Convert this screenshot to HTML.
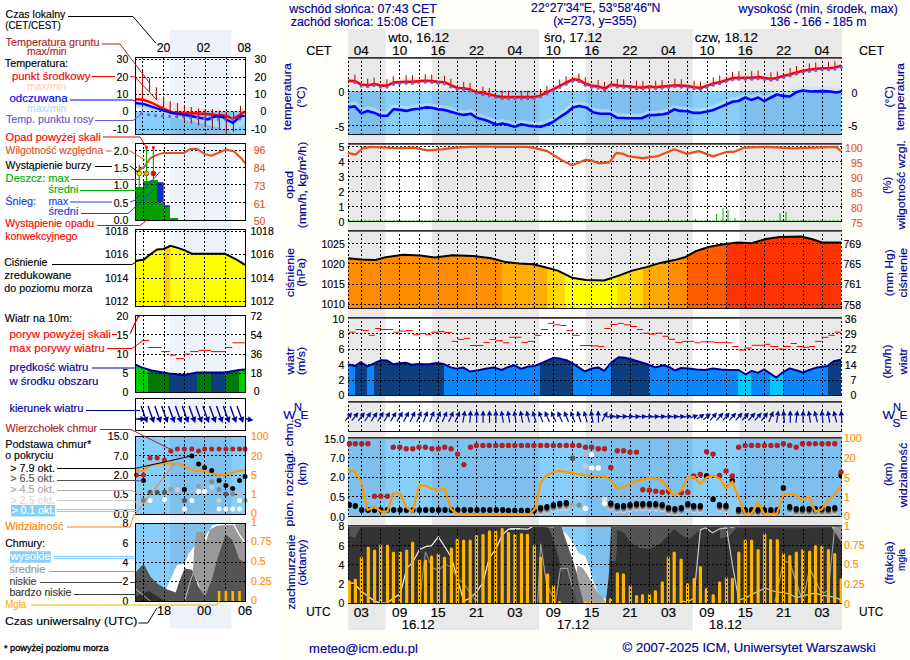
<!DOCTYPE html><html><head><meta charset="utf-8"><style>html,body{margin:0;padding:0;background:#fffef9;overflow:hidden}svg{display:block}</style></head><body><svg width="910" height="660" viewBox="0 0 910 660" font-family='"Liberation Sans", sans-serif'>
<rect width="910" height="660" fill="#fffef9"/>
<rect width="280" height="660" fill="#ffffff"/>
<rect x="348" y="29" width="494" height="601" fill="#e9e9e9"/>
<rect x="385.5" y="29" width="46.7" height="601" fill="#ffffff"/>
<rect x="539.1" y="29" width="46.7" height="601" fill="#ffffff"/>
<rect x="692.7" y="29" width="46.7" height="601" fill="#ffffff"/>
<rect x="170" y="30" width="61.5" height="598.5" fill="#eef3fb"/>
<rect x="348" y="91" width="493" height="43" fill="#7ec0ee"/>
<rect x="385.5" y="91" width="46.7" height="43" fill="#87cefa"/>
<rect x="539.1" y="91" width="46.7" height="43" fill="#87cefa"/>
<rect x="692.7" y="91" width="46.7" height="43" fill="#87cefa"/>
<path d="M348.0,80.7 L354.8,81.1 L361.4,84.6 L367.7,85.2 L374.6,84.0 L380.6,85.6 L387.5,85.6 L393.4,82.6 L400.3,82.0 L406.3,81.7 L413.2,81.7 L419.1,81.1 L425.5,80.7 L432.0,81.1 L437.9,81.7 L444.5,82.2 L450.8,85.2 L457.7,88.0 L463.6,88.2 L470.6,89.6 L476.5,92.1 L483.4,93.1 L489.4,94.5 L496.3,96.1 L502.2,97.1 L508.2,97.1 L510.0,97.1 L521.9,97.1 L533.7,97.1 L539.7,95.9 L546.6,92.5 L553.5,89.2 L560.4,85.6 L567.4,82.0 L573.3,79.3 L579.2,80.1 L585.2,83.6 L591.1,85.6 L598.0,86.6 L605.0,88.6 L610.9,84.6 L617.8,85.6 L623.7,86.0 L630.7,86.6 L636.6,87.2 L642.5,87.6 L649.5,86.6 L655.4,87.2 L662.3,86.6 L668.3,86.0 L675.2,85.2 L680.0,85.6 L687.9,86.0 L693.8,87.2 L700.8,88.0 L707.7,85.6 L713.6,83.6 L720.6,82.0 L727.5,79.7 L733.4,78.1 L739.3,77.7 L746.3,77.7 L752.2,77.7 L759.1,77.1 L765.1,78.1 L771.0,78.7 L776.9,78.1 L782.9,76.1 L788.8,74.7 L795.7,72.7 L802.7,70.8 L809.6,69.8 L816.5,68.8 L822.4,68.2 L828.4,68.2 L834.3,67.8 L841.0,65.8" fill="none" stroke="#ffd6d0" stroke-width="6" stroke-opacity="0.55" transform="translate(0,-1.5)"/>
<path d="M348.0,107.4 L354.8,106.4 L361.4,113.3 L367.7,110.9 L374.6,112.9 L380.6,115.7 L387.5,115.7 L393.4,109.3 L400.3,109.9 L406.3,110.9 L413.2,109.3 L419.1,108.8 L425.5,107.4 L432.0,107.8 L437.9,109.3 L444.5,109.9 L450.8,111.7 L457.7,113.7 L463.6,114.9 L470.6,113.7 L476.5,117.7 L483.4,119.6 L489.4,121.6 L496.3,124.8 L502.2,123.6 L508.2,124.8 L510.0,125.6 L514.9,126.8 L520.9,124.2 L527.8,125.6 L533.7,126.2 L540.7,126.8 L546.6,124.8 L552.5,122.2 L559.5,117.3 L566.4,112.9 L572.9,107.4 L579.2,106.0 L586.2,107.4 L593.1,112.3 L600.0,113.7 L609.9,113.7 L616.8,117.7 L628.7,118.2 L641.6,118.2 L648.5,115.3 L656.4,114.9 L663.3,114.3 L668.3,112.9 L674.2,109.3 L680.0,110.9 L687.9,111.3 L693.8,112.9 L699.8,112.9 L705.7,111.7 L712.6,110.3 L719.6,107.4 L726.5,104.4 L732.4,101.8 L738.4,101.0 L745.3,97.5 L751.2,99.9 L758.1,97.5 L764.1,101.0 L771.0,97.5 L776.9,94.5 L782.9,95.9 L789.8,96.5 L796.7,91.9 L802.7,90.6 L810.6,91.5 L822.4,91.1 L830.3,91.5 L836.3,92.5 L841.0,91.5" fill="none" stroke="#c0e4fb" stroke-width="5" stroke-opacity="0.6" transform="translate(0,-2)"/>
<line x1="361.5" y1="57" x2="361.5" y2="134" stroke="#000" stroke-width="1" stroke-dasharray="2,2"/>
<line x1="380.5" y1="57" x2="380.5" y2="134" stroke="#000" stroke-width="1" stroke-dasharray="2,2"/>
<line x1="399.5" y1="57" x2="399.5" y2="134" stroke="#000" stroke-width="1" stroke-dasharray="2,2"/>
<line x1="419.5" y1="57" x2="419.5" y2="134" stroke="#000" stroke-width="1" stroke-dasharray="2,2"/>
<line x1="438.5" y1="57" x2="438.5" y2="134" stroke="#000" stroke-width="1" stroke-dasharray="2,2"/>
<line x1="457.5" y1="57" x2="457.5" y2="134" stroke="#000" stroke-width="1" stroke-dasharray="2,2"/>
<line x1="476.5" y1="57" x2="476.5" y2="134" stroke="#000" stroke-width="1" stroke-dasharray="2,2"/>
<line x1="495.5" y1="57" x2="495.5" y2="134" stroke="#000" stroke-width="1" stroke-dasharray="2,2"/>
<line x1="515.5" y1="57" x2="515.5" y2="134" stroke="#000" stroke-width="1" stroke-dasharray="2,2"/>
<line x1="534.5" y1="57" x2="534.5" y2="134" stroke="#000" stroke-width="1" stroke-dasharray="2,2"/>
<line x1="553.5" y1="57" x2="553.5" y2="134" stroke="#000" stroke-width="1" stroke-dasharray="2,2"/>
<line x1="572.5" y1="57" x2="572.5" y2="134" stroke="#000" stroke-width="1" stroke-dasharray="2,2"/>
<line x1="591.5" y1="57" x2="591.5" y2="134" stroke="#000" stroke-width="1" stroke-dasharray="2,2"/>
<line x1="611.5" y1="57" x2="611.5" y2="134" stroke="#000" stroke-width="1" stroke-dasharray="2,2"/>
<line x1="630.5" y1="57" x2="630.5" y2="134" stroke="#000" stroke-width="1" stroke-dasharray="2,2"/>
<line x1="649.5" y1="57" x2="649.5" y2="134" stroke="#000" stroke-width="1" stroke-dasharray="2,2"/>
<line x1="668.5" y1="57" x2="668.5" y2="134" stroke="#000" stroke-width="1" stroke-dasharray="2,2"/>
<line x1="687.5" y1="57" x2="687.5" y2="134" stroke="#000" stroke-width="1" stroke-dasharray="2,2"/>
<line x1="707.5" y1="57" x2="707.5" y2="134" stroke="#000" stroke-width="1" stroke-dasharray="2,2"/>
<line x1="726.5" y1="57" x2="726.5" y2="134" stroke="#000" stroke-width="1" stroke-dasharray="2,2"/>
<line x1="745.5" y1="57" x2="745.5" y2="134" stroke="#000" stroke-width="1" stroke-dasharray="2,2"/>
<line x1="764.5" y1="57" x2="764.5" y2="134" stroke="#000" stroke-width="1" stroke-dasharray="2,2"/>
<line x1="783.5" y1="57" x2="783.5" y2="134" stroke="#000" stroke-width="1" stroke-dasharray="2,2"/>
<line x1="803.5" y1="57" x2="803.5" y2="134" stroke="#000" stroke-width="1" stroke-dasharray="2,2"/>
<line x1="822.5" y1="57" x2="822.5" y2="134" stroke="#000" stroke-width="1" stroke-dasharray="2,2"/>
<line x1="348.5" y1="57" x2="348.5" y2="134" stroke="#000" stroke-width="1" stroke-dasharray="2,2"/>
<line x1="841.5" y1="57" x2="841.5" y2="134" stroke="#000" stroke-width="1" stroke-dasharray="2,2"/>
<line x1="348" y1="91.5" x2="842" y2="91.5" stroke="#000" stroke-width="1" stroke-dasharray="2,2"/>
<line x1="348" y1="125.5" x2="842" y2="125.5" stroke="#000" stroke-width="1" stroke-dasharray="2,2"/>
<line x1="354.9" y1="74.6" x2="354.9" y2="82.1" stroke="#a01010" stroke-width="1"/>
<line x1="367.7" y1="78.7" x2="367.7" y2="86.2" stroke="#a01010" stroke-width="1"/>
<line x1="374.1" y1="77.6" x2="374.1" y2="85.1" stroke="#a01010" stroke-width="1"/>
<line x1="386.9" y1="79.1" x2="386.9" y2="86.6" stroke="#a01010" stroke-width="1"/>
<line x1="393.3" y1="76.2" x2="393.3" y2="83.7" stroke="#a01010" stroke-width="1"/>
<line x1="406.1" y1="75.2" x2="406.1" y2="82.7" stroke="#a01010" stroke-width="1"/>
<line x1="412.5" y1="75.2" x2="412.5" y2="82.7" stroke="#a01010" stroke-width="1"/>
<line x1="425.3" y1="74.2" x2="425.3" y2="81.7" stroke="#a01010" stroke-width="1"/>
<line x1="431.7" y1="74.5" x2="431.7" y2="82.0" stroke="#a01010" stroke-width="1"/>
<line x1="444.5" y1="75.8" x2="444.5" y2="83.3" stroke="#a01010" stroke-width="1"/>
<line x1="450.9" y1="78.8" x2="450.9" y2="86.3" stroke="#a01010" stroke-width="1"/>
<line x1="463.7" y1="81.7" x2="463.7" y2="89.2" stroke="#a01010" stroke-width="1"/>
<line x1="470.1" y1="83.0" x2="470.1" y2="90.5" stroke="#a01010" stroke-width="1"/>
<line x1="482.9" y1="86.6" x2="482.9" y2="94.1" stroke="#a01010" stroke-width="1"/>
<line x1="489.3" y1="88.0" x2="489.3" y2="95.5" stroke="#a01010" stroke-width="1"/>
<line x1="502.1" y1="90.6" x2="502.1" y2="98.1" stroke="#a01010" stroke-width="1"/>
<line x1="508.5" y1="90.6" x2="508.5" y2="98.1" stroke="#a01010" stroke-width="1"/>
<line x1="521.3" y1="90.6" x2="521.3" y2="98.1" stroke="#a01010" stroke-width="1"/>
<line x1="527.7" y1="90.6" x2="527.7" y2="98.1" stroke="#a01010" stroke-width="1"/>
<line x1="540.5" y1="89.0" x2="540.5" y2="96.5" stroke="#a01010" stroke-width="1"/>
<line x1="546.9" y1="85.9" x2="546.9" y2="93.4" stroke="#a01010" stroke-width="1"/>
<line x1="559.7" y1="79.5" x2="559.7" y2="87.0" stroke="#a01010" stroke-width="1"/>
<line x1="566.1" y1="76.2" x2="566.1" y2="83.7" stroke="#a01010" stroke-width="1"/>
<line x1="578.9" y1="73.5" x2="578.9" y2="81.0" stroke="#a01010" stroke-width="1"/>
<line x1="585.3" y1="77.2" x2="585.3" y2="84.7" stroke="#a01010" stroke-width="1"/>
<line x1="598.1" y1="80.1" x2="598.1" y2="87.6" stroke="#a01010" stroke-width="1"/>
<line x1="604.5" y1="81.9" x2="604.5" y2="89.4" stroke="#a01010" stroke-width="1"/>
<line x1="617.3" y1="79.0" x2="617.3" y2="86.5" stroke="#a01010" stroke-width="1"/>
<line x1="623.7" y1="79.5" x2="623.7" y2="87.0" stroke="#a01010" stroke-width="1"/>
<line x1="636.5" y1="80.7" x2="636.5" y2="88.2" stroke="#a01010" stroke-width="1"/>
<line x1="642.9" y1="81.0" x2="642.9" y2="88.5" stroke="#a01010" stroke-width="1"/>
<line x1="655.7" y1="80.7" x2="655.7" y2="88.2" stroke="#a01010" stroke-width="1"/>
<line x1="662.1" y1="80.1" x2="662.1" y2="87.6" stroke="#a01010" stroke-width="1"/>
<line x1="674.9" y1="78.7" x2="674.9" y2="86.2" stroke="#a01010" stroke-width="1"/>
<line x1="681.3" y1="79.2" x2="681.3" y2="86.7" stroke="#a01010" stroke-width="1"/>
<line x1="694.1" y1="80.7" x2="694.1" y2="88.2" stroke="#a01010" stroke-width="1"/>
<line x1="700.5" y1="81.5" x2="700.5" y2="89.0" stroke="#a01010" stroke-width="1"/>
<line x1="713.3" y1="77.2" x2="713.3" y2="84.7" stroke="#a01010" stroke-width="1"/>
<line x1="719.7" y1="75.7" x2="719.7" y2="83.2" stroke="#a01010" stroke-width="1"/>
<line x1="732.5" y1="71.8" x2="732.5" y2="79.3" stroke="#a01010" stroke-width="1"/>
<line x1="738.9" y1="71.2" x2="738.9" y2="78.7" stroke="#a01010" stroke-width="1"/>
<line x1="751.7" y1="71.2" x2="751.7" y2="78.7" stroke="#a01010" stroke-width="1"/>
<line x1="758.1" y1="70.7" x2="758.1" y2="78.2" stroke="#a01010" stroke-width="1"/>
<line x1="770.9" y1="72.2" x2="770.9" y2="79.7" stroke="#a01010" stroke-width="1"/>
<line x1="777.3" y1="71.5" x2="777.3" y2="79.0" stroke="#a01010" stroke-width="1"/>
<line x1="790.1" y1="67.9" x2="790.1" y2="75.4" stroke="#a01010" stroke-width="1"/>
<line x1="796.5" y1="66.0" x2="796.5" y2="73.5" stroke="#a01010" stroke-width="1"/>
<line x1="809.3" y1="63.3" x2="809.3" y2="70.8" stroke="#a01010" stroke-width="1"/>
<line x1="815.7" y1="62.4" x2="815.7" y2="69.9" stroke="#a01010" stroke-width="1"/>
<line x1="828.5" y1="61.7" x2="828.5" y2="69.2" stroke="#a01010" stroke-width="1"/>
<line x1="834.9" y1="61.1" x2="834.9" y2="68.6" stroke="#a01010" stroke-width="1"/>
<path d="M348.0,80.7 L354.8,81.1 L361.4,84.6 L367.7,85.2 L374.6,84.0 L380.6,85.6 L387.5,85.6 L393.4,82.6 L400.3,82.0 L406.3,81.7 L413.2,81.7 L419.1,81.1 L425.5,80.7 L432.0,81.1 L437.9,81.7 L444.5,82.2 L450.8,85.2 L457.7,88.0 L463.6,88.2 L470.6,89.6 L476.5,92.1 L483.4,93.1 L489.4,94.5 L496.3,96.1 L502.2,97.1 L508.2,97.1 L510.0,97.1 L521.9,97.1 L533.7,97.1 L539.7,95.9 L546.6,92.5 L553.5,89.2 L560.4,85.6 L567.4,82.0 L573.3,79.3 L579.2,80.1 L585.2,83.6 L591.1,85.6 L598.0,86.6 L605.0,88.6 L610.9,84.6 L617.8,85.6 L623.7,86.0 L630.7,86.6 L636.6,87.2 L642.5,87.6 L649.5,86.6 L655.4,87.2 L662.3,86.6 L668.3,86.0 L675.2,85.2 L680.0,85.6 L687.9,86.0 L693.8,87.2 L700.8,88.0 L707.7,85.6 L713.6,83.6 L720.6,82.0 L727.5,79.7 L733.4,78.1 L739.3,77.7 L746.3,77.7 L752.2,77.7 L759.1,77.1 L765.1,78.1 L771.0,78.7 L776.9,78.1 L782.9,76.1 L788.8,74.7 L795.7,72.7 L802.7,70.8 L809.6,69.8 L816.5,68.8 L822.4,68.2 L828.4,68.2 L834.3,67.8 L841.0,65.8" fill="none" stroke="#ff0000" stroke-width="2.6" stroke-linejoin="round"/>
<path d="M348.0,107.4 L354.8,106.4 L361.4,113.3 L367.7,110.9 L374.6,112.9 L380.6,115.7 L387.5,115.7 L393.4,109.3 L400.3,109.9 L406.3,110.9 L413.2,109.3 L419.1,108.8 L425.5,107.4 L432.0,107.8 L437.9,109.3 L444.5,109.9 L450.8,111.7 L457.7,113.7 L463.6,114.9 L470.6,113.7 L476.5,117.7 L483.4,119.6 L489.4,121.6 L496.3,124.8 L502.2,123.6 L508.2,124.8 L510.0,125.6 L514.9,126.8 L520.9,124.2 L527.8,125.6 L533.7,126.2 L540.7,126.8 L546.6,124.8 L552.5,122.2 L559.5,117.3 L566.4,112.9 L572.9,107.4 L579.2,106.0 L586.2,107.4 L593.1,112.3 L600.0,113.7 L609.9,113.7 L616.8,117.7 L628.7,118.2 L641.6,118.2 L648.5,115.3 L656.4,114.9 L663.3,114.3 L668.3,112.9 L674.2,109.3 L680.0,110.9 L687.9,111.3 L693.8,112.9 L699.8,112.9 L705.7,111.7 L712.6,110.3 L719.6,107.4 L726.5,104.4 L732.4,101.8 L738.4,101.0 L745.3,97.5 L751.2,99.9 L758.1,97.5 L764.1,101.0 L771.0,97.5 L776.9,94.5 L782.9,95.9 L789.8,96.5 L796.7,91.9 L802.7,90.6 L810.6,91.5 L822.4,91.1 L830.3,91.5 L836.3,92.5 L841.0,91.5" fill="none" stroke="#0000ff" stroke-width="2.6" stroke-linejoin="round"/>
<circle cx="354.9" cy="82.6" r="1.6" fill="#6a5ae0"/>
<circle cx="361.3" cy="86.1" r="1.6" fill="#6a5ae0"/>
<circle cx="367.7" cy="86.7" r="1.6" fill="#6a5ae0"/>
<circle cx="374.1" cy="85.6" r="1.6" fill="#6a5ae0"/>
<circle cx="380.5" cy="87.1" r="1.6" fill="#6a5ae0"/>
<circle cx="386.9" cy="87.1" r="1.6" fill="#6a5ae0"/>
<circle cx="393.3" cy="84.2" r="1.6" fill="#6a5ae0"/>
<circle cx="399.7" cy="83.6" r="1.6" fill="#6a5ae0"/>
<circle cx="406.1" cy="83.2" r="1.6" fill="#6a5ae0"/>
<circle cx="412.5" cy="83.2" r="1.6" fill="#6a5ae0"/>
<circle cx="418.9" cy="82.6" r="1.6" fill="#6a5ae0"/>
<circle cx="425.3" cy="82.2" r="1.6" fill="#6a5ae0"/>
<circle cx="431.7" cy="82.5" r="1.6" fill="#6a5ae0"/>
<circle cx="438.1" cy="83.2" r="1.6" fill="#6a5ae0"/>
<circle cx="444.5" cy="83.8" r="1.6" fill="#6a5ae0"/>
<circle cx="450.9" cy="86.8" r="1.6" fill="#6a5ae0"/>
<circle cx="457.3" cy="89.3" r="1.6" fill="#6a5ae0"/>
<circle cx="463.7" cy="89.7" r="1.6" fill="#6a5ae0"/>
<circle cx="470.1" cy="91.0" r="1.6" fill="#6a5ae0"/>
<circle cx="476.5" cy="93.6" r="1.6" fill="#6a5ae0"/>
<circle cx="482.9" cy="94.6" r="1.6" fill="#6a5ae0"/>
<circle cx="489.3" cy="96.0" r="1.6" fill="#6a5ae0"/>
<circle cx="495.7" cy="97.5" r="1.6" fill="#6a5ae0"/>
<circle cx="502.1" cy="98.6" r="1.6" fill="#6a5ae0"/>
<circle cx="508.5" cy="98.6" r="1.6" fill="#6a5ae0"/>
<circle cx="514.9" cy="98.6" r="1.6" fill="#6a5ae0"/>
<circle cx="521.3" cy="98.6" r="1.6" fill="#6a5ae0"/>
<circle cx="527.7" cy="98.6" r="1.6" fill="#6a5ae0"/>
<circle cx="534.1" cy="98.5" r="1.6" fill="#6a5ae0"/>
<circle cx="540.5" cy="97.0" r="1.6" fill="#6a5ae0"/>
<circle cx="546.9" cy="93.9" r="1.6" fill="#6a5ae0"/>
<circle cx="553.3" cy="90.8" r="1.6" fill="#6a5ae0"/>
<circle cx="559.7" cy="87.5" r="1.6" fill="#6a5ae0"/>
<circle cx="566.1" cy="84.2" r="1.6" fill="#6a5ae0"/>
<circle cx="572.5" cy="81.2" r="1.6" fill="#6a5ae0"/>
<circle cx="578.9" cy="81.5" r="1.6" fill="#6a5ae0"/>
<circle cx="585.3" cy="85.2" r="1.6" fill="#6a5ae0"/>
<circle cx="591.7" cy="87.2" r="1.6" fill="#6a5ae0"/>
<circle cx="598.1" cy="88.1" r="1.6" fill="#6a5ae0"/>
<circle cx="604.5" cy="89.9" r="1.6" fill="#6a5ae0"/>
<circle cx="610.9" cy="86.1" r="1.6" fill="#6a5ae0"/>
<circle cx="617.3" cy="87.0" r="1.6" fill="#6a5ae0"/>
<circle cx="623.7" cy="87.5" r="1.6" fill="#6a5ae0"/>
<circle cx="630.1" cy="88.0" r="1.6" fill="#6a5ae0"/>
<circle cx="636.5" cy="88.7" r="1.6" fill="#6a5ae0"/>
<circle cx="642.9" cy="89.0" r="1.6" fill="#6a5ae0"/>
<circle cx="649.3" cy="88.1" r="1.6" fill="#6a5ae0"/>
<circle cx="655.7" cy="88.7" r="1.6" fill="#6a5ae0"/>
<circle cx="662.1" cy="88.1" r="1.6" fill="#6a5ae0"/>
<circle cx="668.5" cy="87.5" r="1.6" fill="#6a5ae0"/>
<circle cx="674.9" cy="86.7" r="1.6" fill="#6a5ae0"/>
<circle cx="681.3" cy="87.2" r="1.6" fill="#6a5ae0"/>
<circle cx="687.7" cy="87.5" r="1.6" fill="#6a5ae0"/>
<circle cx="694.1" cy="88.7" r="1.6" fill="#6a5ae0"/>
<circle cx="700.5" cy="89.5" r="1.6" fill="#6a5ae0"/>
<circle cx="706.9" cy="87.4" r="1.6" fill="#6a5ae0"/>
<circle cx="713.3" cy="85.2" r="1.6" fill="#6a5ae0"/>
<circle cx="719.7" cy="83.7" r="1.6" fill="#6a5ae0"/>
<circle cx="726.1" cy="81.6" r="1.6" fill="#6a5ae0"/>
<circle cx="732.5" cy="79.8" r="1.6" fill="#6a5ae0"/>
<circle cx="738.9" cy="79.2" r="1.6" fill="#6a5ae0"/>
<circle cx="745.3" cy="79.2" r="1.6" fill="#6a5ae0"/>
<circle cx="751.7" cy="79.2" r="1.6" fill="#6a5ae0"/>
<circle cx="758.1" cy="78.7" r="1.6" fill="#6a5ae0"/>
<circle cx="764.5" cy="79.5" r="1.6" fill="#6a5ae0"/>
<circle cx="770.9" cy="80.2" r="1.6" fill="#6a5ae0"/>
<circle cx="777.3" cy="79.5" r="1.6" fill="#6a5ae0"/>
<circle cx="783.7" cy="77.4" r="1.6" fill="#6a5ae0"/>
<circle cx="790.1" cy="75.9" r="1.6" fill="#6a5ae0"/>
<circle cx="796.5" cy="74.0" r="1.6" fill="#6a5ae0"/>
<circle cx="802.9" cy="72.2" r="1.6" fill="#6a5ae0"/>
<circle cx="809.3" cy="71.3" r="1.6" fill="#6a5ae0"/>
<circle cx="815.7" cy="70.4" r="1.6" fill="#6a5ae0"/>
<circle cx="822.1" cy="69.7" r="1.6" fill="#6a5ae0"/>
<circle cx="828.5" cy="69.7" r="1.6" fill="#6a5ae0"/>
<circle cx="834.9" cy="69.1" r="1.6" fill="#6a5ae0"/>
<circle cx="841.3" cy="67.3" r="1.6" fill="#6a5ae0"/>
<line x1="348" y1="57.5" x2="842" y2="57.5" stroke="#333" stroke-width="1"/>
<line x1="348" y1="58.5" x2="842" y2="58.5" stroke="#666" stroke-width="1"/>
<line x1="348" y1="134.5" x2="842" y2="134.5" stroke="#111" stroke-width="1"/>
<line x1="361.5" y1="143" x2="361.5" y2="221" stroke="#000" stroke-width="1" stroke-dasharray="2,2"/>
<line x1="380.5" y1="143" x2="380.5" y2="221" stroke="#000" stroke-width="1" stroke-dasharray="2,2"/>
<line x1="399.5" y1="143" x2="399.5" y2="221" stroke="#000" stroke-width="1" stroke-dasharray="2,2"/>
<line x1="419.5" y1="143" x2="419.5" y2="221" stroke="#000" stroke-width="1" stroke-dasharray="2,2"/>
<line x1="438.5" y1="143" x2="438.5" y2="221" stroke="#000" stroke-width="1" stroke-dasharray="2,2"/>
<line x1="457.5" y1="143" x2="457.5" y2="221" stroke="#000" stroke-width="1" stroke-dasharray="2,2"/>
<line x1="476.5" y1="143" x2="476.5" y2="221" stroke="#000" stroke-width="1" stroke-dasharray="2,2"/>
<line x1="495.5" y1="143" x2="495.5" y2="221" stroke="#000" stroke-width="1" stroke-dasharray="2,2"/>
<line x1="515.5" y1="143" x2="515.5" y2="221" stroke="#000" stroke-width="1" stroke-dasharray="2,2"/>
<line x1="534.5" y1="143" x2="534.5" y2="221" stroke="#000" stroke-width="1" stroke-dasharray="2,2"/>
<line x1="553.5" y1="143" x2="553.5" y2="221" stroke="#000" stroke-width="1" stroke-dasharray="2,2"/>
<line x1="572.5" y1="143" x2="572.5" y2="221" stroke="#000" stroke-width="1" stroke-dasharray="2,2"/>
<line x1="591.5" y1="143" x2="591.5" y2="221" stroke="#000" stroke-width="1" stroke-dasharray="2,2"/>
<line x1="611.5" y1="143" x2="611.5" y2="221" stroke="#000" stroke-width="1" stroke-dasharray="2,2"/>
<line x1="630.5" y1="143" x2="630.5" y2="221" stroke="#000" stroke-width="1" stroke-dasharray="2,2"/>
<line x1="649.5" y1="143" x2="649.5" y2="221" stroke="#000" stroke-width="1" stroke-dasharray="2,2"/>
<line x1="668.5" y1="143" x2="668.5" y2="221" stroke="#000" stroke-width="1" stroke-dasharray="2,2"/>
<line x1="687.5" y1="143" x2="687.5" y2="221" stroke="#000" stroke-width="1" stroke-dasharray="2,2"/>
<line x1="707.5" y1="143" x2="707.5" y2="221" stroke="#000" stroke-width="1" stroke-dasharray="2,2"/>
<line x1="726.5" y1="143" x2="726.5" y2="221" stroke="#000" stroke-width="1" stroke-dasharray="2,2"/>
<line x1="745.5" y1="143" x2="745.5" y2="221" stroke="#000" stroke-width="1" stroke-dasharray="2,2"/>
<line x1="764.5" y1="143" x2="764.5" y2="221" stroke="#000" stroke-width="1" stroke-dasharray="2,2"/>
<line x1="783.5" y1="143" x2="783.5" y2="221" stroke="#000" stroke-width="1" stroke-dasharray="2,2"/>
<line x1="803.5" y1="143" x2="803.5" y2="221" stroke="#000" stroke-width="1" stroke-dasharray="2,2"/>
<line x1="822.5" y1="143" x2="822.5" y2="221" stroke="#000" stroke-width="1" stroke-dasharray="2,2"/>
<line x1="348.5" y1="143" x2="348.5" y2="221" stroke="#000" stroke-width="1" stroke-dasharray="2,2"/>
<line x1="841.5" y1="143" x2="841.5" y2="221" stroke="#000" stroke-width="1" stroke-dasharray="2,2"/>
<line x1="348" y1="146.5" x2="842" y2="146.5" stroke="#000" stroke-width="1" stroke-dasharray="2,2"/>
<line x1="348" y1="161.5" x2="842" y2="161.5" stroke="#000" stroke-width="1" stroke-dasharray="2,2"/>
<line x1="348" y1="176.5" x2="842" y2="176.5" stroke="#000" stroke-width="1" stroke-dasharray="2,2"/>
<line x1="348" y1="191.5" x2="842" y2="191.5" stroke="#000" stroke-width="1" stroke-dasharray="2,2"/>
<line x1="348" y1="206.5" x2="842" y2="206.5" stroke="#000" stroke-width="1" stroke-dasharray="2,2"/>
<line x1="348" y1="221" x2="841" y2="221" stroke="#00a000" stroke-width="1" stroke-dasharray="3,1"/>
<line x1="695.5" y1="219" x2="695.5" y2="221.5" stroke="#00b000" stroke-width="1"/>
<line x1="716.6" y1="214" x2="716.6" y2="221.5" stroke="#00b000" stroke-width="1"/>
<line x1="723.0" y1="208" x2="723.0" y2="221.5" stroke="#00b000" stroke-width="1"/>
<line x1="728.0" y1="210" x2="728.0" y2="221.5" stroke="#00b000" stroke-width="1"/>
<line x1="735.0" y1="218" x2="735.0" y2="221.5" stroke="#00b000" stroke-width="1"/>
<line x1="780.0" y1="213" x2="780.0" y2="221.5" stroke="#00b000" stroke-width="1"/>
<line x1="786.0" y1="212" x2="786.0" y2="221.5" stroke="#00b000" stroke-width="1"/>
<path d="M348.0,152.9 L355.6,154.6 L362.6,148.3 L371.4,146.9 L385.5,147.6 L399.5,148.3 L413.6,147.6 L427.7,150.4 L441.7,149.3 L455.8,147.6 L469.9,146.9 L483.9,146.5 L498.0,146.9 L512.1,146.9 L526.1,146.9 L533.2,147.6 L547.2,151.1 L561.3,159.9 L571.8,165.2 L585.9,159.9 L592.9,160.9 L598.8,163.4 L609.3,162.3 L616.4,152.9 L623.4,153.9 L628.7,156.4 L642.7,158.1 L656.8,156.4 L674.4,149.3 L686.7,153.9 L699.0,151.1 L713.1,156.4 L727.1,151.8 L734.2,151.8 L744.7,147.6 L765.8,146.9 L793.9,148.3 L815.0,147.6 L836.1,146.9 L841.0,151.1" fill="none" stroke="#e8501a" stroke-width="2.2" stroke-linejoin="round"/>
<line x1="348" y1="143.5" x2="842" y2="143.5" stroke="#333" stroke-width="1"/>
<line x1="348" y1="144.5" x2="842" y2="144.5" stroke="#666" stroke-width="1"/>
<line x1="348" y1="221.5" x2="842" y2="221.5" stroke="#111" stroke-width="1"/>
<defs><clipPath id="prclip"><path d="M348.0,258.3 L360.9,259.4 L374.9,260.1 L385.5,257.3 L403.1,254.8 L420.6,255.5 L434.7,257.6 L452.3,255.2 L473.4,255.9 L491.0,258.3 L505.0,261.9 L519.1,263.6 L533.2,264.3 L547.2,267.8 L557.8,270.6 L571.8,277.7 L585.9,280.1 L604.1,280.5 L618.1,275.9 L632.2,270.6 L646.3,267.1 L660.3,262.9 L674.4,260.1 L684.9,257.3 L695.5,251.3 L709.5,246.7 L723.6,244.3 L737.7,242.5 L751.7,243.2 L765.8,239.0 L779.9,236.9 L801.0,236.5 L811.5,239.0 L822.1,242.5 L841.0,242.5 L841,308 L348,308 Z"/></clipPath></defs>
<g clip-path="url(#prclip)">
<rect x="348" y="230" width="119.5" height="78" fill="#ff8b00" shape-rendering="crispEdges"/>
<rect x="467.5" y="230" width="34.5" height="78" fill="#ff8e00" shape-rendering="crispEdges"/>
<rect x="502" y="230" width="44.6" height="78" fill="#ffab00" shape-rendering="crispEdges"/>
<rect x="546.6" y="230" width="18.8" height="78" fill="#ffd700" shape-rendering="crispEdges"/>
<rect x="565.4" y="230" width="51.4" height="78" fill="#ffff00" shape-rendering="crispEdges"/>
<rect x="616.8" y="230" width="25.7" height="78" fill="#ffd800" shape-rendering="crispEdges"/>
<rect x="642.5" y="230" width="25.7" height="78" fill="#ffaa00" shape-rendering="crispEdges"/>
<rect x="668.2" y="230" width="18.8" height="78" fill="#ff8c00" shape-rendering="crispEdges"/>
<rect x="687" y="230" width="38.6" height="78" fill="#ff5c00" shape-rendering="crispEdges"/>
<rect x="725.6" y="230" width="116.4" height="78" fill="#ff3300" shape-rendering="crispEdges"/>
</g>
<line x1="361.5" y1="230" x2="361.5" y2="308" stroke="#000" stroke-width="1" stroke-dasharray="2,2"/>
<line x1="380.5" y1="230" x2="380.5" y2="308" stroke="#000" stroke-width="1" stroke-dasharray="2,2"/>
<line x1="399.5" y1="230" x2="399.5" y2="308" stroke="#000" stroke-width="1" stroke-dasharray="2,2"/>
<line x1="419.5" y1="230" x2="419.5" y2="308" stroke="#000" stroke-width="1" stroke-dasharray="2,2"/>
<line x1="438.5" y1="230" x2="438.5" y2="308" stroke="#000" stroke-width="1" stroke-dasharray="2,2"/>
<line x1="457.5" y1="230" x2="457.5" y2="308" stroke="#000" stroke-width="1" stroke-dasharray="2,2"/>
<line x1="476.5" y1="230" x2="476.5" y2="308" stroke="#000" stroke-width="1" stroke-dasharray="2,2"/>
<line x1="495.5" y1="230" x2="495.5" y2="308" stroke="#000" stroke-width="1" stroke-dasharray="2,2"/>
<line x1="515.5" y1="230" x2="515.5" y2="308" stroke="#000" stroke-width="1" stroke-dasharray="2,2"/>
<line x1="534.5" y1="230" x2="534.5" y2="308" stroke="#000" stroke-width="1" stroke-dasharray="2,2"/>
<line x1="553.5" y1="230" x2="553.5" y2="308" stroke="#000" stroke-width="1" stroke-dasharray="2,2"/>
<line x1="572.5" y1="230" x2="572.5" y2="308" stroke="#000" stroke-width="1" stroke-dasharray="2,2"/>
<line x1="591.5" y1="230" x2="591.5" y2="308" stroke="#000" stroke-width="1" stroke-dasharray="2,2"/>
<line x1="611.5" y1="230" x2="611.5" y2="308" stroke="#000" stroke-width="1" stroke-dasharray="2,2"/>
<line x1="630.5" y1="230" x2="630.5" y2="308" stroke="#000" stroke-width="1" stroke-dasharray="2,2"/>
<line x1="649.5" y1="230" x2="649.5" y2="308" stroke="#000" stroke-width="1" stroke-dasharray="2,2"/>
<line x1="668.5" y1="230" x2="668.5" y2="308" stroke="#000" stroke-width="1" stroke-dasharray="2,2"/>
<line x1="687.5" y1="230" x2="687.5" y2="308" stroke="#000" stroke-width="1" stroke-dasharray="2,2"/>
<line x1="707.5" y1="230" x2="707.5" y2="308" stroke="#000" stroke-width="1" stroke-dasharray="2,2"/>
<line x1="726.5" y1="230" x2="726.5" y2="308" stroke="#000" stroke-width="1" stroke-dasharray="2,2"/>
<line x1="745.5" y1="230" x2="745.5" y2="308" stroke="#000" stroke-width="1" stroke-dasharray="2,2"/>
<line x1="764.5" y1="230" x2="764.5" y2="308" stroke="#000" stroke-width="1" stroke-dasharray="2,2"/>
<line x1="783.5" y1="230" x2="783.5" y2="308" stroke="#000" stroke-width="1" stroke-dasharray="2,2"/>
<line x1="803.5" y1="230" x2="803.5" y2="308" stroke="#000" stroke-width="1" stroke-dasharray="2,2"/>
<line x1="822.5" y1="230" x2="822.5" y2="308" stroke="#000" stroke-width="1" stroke-dasharray="2,2"/>
<line x1="348.5" y1="230" x2="348.5" y2="308" stroke="#000" stroke-width="1" stroke-dasharray="2,2"/>
<line x1="841.5" y1="230" x2="841.5" y2="308" stroke="#000" stroke-width="1" stroke-dasharray="2,2"/>
<line x1="348" y1="243.5" x2="842" y2="243.5" stroke="#000" stroke-width="1" stroke-dasharray="2,2"/>
<line x1="348" y1="263.5" x2="842" y2="263.5" stroke="#000" stroke-width="1" stroke-dasharray="2,2"/>
<line x1="348" y1="284.5" x2="842" y2="284.5" stroke="#000" stroke-width="1" stroke-dasharray="2,2"/>
<line x1="348" y1="304.5" x2="842" y2="304.5" stroke="#000" stroke-width="1" stroke-dasharray="2,2"/>
<path d="M348.0,258.3 L360.9,259.4 L374.9,260.1 L385.5,257.3 L403.1,254.8 L420.6,255.5 L434.7,257.6 L452.3,255.2 L473.4,255.9 L491.0,258.3 L505.0,261.9 L519.1,263.6 L533.2,264.3 L547.2,267.8 L557.8,270.6 L571.8,277.7 L585.9,280.1 L604.1,280.5 L618.1,275.9 L632.2,270.6 L646.3,267.1 L660.3,262.9 L674.4,260.1 L684.9,257.3 L695.5,251.3 L709.5,246.7 L723.6,244.3 L737.7,242.5 L751.7,243.2 L765.8,239.0 L779.9,236.9 L801.0,236.5 L811.5,239.0 L822.1,242.5 L841.0,242.5" fill="none" stroke="#000" stroke-width="2" stroke-linejoin="round"/>
<line x1="348" y1="230.5" x2="842" y2="230.5" stroke="#333" stroke-width="1"/>
<line x1="348" y1="231.5" x2="842" y2="231.5" stroke="#666" stroke-width="1"/>
<line x1="348" y1="308.5" x2="842" y2="308.5" stroke="#111" stroke-width="1"/>
<defs><clipPath id="wclip"><path d="M348.0,364.3 L354.5,366.0 L360.7,362.3 L367.8,366.4 L374.0,363.3 L381.1,360.2 L387.3,360.6 L393.4,364.3 L399.5,363.3 L405.7,362.7 L411.8,364.7 L418.0,363.9 L424.1,364.3 L430.2,363.9 L437.4,362.9 L444.5,364.3 L450.7,367.4 L456.8,368.8 L463.0,367.4 L470.1,371.5 L477.3,370.5 L485.5,368.8 L493.6,367.4 L501.8,370.0 L507.2,367.4 L514.3,365.3 L521.5,368.8 L528.6,366.4 L534.8,366.0 L540.9,363.3 L553.2,357.8 L559.3,358.6 L566.5,360.2 L572.6,363.3 L578.7,367.4 L584.9,371.5 L592.0,368.4 L598.2,367.4 L604.3,370.9 L611.5,362.3 L618.6,357.2 L624.8,357.8 L630.9,359.2 L639.1,361.7 L647.3,364.3 L655.5,367.4 L663.6,365.3 L669.8,367.4 L675.1,370.5 L681.2,368.0 L688.4,368.4 L696.6,369.4 L704.8,370.0 L713.0,368.4 L721.1,369.4 L729.3,370.0 L738.5,370.0 L745.7,374.5 L751.8,370.9 L758.0,372.9 L764.1,369.4 L770.2,373.5 L776.4,377.6 L782.5,372.5 L789.7,368.4 L796.8,370.5 L803.0,372.5 L809.1,370.0 L817.3,367.4 L827.5,366.0 L833.6,361.2 L841.0,359.8 L841,395 L348,395 Z"/></clipPath></defs>
<g clip-path="url(#wclip)">
<rect x="348" y="317" width="493" height="78" fill="#0a87ff"/>
<rect x="354.5" y="317" width="12.7" height="78" fill="#0b3f80" shape-rendering="crispEdges"/>
<rect x="374" y="317" width="69.5" height="78" fill="#0b3f80" shape-rendering="crispEdges"/>
<rect x="540" y="317" width="32.6" height="78" fill="#0b3f80" shape-rendering="crispEdges"/>
<rect x="610.5" y="317" width="38.5" height="78" fill="#0b3f80" shape-rendering="crispEdges"/>
<rect x="828" y="317" width="13.0" height="78" fill="#0b3f80" shape-rendering="crispEdges"/>
<rect x="738" y="317" width="13.0" height="78" fill="#00c8ff" shape-rendering="crispEdges"/>
<rect x="770" y="317" width="13.0" height="78" fill="#00c8ff" shape-rendering="crispEdges"/>
</g>
<line x1="361.5" y1="317" x2="361.5" y2="395" stroke="#000" stroke-width="1" stroke-dasharray="2,2"/>
<line x1="380.5" y1="317" x2="380.5" y2="395" stroke="#000" stroke-width="1" stroke-dasharray="2,2"/>
<line x1="399.5" y1="317" x2="399.5" y2="395" stroke="#000" stroke-width="1" stroke-dasharray="2,2"/>
<line x1="419.5" y1="317" x2="419.5" y2="395" stroke="#000" stroke-width="1" stroke-dasharray="2,2"/>
<line x1="438.5" y1="317" x2="438.5" y2="395" stroke="#000" stroke-width="1" stroke-dasharray="2,2"/>
<line x1="457.5" y1="317" x2="457.5" y2="395" stroke="#000" stroke-width="1" stroke-dasharray="2,2"/>
<line x1="476.5" y1="317" x2="476.5" y2="395" stroke="#000" stroke-width="1" stroke-dasharray="2,2"/>
<line x1="495.5" y1="317" x2="495.5" y2="395" stroke="#000" stroke-width="1" stroke-dasharray="2,2"/>
<line x1="515.5" y1="317" x2="515.5" y2="395" stroke="#000" stroke-width="1" stroke-dasharray="2,2"/>
<line x1="534.5" y1="317" x2="534.5" y2="395" stroke="#000" stroke-width="1" stroke-dasharray="2,2"/>
<line x1="553.5" y1="317" x2="553.5" y2="395" stroke="#000" stroke-width="1" stroke-dasharray="2,2"/>
<line x1="572.5" y1="317" x2="572.5" y2="395" stroke="#000" stroke-width="1" stroke-dasharray="2,2"/>
<line x1="591.5" y1="317" x2="591.5" y2="395" stroke="#000" stroke-width="1" stroke-dasharray="2,2"/>
<line x1="611.5" y1="317" x2="611.5" y2="395" stroke="#000" stroke-width="1" stroke-dasharray="2,2"/>
<line x1="630.5" y1="317" x2="630.5" y2="395" stroke="#000" stroke-width="1" stroke-dasharray="2,2"/>
<line x1="649.5" y1="317" x2="649.5" y2="395" stroke="#000" stroke-width="1" stroke-dasharray="2,2"/>
<line x1="668.5" y1="317" x2="668.5" y2="395" stroke="#000" stroke-width="1" stroke-dasharray="2,2"/>
<line x1="687.5" y1="317" x2="687.5" y2="395" stroke="#000" stroke-width="1" stroke-dasharray="2,2"/>
<line x1="707.5" y1="317" x2="707.5" y2="395" stroke="#000" stroke-width="1" stroke-dasharray="2,2"/>
<line x1="726.5" y1="317" x2="726.5" y2="395" stroke="#000" stroke-width="1" stroke-dasharray="2,2"/>
<line x1="745.5" y1="317" x2="745.5" y2="395" stroke="#000" stroke-width="1" stroke-dasharray="2,2"/>
<line x1="764.5" y1="317" x2="764.5" y2="395" stroke="#000" stroke-width="1" stroke-dasharray="2,2"/>
<line x1="783.5" y1="317" x2="783.5" y2="395" stroke="#000" stroke-width="1" stroke-dasharray="2,2"/>
<line x1="803.5" y1="317" x2="803.5" y2="395" stroke="#000" stroke-width="1" stroke-dasharray="2,2"/>
<line x1="822.5" y1="317" x2="822.5" y2="395" stroke="#000" stroke-width="1" stroke-dasharray="2,2"/>
<line x1="348.5" y1="317" x2="348.5" y2="395" stroke="#000" stroke-width="1" stroke-dasharray="2,2"/>
<line x1="841.5" y1="317" x2="841.5" y2="395" stroke="#000" stroke-width="1" stroke-dasharray="2,2"/>
<line x1="348" y1="318.5" x2="842" y2="318.5" stroke="#000" stroke-width="1" stroke-dasharray="2,2"/>
<line x1="348" y1="333.5" x2="842" y2="333.5" stroke="#000" stroke-width="1" stroke-dasharray="2,2"/>
<line x1="348" y1="349.5" x2="842" y2="349.5" stroke="#000" stroke-width="1" stroke-dasharray="2,2"/>
<line x1="348" y1="364.5" x2="842" y2="364.5" stroke="#000" stroke-width="1" stroke-dasharray="2,2"/>
<line x1="348" y1="380.5" x2="842" y2="380.5" stroke="#000" stroke-width="1" stroke-dasharray="2,2"/>
<path d="M348.0,364.3 L354.5,366.0 L360.7,362.3 L367.8,366.4 L374.0,363.3 L381.1,360.2 L387.3,360.6 L393.4,364.3 L399.5,363.3 L405.7,362.7 L411.8,364.7 L418.0,363.9 L424.1,364.3 L430.2,363.9 L437.4,362.9 L444.5,364.3 L450.7,367.4 L456.8,368.8 L463.0,367.4 L470.1,371.5 L477.3,370.5 L485.5,368.8 L493.6,367.4 L501.8,370.0 L507.2,367.4 L514.3,365.3 L521.5,368.8 L528.6,366.4 L534.8,366.0 L540.9,363.3 L553.2,357.8 L559.3,358.6 L566.5,360.2 L572.6,363.3 L578.7,367.4 L584.9,371.5 L592.0,368.4 L598.2,367.4 L604.3,370.9 L611.5,362.3 L618.6,357.2 L624.8,357.8 L630.9,359.2 L639.1,361.7 L647.3,364.3 L655.5,367.4 L663.6,365.3 L669.8,367.4 L675.1,370.5 L681.2,368.0 L688.4,368.4 L696.6,369.4 L704.8,370.0 L713.0,368.4 L721.1,369.4 L729.3,370.0 L738.5,370.0 L745.7,374.5 L751.8,370.9 L758.0,372.9 L764.1,369.4 L770.2,373.5 L776.4,377.6 L782.5,372.5 L789.7,368.4 L796.8,370.5 L803.0,372.5 L809.1,370.0 L817.3,367.4 L827.5,366.0 L833.6,361.2 L841.0,359.8" fill="none" stroke="#000090" stroke-width="2" stroke-linejoin="round"/>
<line x1="348.8" y1="332.2" x2="355.6" y2="332.2" stroke="#ff0000" stroke-width="1"/>
<line x1="355.6" y1="329.5" x2="362.7" y2="329.5" stroke="#ff0000" stroke-width="1"/>
<line x1="362.7" y1="330.6" x2="368.9" y2="330.6" stroke="#ff0000" stroke-width="1"/>
<line x1="368.9" y1="335.3" x2="375.0" y2="335.3" stroke="#ff0000" stroke-width="1"/>
<line x1="375.0" y1="328.5" x2="381.1" y2="328.5" stroke="#ff0000" stroke-width="1"/>
<line x1="381.1" y1="329.5" x2="393.4" y2="329.5" stroke="#ff0000" stroke-width="1"/>
<line x1="393.4" y1="332.2" x2="399.5" y2="332.2" stroke="#ff0000" stroke-width="1"/>
<line x1="399.5" y1="331.2" x2="405.7" y2="331.2" stroke="#ff0000" stroke-width="1"/>
<line x1="405.7" y1="330.6" x2="412.8" y2="330.6" stroke="#ff0000" stroke-width="1"/>
<line x1="412.8" y1="334.7" x2="419.0" y2="334.7" stroke="#ff0000" stroke-width="1"/>
<line x1="419.0" y1="333.6" x2="425.1" y2="333.6" stroke="#ff0000" stroke-width="1"/>
<line x1="425.1" y1="334.7" x2="431.2" y2="334.7" stroke="#ff0000" stroke-width="1"/>
<line x1="431.2" y1="332.2" x2="438.4" y2="332.2" stroke="#ff0000" stroke-width="1"/>
<line x1="438.4" y1="331.6" x2="444.5" y2="331.6" stroke="#ff0000" stroke-width="1"/>
<line x1="444.5" y1="332.6" x2="451.7" y2="332.6" stroke="#ff0000" stroke-width="1"/>
<line x1="451.7" y1="341.4" x2="457.8" y2="341.4" stroke="#ff0000" stroke-width="1"/>
<line x1="457.8" y1="339.4" x2="464.0" y2="339.4" stroke="#ff0000" stroke-width="1"/>
<line x1="464.0" y1="338.3" x2="470.1" y2="338.3" stroke="#ff0000" stroke-width="1"/>
<line x1="470.1" y1="345.5" x2="483.4" y2="345.5" stroke="#ff0000" stroke-width="1"/>
<line x1="483.4" y1="342.4" x2="489.5" y2="342.4" stroke="#ff0000" stroke-width="1"/>
<line x1="489.5" y1="339.4" x2="495.7" y2="339.4" stroke="#ff0000" stroke-width="1"/>
<line x1="495.7" y1="340.8" x2="501.8" y2="340.8" stroke="#ff0000" stroke-width="1"/>
<line x1="500.0" y1="340.8" x2="503.1" y2="340.8" stroke="#ff0000" stroke-width="1"/>
<line x1="503.1" y1="342.8" x2="509.2" y2="342.8" stroke="#ff0000" stroke-width="1"/>
<line x1="509.2" y1="337.3" x2="521.5" y2="337.3" stroke="#ff0000" stroke-width="1"/>
<line x1="521.5" y1="342.4" x2="527.6" y2="342.4" stroke="#ff0000" stroke-width="1"/>
<line x1="527.6" y1="341.4" x2="534.8" y2="341.4" stroke="#ff0000" stroke-width="1"/>
<line x1="534.8" y1="335.3" x2="540.9" y2="335.3" stroke="#ff0000" stroke-width="1"/>
<line x1="540.9" y1="329.5" x2="548.1" y2="329.5" stroke="#ff0000" stroke-width="1"/>
<line x1="548.1" y1="323.4" x2="554.2" y2="323.4" stroke="#ff0000" stroke-width="1"/>
<line x1="554.2" y1="324.8" x2="560.3" y2="324.8" stroke="#ff0000" stroke-width="1"/>
<line x1="560.3" y1="325.5" x2="566.5" y2="325.5" stroke="#ff0000" stroke-width="1"/>
<line x1="566.5" y1="330.6" x2="572.6" y2="330.6" stroke="#ff0000" stroke-width="1"/>
<line x1="572.6" y1="335.3" x2="579.8" y2="335.3" stroke="#ff0000" stroke-width="1"/>
<line x1="579.8" y1="345.5" x2="591.0" y2="345.5" stroke="#ff0000" stroke-width="1"/>
<line x1="591.0" y1="345.9" x2="598.2" y2="345.9" stroke="#ff0000" stroke-width="1"/>
<line x1="598.2" y1="346.5" x2="604.3" y2="346.5" stroke="#ff0000" stroke-width="1"/>
<line x1="604.3" y1="328.5" x2="610.5" y2="328.5" stroke="#ff0000" stroke-width="1"/>
<line x1="610.5" y1="324.4" x2="617.6" y2="324.4" stroke="#ff0000" stroke-width="1"/>
<line x1="617.6" y1="323.4" x2="623.7" y2="323.4" stroke="#ff0000" stroke-width="1"/>
<line x1="623.7" y1="324.8" x2="630.9" y2="324.8" stroke="#ff0000" stroke-width="1"/>
<line x1="630.9" y1="326.5" x2="637.0" y2="326.5" stroke="#ff0000" stroke-width="1"/>
<line x1="637.0" y1="329.5" x2="643.2" y2="329.5" stroke="#ff0000" stroke-width="1"/>
<line x1="643.2" y1="333.2" x2="649.3" y2="333.2" stroke="#ff0000" stroke-width="1"/>
<line x1="649.3" y1="334.2" x2="655.5" y2="334.2" stroke="#ff0000" stroke-width="1"/>
<line x1="655.5" y1="333.2" x2="662.6" y2="333.2" stroke="#ff0000" stroke-width="1"/>
<line x1="662.6" y1="336.3" x2="668.7" y2="336.3" stroke="#ff0000" stroke-width="1"/>
<line x1="668.7" y1="339.4" x2="674.9" y2="339.4" stroke="#ff0000" stroke-width="1"/>
<line x1="670.0" y1="339.4" x2="675.1" y2="339.4" stroke="#ff0000" stroke-width="1"/>
<line x1="675.1" y1="342.4" x2="682.3" y2="342.4" stroke="#ff0000" stroke-width="1"/>
<line x1="682.3" y1="341.4" x2="694.5" y2="341.4" stroke="#ff0000" stroke-width="1"/>
<line x1="694.5" y1="342.8" x2="700.7" y2="342.8" stroke="#ff0000" stroke-width="1"/>
<line x1="700.7" y1="341.8" x2="714.0" y2="341.8" stroke="#ff0000" stroke-width="1"/>
<line x1="714.0" y1="342.4" x2="725.2" y2="342.4" stroke="#ff0000" stroke-width="1"/>
<line x1="725.2" y1="342.8" x2="732.4" y2="342.8" stroke="#ff0000" stroke-width="1"/>
<line x1="732.4" y1="346.5" x2="738.5" y2="346.5" stroke="#ff0000" stroke-width="1"/>
<line x1="738.5" y1="350.0" x2="744.7" y2="350.0" stroke="#ff0000" stroke-width="1"/>
<line x1="744.7" y1="348.0" x2="751.8" y2="348.0" stroke="#ff0000" stroke-width="1"/>
<line x1="751.8" y1="345.3" x2="764.1" y2="345.3" stroke="#ff0000" stroke-width="1"/>
<line x1="764.1" y1="344.3" x2="770.2" y2="344.3" stroke="#ff0000" stroke-width="1"/>
<line x1="770.2" y1="346.5" x2="778.4" y2="346.5" stroke="#ff0000" stroke-width="1"/>
<line x1="778.4" y1="349.0" x2="783.5" y2="349.0" stroke="#ff0000" stroke-width="1"/>
<line x1="783.5" y1="346.5" x2="790.7" y2="346.5" stroke="#ff0000" stroke-width="1"/>
<line x1="790.7" y1="343.5" x2="796.8" y2="343.5" stroke="#ff0000" stroke-width="1"/>
<line x1="796.8" y1="346.5" x2="803.0" y2="346.5" stroke="#ff0000" stroke-width="1"/>
<line x1="803.0" y1="347.3" x2="809.1" y2="347.3" stroke="#ff0000" stroke-width="1"/>
<line x1="809.1" y1="346.5" x2="815.2" y2="346.5" stroke="#ff0000" stroke-width="1"/>
<line x1="815.2" y1="341.4" x2="821.4" y2="341.4" stroke="#ff0000" stroke-width="1"/>
<line x1="821.4" y1="337.3" x2="828.5" y2="337.3" stroke="#ff0000" stroke-width="1"/>
<line x1="828.5" y1="335.3" x2="834.7" y2="335.3" stroke="#ff0000" stroke-width="1"/>
<line x1="834.7" y1="332.2" x2="840.8" y2="332.2" stroke="#ff0000" stroke-width="1"/>
<line x1="348" y1="317.5" x2="842" y2="317.5" stroke="#333" stroke-width="1"/>
<line x1="348" y1="318.5" x2="842" y2="318.5" stroke="#666" stroke-width="1"/>
<line x1="348" y1="395.5" x2="842" y2="395.5" stroke="#111" stroke-width="1"/>
<line x1="361.5" y1="401" x2="361.5" y2="431" stroke="#000" stroke-width="1" stroke-dasharray="2,2"/>
<line x1="380.5" y1="401" x2="380.5" y2="431" stroke="#000" stroke-width="1" stroke-dasharray="2,2"/>
<line x1="399.5" y1="401" x2="399.5" y2="431" stroke="#000" stroke-width="1" stroke-dasharray="2,2"/>
<line x1="419.5" y1="401" x2="419.5" y2="431" stroke="#000" stroke-width="1" stroke-dasharray="2,2"/>
<line x1="438.5" y1="401" x2="438.5" y2="431" stroke="#000" stroke-width="1" stroke-dasharray="2,2"/>
<line x1="457.5" y1="401" x2="457.5" y2="431" stroke="#000" stroke-width="1" stroke-dasharray="2,2"/>
<line x1="476.5" y1="401" x2="476.5" y2="431" stroke="#000" stroke-width="1" stroke-dasharray="2,2"/>
<line x1="495.5" y1="401" x2="495.5" y2="431" stroke="#000" stroke-width="1" stroke-dasharray="2,2"/>
<line x1="515.5" y1="401" x2="515.5" y2="431" stroke="#000" stroke-width="1" stroke-dasharray="2,2"/>
<line x1="534.5" y1="401" x2="534.5" y2="431" stroke="#000" stroke-width="1" stroke-dasharray="2,2"/>
<line x1="553.5" y1="401" x2="553.5" y2="431" stroke="#000" stroke-width="1" stroke-dasharray="2,2"/>
<line x1="572.5" y1="401" x2="572.5" y2="431" stroke="#000" stroke-width="1" stroke-dasharray="2,2"/>
<line x1="591.5" y1="401" x2="591.5" y2="431" stroke="#000" stroke-width="1" stroke-dasharray="2,2"/>
<line x1="611.5" y1="401" x2="611.5" y2="431" stroke="#000" stroke-width="1" stroke-dasharray="2,2"/>
<line x1="630.5" y1="401" x2="630.5" y2="431" stroke="#000" stroke-width="1" stroke-dasharray="2,2"/>
<line x1="649.5" y1="401" x2="649.5" y2="431" stroke="#000" stroke-width="1" stroke-dasharray="2,2"/>
<line x1="668.5" y1="401" x2="668.5" y2="431" stroke="#000" stroke-width="1" stroke-dasharray="2,2"/>
<line x1="687.5" y1="401" x2="687.5" y2="431" stroke="#000" stroke-width="1" stroke-dasharray="2,2"/>
<line x1="707.5" y1="401" x2="707.5" y2="431" stroke="#000" stroke-width="1" stroke-dasharray="2,2"/>
<line x1="726.5" y1="401" x2="726.5" y2="431" stroke="#000" stroke-width="1" stroke-dasharray="2,2"/>
<line x1="745.5" y1="401" x2="745.5" y2="431" stroke="#000" stroke-width="1" stroke-dasharray="2,2"/>
<line x1="764.5" y1="401" x2="764.5" y2="431" stroke="#000" stroke-width="1" stroke-dasharray="2,2"/>
<line x1="783.5" y1="401" x2="783.5" y2="431" stroke="#000" stroke-width="1" stroke-dasharray="2,2"/>
<line x1="803.5" y1="401" x2="803.5" y2="431" stroke="#000" stroke-width="1" stroke-dasharray="2,2"/>
<line x1="822.5" y1="401" x2="822.5" y2="431" stroke="#000" stroke-width="1" stroke-dasharray="2,2"/>
<line x1="348.5" y1="401" x2="348.5" y2="431" stroke="#000" stroke-width="1" stroke-dasharray="2,2"/>
<line x1="841.5" y1="401" x2="841.5" y2="431" stroke="#000" stroke-width="1" stroke-dasharray="2,2"/>
<line x1="345.3" y1="420.6" x2="348.8" y2="416.4" stroke="#0a0a9a" stroke-width="1.2"/>
<polygon points="352.1,412.4 350.9,418.1 346.7,414.7" fill="#0a0a9a"/>
<line x1="351.8" y1="420.7" x2="355.2" y2="416.4" stroke="#0a0a9a" stroke-width="1.2"/>
<polygon points="358.4,412.3 357.3,418.0 353.1,414.7" fill="#0a0a9a"/>
<line x1="358.2" y1="420.8" x2="361.6" y2="416.3" stroke="#0a0a9a" stroke-width="1.2"/>
<polygon points="364.8,412.2 363.8,417.9 359.5,414.7" fill="#0a0a9a"/>
<line x1="364.7" y1="421.0" x2="368.1" y2="416.3" stroke="#0a0a9a" stroke-width="1.2"/>
<polygon points="371.1,412.0 370.3,417.8 365.9,414.7" fill="#0a0a9a"/>
<line x1="371.2" y1="421.1" x2="374.5" y2="416.2" stroke="#0a0a9a" stroke-width="1.2"/>
<polygon points="377.4,411.9 376.7,417.7 372.3,414.7" fill="#0a0a9a"/>
<line x1="377.7" y1="421.2" x2="380.9" y2="416.2" stroke="#0a0a9a" stroke-width="1.2"/>
<polygon points="383.7,411.8 383.2,417.6 378.6,414.7" fill="#0a0a9a"/>
<line x1="384.1" y1="421.3" x2="387.3" y2="416.1" stroke="#0a0a9a" stroke-width="1.2"/>
<polygon points="390.1,411.7 389.6,417.6 385.0,414.7" fill="#0a0a9a"/>
<line x1="390.6" y1="421.3" x2="393.7" y2="416.1" stroke="#0a0a9a" stroke-width="1.2"/>
<polygon points="396.4,411.7 396.0,417.5 391.4,414.7" fill="#0a0a9a"/>
<line x1="397.0" y1="421.4" x2="400.1" y2="416.1" stroke="#0a0a9a" stroke-width="1.2"/>
<polygon points="402.8,411.6 402.5,417.4 397.8,414.7" fill="#0a0a9a"/>
<line x1="403.6" y1="421.6" x2="406.6" y2="416.0" stroke="#0a0a9a" stroke-width="1.2"/>
<polygon points="409.0,411.4 408.9,417.3 404.2,414.7" fill="#0a0a9a"/>
<line x1="410.2" y1="421.8" x2="413.0" y2="415.9" stroke="#0a0a9a" stroke-width="1.2"/>
<polygon points="415.2,411.2 415.4,417.1 410.5,414.8" fill="#0a0a9a"/>
<line x1="416.8" y1="421.9" x2="419.4" y2="415.9" stroke="#0a0a9a" stroke-width="1.2"/>
<polygon points="421.4,411.1 421.9,416.9 416.9,414.8" fill="#0a0a9a"/>
<line x1="423.4" y1="422.1" x2="425.8" y2="415.8" stroke="#0a0a9a" stroke-width="1.2"/>
<polygon points="427.6,410.9 428.3,416.7 423.2,414.8" fill="#0a0a9a"/>
<line x1="429.7" y1="422.0" x2="432.2" y2="415.8" stroke="#0a0a9a" stroke-width="1.2"/>
<polygon points="434.1,411.0 434.7,416.8 429.7,414.8" fill="#0a0a9a"/>
<line x1="436.0" y1="421.9" x2="438.6" y2="415.8" stroke="#0a0a9a" stroke-width="1.2"/>
<polygon points="440.6,411.1 441.1,416.9 436.1,414.8" fill="#0a0a9a"/>
<line x1="442.3" y1="421.8" x2="445.0" y2="415.9" stroke="#0a0a9a" stroke-width="1.2"/>
<polygon points="447.1,411.2 447.4,417.0 442.5,414.8" fill="#0a0a9a"/>
<line x1="448.6" y1="421.8" x2="451.4" y2="415.9" stroke="#0a0a9a" stroke-width="1.2"/>
<polygon points="453.6,411.2 453.8,417.1 448.9,414.8" fill="#0a0a9a"/>
<line x1="455.1" y1="421.9" x2="457.8" y2="415.9" stroke="#0a0a9a" stroke-width="1.2"/>
<polygon points="459.9,411.1 460.2,417.0 455.3,414.8" fill="#0a0a9a"/>
<line x1="462.8" y1="422.6" x2="464.1" y2="415.5" stroke="#0a0a9a" stroke-width="1.2"/>
<polygon points="465.0,410.4 466.7,416.0 461.4,415.1" fill="#0a0a9a"/>
<line x1="469.8" y1="422.7" x2="470.4" y2="415.5" stroke="#0a0a9a" stroke-width="1.2"/>
<polygon points="470.8,410.3 473.1,415.7 467.7,415.2" fill="#0a0a9a"/>
<line x1="476.7" y1="422.8" x2="476.7" y2="415.4" stroke="#0a0a9a" stroke-width="1.2"/>
<polygon points="476.7,410.2 479.4,415.4 474.0,415.4" fill="#0a0a9a"/>
<line x1="483.1" y1="422.8" x2="483.1" y2="415.4" stroke="#0a0a9a" stroke-width="1.2"/>
<polygon points="483.1,410.2 485.8,415.4 480.4,415.4" fill="#0a0a9a"/>
<line x1="489.5" y1="422.8" x2="489.5" y2="415.4" stroke="#0a0a9a" stroke-width="1.2"/>
<polygon points="489.5,410.2 492.2,415.4 486.8,415.4" fill="#0a0a9a"/>
<line x1="495.9" y1="422.8" x2="495.9" y2="415.4" stroke="#0a0a9a" stroke-width="1.2"/>
<polygon points="495.9,410.2 498.6,415.4 493.2,415.4" fill="#0a0a9a"/>
<line x1="503.4" y1="422.6" x2="502.1" y2="415.5" stroke="#0a0a9a" stroke-width="1.2"/>
<polygon points="501.2,410.4 504.8,415.1 499.5,416.0" fill="#0a0a9a"/>
<line x1="509.7" y1="422.6" x2="508.5" y2="415.5" stroke="#0a0a9a" stroke-width="1.2"/>
<polygon points="507.7,410.4 511.2,415.1 505.9,415.9" fill="#0a0a9a"/>
<line x1="516.0" y1="422.6" x2="515.0" y2="415.5" stroke="#0a0a9a" stroke-width="1.2"/>
<polygon points="514.2,410.4 517.6,415.1 512.3,415.9" fill="#0a0a9a"/>
<line x1="522.7" y1="422.6" x2="521.3" y2="415.5" stroke="#0a0a9a" stroke-width="1.2"/>
<polygon points="520.3,410.4 524.0,415.0 518.7,416.1" fill="#0a0a9a"/>
<line x1="529.4" y1="422.4" x2="527.7" y2="415.6" stroke="#0a0a9a" stroke-width="1.2"/>
<polygon points="526.4,410.6 530.3,415.0 525.1,416.3" fill="#0a0a9a"/>
<line x1="536.1" y1="422.3" x2="534.0" y2="415.7" stroke="#0a0a9a" stroke-width="1.2"/>
<polygon points="532.5,410.7 536.6,414.9 531.5,416.5" fill="#0a0a9a"/>
<line x1="542.8" y1="422.1" x2="540.4" y2="415.8" stroke="#0a0a9a" stroke-width="1.2"/>
<polygon points="538.6,410.9 543.0,414.8 537.9,416.7" fill="#0a0a9a"/>
<line x1="549.5" y1="421.9" x2="546.8" y2="415.9" stroke="#0a0a9a" stroke-width="1.2"/>
<polygon points="544.7,411.1 549.3,414.8 544.3,416.9" fill="#0a0a9a"/>
<line x1="555.9" y1="421.8" x2="553.2" y2="415.9" stroke="#0a0a9a" stroke-width="1.2"/>
<polygon points="551.1,411.2 555.7,414.8 550.8,417.0" fill="#0a0a9a"/>
<line x1="562.3" y1="421.9" x2="559.6" y2="415.9" stroke="#0a0a9a" stroke-width="1.2"/>
<polygon points="557.5,411.1 562.1,414.8 557.1,416.9" fill="#0a0a9a"/>
<line x1="568.6" y1="422.0" x2="566.0" y2="415.8" stroke="#0a0a9a" stroke-width="1.2"/>
<polygon points="564.0,411.0 568.5,414.8 563.5,416.9" fill="#0a0a9a"/>
<line x1="574.8" y1="422.1" x2="572.4" y2="415.8" stroke="#0a0a9a" stroke-width="1.2"/>
<polygon points="570.6,410.9 574.9,414.8 569.9,416.8" fill="#0a0a9a"/>
<line x1="581.0" y1="422.2" x2="578.8" y2="415.7" stroke="#0a0a9a" stroke-width="1.2"/>
<polygon points="577.2,410.8 581.4,414.9 576.3,416.6" fill="#0a0a9a"/>
<line x1="587.2" y1="422.3" x2="585.3" y2="415.7" stroke="#0a0a9a" stroke-width="1.2"/>
<polygon points="583.8,410.7 587.8,414.9 582.7,416.4" fill="#0a0a9a"/>
<line x1="593.0" y1="422.6" x2="591.7" y2="415.5" stroke="#0a0a9a" stroke-width="1.2"/>
<polygon points="590.8,410.4 594.4,415.0 589.1,416.0" fill="#0a0a9a"/>
<line x1="598.5" y1="422.7" x2="598.3" y2="415.5" stroke="#0a0a9a" stroke-width="1.2"/>
<polygon points="598.1,410.3 601.0,415.4 595.6,415.5" fill="#0a0a9a"/>
<line x1="601.9" y1="421.5" x2="604.9" y2="416.1" stroke="#0a0a9a" stroke-width="1.2"/>
<polygon points="607.5,411.5 607.3,417.4 602.6,414.7" fill="#0a0a9a"/>
<line x1="607.1" y1="417.2" x2="610.0" y2="416.7" stroke="#0a0a9a" stroke-width="1.2"/>
<polygon points="615.1,415.8 610.4,419.4 609.5,414.0" fill="#0a0a9a"/>
<line x1="613.5" y1="416.8" x2="616.3" y2="416.6" stroke="#0a0a9a" stroke-width="1.2"/>
<polygon points="621.5,416.2 616.5,419.3 616.1,413.9" fill="#0a0a9a"/>
<line x1="619.9" y1="416.7" x2="622.7" y2="416.5" stroke="#0a0a9a" stroke-width="1.2"/>
<polygon points="627.9,416.3 622.8,419.2 622.6,413.8" fill="#0a0a9a"/>
<line x1="626.3" y1="416.7" x2="629.1" y2="416.6" stroke="#0a0a9a" stroke-width="1.2"/>
<polygon points="634.3,416.3 629.2,419.2 629.0,413.9" fill="#0a0a9a"/>
<line x1="632.7" y1="416.7" x2="635.5" y2="416.6" stroke="#0a0a9a" stroke-width="1.2"/>
<polygon points="640.7,416.3 635.6,419.3 635.4,413.9" fill="#0a0a9a"/>
<line x1="639.1" y1="416.7" x2="641.9" y2="416.6" stroke="#0a0a9a" stroke-width="1.2"/>
<polygon points="647.1,416.3 642.1,419.3 641.8,413.9" fill="#0a0a9a"/>
<line x1="645.5" y1="416.7" x2="648.3" y2="416.6" stroke="#0a0a9a" stroke-width="1.2"/>
<polygon points="653.5,416.3 648.5,419.3 648.2,413.9" fill="#0a0a9a"/>
<line x1="651.9" y1="416.8" x2="654.7" y2="416.6" stroke="#0a0a9a" stroke-width="1.2"/>
<polygon points="659.9,416.2 654.9,419.3 654.5,413.9" fill="#0a0a9a"/>
<line x1="658.3" y1="416.8" x2="661.1" y2="416.6" stroke="#0a0a9a" stroke-width="1.2"/>
<polygon points="666.3,416.2 661.3,419.3 660.9,413.9" fill="#0a0a9a"/>
<line x1="664.7" y1="416.8" x2="667.5" y2="416.6" stroke="#0a0a9a" stroke-width="1.2"/>
<polygon points="672.7,416.2 667.7,419.3 667.3,413.9" fill="#0a0a9a"/>
<line x1="671.1" y1="416.8" x2="673.9" y2="416.6" stroke="#0a0a9a" stroke-width="1.2"/>
<polygon points="679.1,416.2 674.1,419.3 673.7,413.9" fill="#0a0a9a"/>
<line x1="677.5" y1="416.8" x2="680.3" y2="416.6" stroke="#0a0a9a" stroke-width="1.2"/>
<polygon points="685.5,416.2 680.5,419.3 680.1,413.9" fill="#0a0a9a"/>
<line x1="683.9" y1="417.1" x2="686.8" y2="416.7" stroke="#0a0a9a" stroke-width="1.2"/>
<polygon points="691.9,415.9 687.2,419.3 686.4,414.0" fill="#0a0a9a"/>
<line x1="690.3" y1="418.0" x2="693.4" y2="416.8" stroke="#0a0a9a" stroke-width="1.2"/>
<polygon points="698.3,415.0 694.4,419.4 692.5,414.3" fill="#0a0a9a"/>
<line x1="696.8" y1="419.0" x2="700.2" y2="416.8" stroke="#0a0a9a" stroke-width="1.2"/>
<polygon points="704.6,414.0 701.7,419.1 698.8,414.5" fill="#0a0a9a"/>
<line x1="703.4" y1="419.8" x2="706.9" y2="416.6" stroke="#0a0a9a" stroke-width="1.2"/>
<polygon points="710.8,413.2 708.7,418.7 705.2,414.6" fill="#0a0a9a"/>
<line x1="710.0" y1="420.4" x2="713.5" y2="416.5" stroke="#0a0a9a" stroke-width="1.2"/>
<polygon points="717.0,412.6 715.5,418.3 711.5,414.7" fill="#0a0a9a"/>
<line x1="716.4" y1="420.4" x2="719.9" y2="416.5" stroke="#0a0a9a" stroke-width="1.2"/>
<polygon points="723.4,412.6 721.9,418.3 717.9,414.7" fill="#0a0a9a"/>
<line x1="722.8" y1="420.4" x2="726.3" y2="416.5" stroke="#0a0a9a" stroke-width="1.2"/>
<polygon points="729.8,412.6 728.3,418.3 724.3,414.7" fill="#0a0a9a"/>
<line x1="729.2" y1="420.4" x2="732.7" y2="416.5" stroke="#0a0a9a" stroke-width="1.2"/>
<polygon points="736.2,412.6 734.7,418.3 730.7,414.7" fill="#0a0a9a"/>
<line x1="735.6" y1="420.4" x2="739.1" y2="416.5" stroke="#0a0a9a" stroke-width="1.2"/>
<polygon points="742.6,412.6 741.1,418.3 737.1,414.7" fill="#0a0a9a"/>
<line x1="742.0" y1="420.4" x2="745.5" y2="416.5" stroke="#0a0a9a" stroke-width="1.2"/>
<polygon points="749.0,412.6 747.5,418.3 743.5,414.7" fill="#0a0a9a"/>
<line x1="748.4" y1="420.4" x2="751.9" y2="416.5" stroke="#0a0a9a" stroke-width="1.2"/>
<polygon points="755.4,412.6 753.9,418.3 749.9,414.7" fill="#0a0a9a"/>
<line x1="754.8" y1="420.4" x2="758.3" y2="416.5" stroke="#0a0a9a" stroke-width="1.2"/>
<polygon points="761.8,412.6 760.3,418.3 756.3,414.7" fill="#0a0a9a"/>
<line x1="761.4" y1="420.8" x2="764.8" y2="416.3" stroke="#0a0a9a" stroke-width="1.2"/>
<polygon points="768.0,412.2 767.0,418.0 762.7,414.7" fill="#0a0a9a"/>
<line x1="768.8" y1="422.0" x2="771.4" y2="415.8" stroke="#0a0a9a" stroke-width="1.2"/>
<polygon points="773.4,411.0 773.9,416.9 768.9,414.8" fill="#0a0a9a"/>
<line x1="776.6" y1="422.6" x2="777.7" y2="415.5" stroke="#0a0a9a" stroke-width="1.2"/>
<polygon points="778.4,410.4 780.3,415.9 775.0,415.1" fill="#0a0a9a"/>
<line x1="784.4" y1="422.7" x2="783.8" y2="415.5" stroke="#0a0a9a" stroke-width="1.2"/>
<polygon points="783.4,410.3 786.5,415.3 781.1,415.7" fill="#0a0a9a"/>
<line x1="790.3" y1="422.7" x2="790.3" y2="415.5" stroke="#0a0a9a" stroke-width="1.2"/>
<polygon points="790.3,410.3 793.0,415.5 787.6,415.4" fill="#0a0a9a"/>
<line x1="795.9" y1="422.7" x2="796.8" y2="415.5" stroke="#0a0a9a" stroke-width="1.2"/>
<polygon points="797.5,410.3 799.5,415.8 794.1,415.2" fill="#0a0a9a"/>
<line x1="803.1" y1="422.7" x2="803.1" y2="415.5" stroke="#0a0a9a" stroke-width="1.2"/>
<polygon points="803.1,410.3 805.8,415.4 800.4,415.5" fill="#0a0a9a"/>
<line x1="810.5" y1="422.6" x2="809.3" y2="415.5" stroke="#0a0a9a" stroke-width="1.2"/>
<polygon points="808.5,410.4 812.0,415.1 806.7,416.0" fill="#0a0a9a"/>
<line x1="817.5" y1="422.4" x2="815.7" y2="415.6" stroke="#0a0a9a" stroke-width="1.2"/>
<polygon points="814.3,410.6 818.3,414.9 813.1,416.3" fill="#0a0a9a"/>
<line x1="823.0" y1="422.7" x2="822.2" y2="415.5" stroke="#0a0a9a" stroke-width="1.2"/>
<polygon points="821.6,410.3 824.9,415.2 819.5,415.8" fill="#0a0a9a"/>
<line x1="829.7" y1="422.6" x2="828.5" y2="415.5" stroke="#0a0a9a" stroke-width="1.2"/>
<polygon points="827.7,410.4 831.2,415.1 825.9,416.0" fill="#0a0a9a"/>
<line x1="836.7" y1="422.4" x2="834.9" y2="415.6" stroke="#0a0a9a" stroke-width="1.2"/>
<polygon points="833.5,410.6 837.5,414.9 832.3,416.3" fill="#0a0a9a"/>
<line x1="842.0" y1="422.7" x2="841.4" y2="415.5" stroke="#0a0a9a" stroke-width="1.2"/>
<polygon points="841.0,410.3 844.1,415.2 838.7,415.7" fill="#0a0a9a"/>
<line x1="348" y1="401.5" x2="842" y2="401.5" stroke="#333" stroke-width="1"/>
<line x1="348" y1="402.5" x2="842" y2="402.5" stroke="#666" stroke-width="1"/>
<line x1="348" y1="431.5" x2="842" y2="431.5" stroke="#111" stroke-width="1"/>
<rect x="348" y="437" width="494" height="79" fill="#7ec0ee"/>
<rect x="385.5" y="437" width="46.7" height="79" fill="#87cefa"/>
<rect x="539.1" y="437" width="46.7" height="79" fill="#87cefa"/>
<rect x="692.7" y="437" width="46.7" height="79" fill="#87cefa"/>
<line x1="361.5" y1="437" x2="361.5" y2="516" stroke="#000" stroke-width="1" stroke-dasharray="2,2"/>
<line x1="380.5" y1="437" x2="380.5" y2="516" stroke="#000" stroke-width="1" stroke-dasharray="2,2"/>
<line x1="399.5" y1="437" x2="399.5" y2="516" stroke="#000" stroke-width="1" stroke-dasharray="2,2"/>
<line x1="419.5" y1="437" x2="419.5" y2="516" stroke="#000" stroke-width="1" stroke-dasharray="2,2"/>
<line x1="438.5" y1="437" x2="438.5" y2="516" stroke="#000" stroke-width="1" stroke-dasharray="2,2"/>
<line x1="457.5" y1="437" x2="457.5" y2="516" stroke="#000" stroke-width="1" stroke-dasharray="2,2"/>
<line x1="476.5" y1="437" x2="476.5" y2="516" stroke="#000" stroke-width="1" stroke-dasharray="2,2"/>
<line x1="495.5" y1="437" x2="495.5" y2="516" stroke="#000" stroke-width="1" stroke-dasharray="2,2"/>
<line x1="515.5" y1="437" x2="515.5" y2="516" stroke="#000" stroke-width="1" stroke-dasharray="2,2"/>
<line x1="534.5" y1="437" x2="534.5" y2="516" stroke="#000" stroke-width="1" stroke-dasharray="2,2"/>
<line x1="553.5" y1="437" x2="553.5" y2="516" stroke="#000" stroke-width="1" stroke-dasharray="2,2"/>
<line x1="572.5" y1="437" x2="572.5" y2="516" stroke="#000" stroke-width="1" stroke-dasharray="2,2"/>
<line x1="591.5" y1="437" x2="591.5" y2="516" stroke="#000" stroke-width="1" stroke-dasharray="2,2"/>
<line x1="611.5" y1="437" x2="611.5" y2="516" stroke="#000" stroke-width="1" stroke-dasharray="2,2"/>
<line x1="630.5" y1="437" x2="630.5" y2="516" stroke="#000" stroke-width="1" stroke-dasharray="2,2"/>
<line x1="649.5" y1="437" x2="649.5" y2="516" stroke="#000" stroke-width="1" stroke-dasharray="2,2"/>
<line x1="668.5" y1="437" x2="668.5" y2="516" stroke="#000" stroke-width="1" stroke-dasharray="2,2"/>
<line x1="687.5" y1="437" x2="687.5" y2="516" stroke="#000" stroke-width="1" stroke-dasharray="2,2"/>
<line x1="707.5" y1="437" x2="707.5" y2="516" stroke="#000" stroke-width="1" stroke-dasharray="2,2"/>
<line x1="726.5" y1="437" x2="726.5" y2="516" stroke="#000" stroke-width="1" stroke-dasharray="2,2"/>
<line x1="745.5" y1="437" x2="745.5" y2="516" stroke="#000" stroke-width="1" stroke-dasharray="2,2"/>
<line x1="764.5" y1="437" x2="764.5" y2="516" stroke="#000" stroke-width="1" stroke-dasharray="2,2"/>
<line x1="783.5" y1="437" x2="783.5" y2="516" stroke="#000" stroke-width="1" stroke-dasharray="2,2"/>
<line x1="803.5" y1="437" x2="803.5" y2="516" stroke="#000" stroke-width="1" stroke-dasharray="2,2"/>
<line x1="822.5" y1="437" x2="822.5" y2="516" stroke="#000" stroke-width="1" stroke-dasharray="2,2"/>
<line x1="348.5" y1="437" x2="348.5" y2="516" stroke="#000" stroke-width="1" stroke-dasharray="2,2"/>
<line x1="841.5" y1="437" x2="841.5" y2="516" stroke="#000" stroke-width="1" stroke-dasharray="2,2"/>
<line x1="348" y1="438.5" x2="842" y2="438.5" stroke="#000" stroke-width="1" stroke-dasharray="2,2"/>
<line x1="348" y1="457.5" x2="842" y2="457.5" stroke="#000" stroke-width="1" stroke-dasharray="2,2"/>
<line x1="348" y1="477.5" x2="842" y2="477.5" stroke="#000" stroke-width="1" stroke-dasharray="2,2"/>
<line x1="348" y1="496.5" x2="842" y2="496.5" stroke="#000" stroke-width="1" stroke-dasharray="2,2"/>
<circle cx="572.6" cy="458.2" r="2.7" fill="#555"/>
<circle cx="585.5" cy="454.7" r="2.7" fill="#bbb"/>
<circle cx="591.6" cy="454.7" r="2.7" fill="#fff"/>
<circle cx="585.5" cy="466.1" r="2.7" fill="#ccc"/>
<circle cx="591.6" cy="467.9" r="2.7" fill="#fff"/>
<circle cx="598.3" cy="467.9" r="2.7" fill="#fff"/>
<circle cx="604.5" cy="499.2" r="2.7" fill="#ddd"/>
<circle cx="604.5" cy="503.5" r="2.7" fill="#fff"/>
<circle cx="585.5" cy="508.5" r="2.7" fill="#fff"/>
<circle cx="579.1" cy="505.1" r="2.7" fill="#888"/>
<circle cx="572.6" cy="505.1" r="2.7" fill="#aaa"/>
<defs><clipPath id="cbclip"><rect x="348" y="437" width="494" height="79"/></clipPath></defs>
<g clip-path="url(#cbclip)">
<ellipse cx="349.4" cy="505.1" rx="2.7" ry="3" fill="#000"/>
<ellipse cx="355.3" cy="506.1" rx="2.7" ry="3" fill="#000"/>
<ellipse cx="361.7" cy="510.1" rx="2.7" ry="3" fill="#000"/>
<ellipse cx="368.1" cy="510.1" rx="2.7" ry="3" fill="#000"/>
<ellipse cx="374.5" cy="510.1" rx="2.7" ry="3" fill="#000"/>
<ellipse cx="380.9" cy="510.1" rx="2.7" ry="3" fill="#000"/>
<ellipse cx="387.3" cy="510.1" rx="2.7" ry="3" fill="#000"/>
<ellipse cx="393.7" cy="510.1" rx="2.7" ry="3" fill="#000"/>
<ellipse cx="400.1" cy="510.1" rx="2.7" ry="3" fill="#000"/>
<ellipse cx="406.5" cy="510.1" rx="2.7" ry="3" fill="#000"/>
<ellipse cx="412.9" cy="510.1" rx="2.7" ry="3" fill="#000"/>
<ellipse cx="419.3" cy="510.1" rx="2.7" ry="3" fill="#000"/>
<ellipse cx="425.7" cy="510.1" rx="2.7" ry="3" fill="#000"/>
<ellipse cx="432.2" cy="510.1" rx="2.7" ry="3" fill="#000"/>
<ellipse cx="438.6" cy="510.1" rx="2.7" ry="3" fill="#000"/>
<ellipse cx="445.0" cy="510.1" rx="2.7" ry="3" fill="#000"/>
<ellipse cx="451.4" cy="510.1" rx="2.7" ry="3" fill="#000"/>
<ellipse cx="457.8" cy="510.1" rx="2.7" ry="3" fill="#000"/>
<ellipse cx="464.2" cy="510.1" rx="2.7" ry="3" fill="#000"/>
<ellipse cx="470.6" cy="510.1" rx="2.7" ry="3" fill="#000"/>
<ellipse cx="477.0" cy="510.1" rx="2.7" ry="3" fill="#000"/>
<ellipse cx="483.4" cy="510.1" rx="2.7" ry="3" fill="#000"/>
<ellipse cx="489.8" cy="510.1" rx="2.7" ry="3" fill="#000"/>
<ellipse cx="496.3" cy="510.1" rx="2.7" ry="3" fill="#000"/>
<ellipse cx="502.7" cy="510.1" rx="2.7" ry="3" fill="#000"/>
<ellipse cx="508.4" cy="510.5" rx="2.7" ry="3" fill="#000"/>
<ellipse cx="514.8" cy="510.5" rx="2.7" ry="3" fill="#000"/>
<ellipse cx="521.3" cy="510.5" rx="2.7" ry="3" fill="#000"/>
<ellipse cx="527.7" cy="510.5" rx="2.7" ry="3" fill="#000"/>
<ellipse cx="534.1" cy="510.5" rx="2.7" ry="3" fill="#000"/>
<ellipse cx="540.6" cy="512.6" rx="2.7" ry="3" fill="#d0d0d0"/>
<ellipse cx="540.6" cy="511.1" rx="2.7" ry="3" fill="#a0a0a0"/>
<ellipse cx="540.6" cy="509.6" rx="2.7" ry="3" fill="#585858"/>
<ellipse cx="540.6" cy="508.1" rx="2.7" ry="3" fill="#000"/>
<ellipse cx="546.9" cy="511.6" rx="2.7" ry="3" fill="#d0d0d0"/>
<ellipse cx="546.9" cy="510.1" rx="2.7" ry="3" fill="#a0a0a0"/>
<ellipse cx="546.9" cy="508.6" rx="2.7" ry="3" fill="#585858"/>
<ellipse cx="546.9" cy="507.1" rx="2.7" ry="3" fill="#000"/>
<ellipse cx="553.4" cy="509.6" rx="2.7" ry="3" fill="#d0d0d0"/>
<ellipse cx="553.4" cy="508.1" rx="2.7" ry="3" fill="#a0a0a0"/>
<ellipse cx="553.4" cy="506.6" rx="2.7" ry="3" fill="#585858"/>
<ellipse cx="553.4" cy="505.1" rx="2.7" ry="3" fill="#000"/>
<ellipse cx="559.7" cy="508.2" rx="2.7" ry="3" fill="#d0d0d0"/>
<ellipse cx="559.7" cy="506.7" rx="2.7" ry="3" fill="#a0a0a0"/>
<ellipse cx="559.7" cy="505.2" rx="2.7" ry="3" fill="#585858"/>
<ellipse cx="559.7" cy="503.7" rx="2.7" ry="3" fill="#000"/>
<ellipse cx="566.3" cy="507.6" rx="2.7" ry="3" fill="#d0d0d0"/>
<ellipse cx="566.3" cy="506.1" rx="2.7" ry="3" fill="#a0a0a0"/>
<ellipse cx="566.3" cy="504.6" rx="2.7" ry="3" fill="#585858"/>
<ellipse cx="566.3" cy="503.1" rx="2.7" ry="3" fill="#000"/>
<ellipse cx="610.8" cy="508.0" rx="2.7" ry="3" fill="#d0d0d0"/>
<ellipse cx="610.8" cy="506.5" rx="2.7" ry="3" fill="#a0a0a0"/>
<ellipse cx="610.8" cy="505.0" rx="2.7" ry="3" fill="#585858"/>
<ellipse cx="610.8" cy="503.5" rx="2.7" ry="3" fill="#000"/>
<ellipse cx="617.3" cy="510.6" rx="2.7" ry="3" fill="#d0d0d0"/>
<ellipse cx="617.3" cy="509.1" rx="2.7" ry="3" fill="#a0a0a0"/>
<ellipse cx="617.3" cy="507.6" rx="2.7" ry="3" fill="#585858"/>
<ellipse cx="617.3" cy="506.1" rx="2.7" ry="3" fill="#000"/>
<ellipse cx="623.6" cy="510.6" rx="2.7" ry="3" fill="#d0d0d0"/>
<ellipse cx="623.6" cy="509.1" rx="2.7" ry="3" fill="#a0a0a0"/>
<ellipse cx="623.6" cy="507.6" rx="2.7" ry="3" fill="#585858"/>
<ellipse cx="623.6" cy="506.1" rx="2.7" ry="3" fill="#000"/>
<ellipse cx="630.0" cy="509.6" rx="2.7" ry="3" fill="#d0d0d0"/>
<ellipse cx="630.0" cy="508.1" rx="2.7" ry="3" fill="#a0a0a0"/>
<ellipse cx="630.0" cy="506.6" rx="2.7" ry="3" fill="#585858"/>
<ellipse cx="630.0" cy="505.1" rx="2.7" ry="3" fill="#000"/>
<ellipse cx="636.5" cy="508.6" rx="2.7" ry="3" fill="#d0d0d0"/>
<ellipse cx="636.5" cy="507.1" rx="2.7" ry="3" fill="#a0a0a0"/>
<ellipse cx="636.5" cy="505.6" rx="2.7" ry="3" fill="#585858"/>
<ellipse cx="636.5" cy="504.1" rx="2.7" ry="3" fill="#000"/>
<ellipse cx="642.8" cy="508.6" rx="2.7" ry="3" fill="#d0d0d0"/>
<ellipse cx="642.8" cy="507.1" rx="2.7" ry="3" fill="#a0a0a0"/>
<ellipse cx="642.8" cy="505.6" rx="2.7" ry="3" fill="#585858"/>
<ellipse cx="642.8" cy="504.1" rx="2.7" ry="3" fill="#000"/>
<ellipse cx="649.4" cy="508.6" rx="2.7" ry="3" fill="#d0d0d0"/>
<ellipse cx="649.4" cy="507.1" rx="2.7" ry="3" fill="#a0a0a0"/>
<ellipse cx="649.4" cy="505.6" rx="2.7" ry="3" fill="#585858"/>
<ellipse cx="649.4" cy="504.1" rx="2.7" ry="3" fill="#000"/>
<ellipse cx="655.7" cy="508.6" rx="2.7" ry="3" fill="#d0d0d0"/>
<ellipse cx="655.7" cy="507.1" rx="2.7" ry="3" fill="#a0a0a0"/>
<ellipse cx="655.7" cy="505.6" rx="2.7" ry="3" fill="#585858"/>
<ellipse cx="655.7" cy="504.1" rx="2.7" ry="3" fill="#000"/>
<ellipse cx="662.2" cy="509.6" rx="2.7" ry="3" fill="#d0d0d0"/>
<ellipse cx="662.2" cy="508.1" rx="2.7" ry="3" fill="#a0a0a0"/>
<ellipse cx="662.2" cy="506.6" rx="2.7" ry="3" fill="#585858"/>
<ellipse cx="662.2" cy="505.1" rx="2.7" ry="3" fill="#000"/>
<ellipse cx="668.5" cy="512.6" rx="2.7" ry="3" fill="#d0d0d0"/>
<ellipse cx="668.5" cy="511.1" rx="2.7" ry="3" fill="#a0a0a0"/>
<ellipse cx="668.5" cy="509.6" rx="2.7" ry="3" fill="#585858"/>
<ellipse cx="668.5" cy="508.1" rx="2.7" ry="3" fill="#000"/>
<ellipse cx="674.9" cy="513.6" rx="2.7" ry="3" fill="#d0d0d0"/>
<ellipse cx="674.9" cy="512.1" rx="2.7" ry="3" fill="#a0a0a0"/>
<ellipse cx="674.9" cy="510.6" rx="2.7" ry="3" fill="#585858"/>
<ellipse cx="674.9" cy="509.1" rx="2.7" ry="3" fill="#000"/>
<ellipse cx="681.3" cy="512.6" rx="2.7" ry="3" fill="#d0d0d0"/>
<ellipse cx="681.3" cy="511.1" rx="2.7" ry="3" fill="#a0a0a0"/>
<ellipse cx="681.3" cy="509.6" rx="2.7" ry="3" fill="#585858"/>
<ellipse cx="681.3" cy="508.1" rx="2.7" ry="3" fill="#000"/>
<ellipse cx="687.8" cy="508.6" rx="2.7" ry="3" fill="#d0d0d0"/>
<ellipse cx="687.8" cy="507.1" rx="2.7" ry="3" fill="#a0a0a0"/>
<ellipse cx="687.8" cy="505.6" rx="2.7" ry="3" fill="#585858"/>
<ellipse cx="687.8" cy="504.1" rx="2.7" ry="3" fill="#000"/>
<ellipse cx="693.7" cy="510.6" rx="2.7" ry="3" fill="#d0d0d0"/>
<ellipse cx="693.7" cy="509.1" rx="2.7" ry="3" fill="#a0a0a0"/>
<ellipse cx="693.7" cy="507.6" rx="2.7" ry="3" fill="#585858"/>
<ellipse cx="693.7" cy="506.1" rx="2.7" ry="3" fill="#000"/>
<ellipse cx="700.3" cy="510.6" rx="2.7" ry="3" fill="#d0d0d0"/>
<ellipse cx="700.3" cy="509.1" rx="2.7" ry="3" fill="#a0a0a0"/>
<ellipse cx="700.3" cy="507.6" rx="2.7" ry="3" fill="#585858"/>
<ellipse cx="700.3" cy="506.1" rx="2.7" ry="3" fill="#000"/>
<ellipse cx="706.6" cy="476.0" rx="2.7" ry="3" fill="#000"/>
<ellipse cx="713.1" cy="499.2" rx="2.7" ry="3" fill="#000"/>
<ellipse cx="719.5" cy="509.6" rx="2.7" ry="3" fill="#d0d0d0"/>
<ellipse cx="719.5" cy="508.1" rx="2.7" ry="3" fill="#a0a0a0"/>
<ellipse cx="719.5" cy="506.6" rx="2.7" ry="3" fill="#585858"/>
<ellipse cx="719.5" cy="505.1" rx="2.7" ry="3" fill="#000"/>
<ellipse cx="726.0" cy="510.2" rx="2.7" ry="3" fill="#d0d0d0"/>
<ellipse cx="726.0" cy="508.7" rx="2.7" ry="3" fill="#a0a0a0"/>
<ellipse cx="726.0" cy="507.2" rx="2.7" ry="3" fill="#585858"/>
<ellipse cx="726.0" cy="505.7" rx="2.7" ry="3" fill="#000"/>
<ellipse cx="732.3" cy="480.8" rx="2.7" ry="3" fill="#000"/>
<ellipse cx="738.6" cy="514.2" rx="2.7" ry="3" fill="#d0d0d0"/>
<ellipse cx="738.6" cy="512.7" rx="2.7" ry="3" fill="#a0a0a0"/>
<ellipse cx="738.6" cy="511.2" rx="2.7" ry="3" fill="#585858"/>
<ellipse cx="738.6" cy="509.7" rx="2.7" ry="3" fill="#000"/>
<ellipse cx="745.2" cy="514.6" rx="2.7" ry="3" fill="#d0d0d0"/>
<ellipse cx="745.2" cy="513.1" rx="2.7" ry="3" fill="#a0a0a0"/>
<ellipse cx="745.2" cy="511.6" rx="2.7" ry="3" fill="#585858"/>
<ellipse cx="745.2" cy="510.1" rx="2.7" ry="3" fill="#000"/>
<ellipse cx="751.5" cy="514.6" rx="2.7" ry="3" fill="#d0d0d0"/>
<ellipse cx="751.5" cy="513.1" rx="2.7" ry="3" fill="#a0a0a0"/>
<ellipse cx="751.5" cy="511.6" rx="2.7" ry="3" fill="#585858"/>
<ellipse cx="751.5" cy="510.1" rx="2.7" ry="3" fill="#000"/>
<ellipse cx="758.0" cy="514.6" rx="2.7" ry="3" fill="#d0d0d0"/>
<ellipse cx="758.0" cy="513.1" rx="2.7" ry="3" fill="#a0a0a0"/>
<ellipse cx="758.0" cy="511.6" rx="2.7" ry="3" fill="#585858"/>
<ellipse cx="758.0" cy="510.1" rx="2.7" ry="3" fill="#000"/>
<ellipse cx="764.4" cy="514.6" rx="2.7" ry="3" fill="#d0d0d0"/>
<ellipse cx="764.4" cy="513.1" rx="2.7" ry="3" fill="#a0a0a0"/>
<ellipse cx="764.4" cy="511.6" rx="2.7" ry="3" fill="#585858"/>
<ellipse cx="764.4" cy="510.1" rx="2.7" ry="3" fill="#000"/>
<ellipse cx="770.9" cy="514.6" rx="2.7" ry="3" fill="#d0d0d0"/>
<ellipse cx="770.9" cy="513.1" rx="2.7" ry="3" fill="#a0a0a0"/>
<ellipse cx="770.9" cy="511.6" rx="2.7" ry="3" fill="#585858"/>
<ellipse cx="770.9" cy="510.1" rx="2.7" ry="3" fill="#000"/>
<ellipse cx="777.2" cy="514.6" rx="2.7" ry="3" fill="#d0d0d0"/>
<ellipse cx="777.2" cy="513.1" rx="2.7" ry="3" fill="#a0a0a0"/>
<ellipse cx="777.2" cy="511.6" rx="2.7" ry="3" fill="#585858"/>
<ellipse cx="777.2" cy="510.1" rx="2.7" ry="3" fill="#000"/>
<ellipse cx="783.4" cy="487.9" rx="2.7" ry="3" fill="#000"/>
<ellipse cx="789.7" cy="511.6" rx="2.7" ry="3" fill="#d0d0d0"/>
<ellipse cx="789.7" cy="510.1" rx="2.7" ry="3" fill="#a0a0a0"/>
<ellipse cx="789.7" cy="508.6" rx="2.7" ry="3" fill="#585858"/>
<ellipse cx="789.7" cy="507.1" rx="2.7" ry="3" fill="#000"/>
<ellipse cx="796.2" cy="513.6" rx="2.7" ry="3" fill="#d0d0d0"/>
<ellipse cx="796.2" cy="512.1" rx="2.7" ry="3" fill="#a0a0a0"/>
<ellipse cx="796.2" cy="510.6" rx="2.7" ry="3" fill="#585858"/>
<ellipse cx="796.2" cy="509.1" rx="2.7" ry="3" fill="#000"/>
<ellipse cx="802.5" cy="513.6" rx="2.7" ry="3" fill="#d0d0d0"/>
<ellipse cx="802.5" cy="512.1" rx="2.7" ry="3" fill="#a0a0a0"/>
<ellipse cx="802.5" cy="510.6" rx="2.7" ry="3" fill="#585858"/>
<ellipse cx="802.5" cy="509.1" rx="2.7" ry="3" fill="#000"/>
<ellipse cx="809.1" cy="513.6" rx="2.7" ry="3" fill="#d0d0d0"/>
<ellipse cx="809.1" cy="512.1" rx="2.7" ry="3" fill="#a0a0a0"/>
<ellipse cx="809.1" cy="510.6" rx="2.7" ry="3" fill="#585858"/>
<ellipse cx="809.1" cy="509.1" rx="2.7" ry="3" fill="#000"/>
<ellipse cx="815.4" cy="513.6" rx="2.7" ry="3" fill="#d0d0d0"/>
<ellipse cx="815.4" cy="512.1" rx="2.7" ry="3" fill="#a0a0a0"/>
<ellipse cx="815.4" cy="510.6" rx="2.7" ry="3" fill="#585858"/>
<ellipse cx="815.4" cy="509.1" rx="2.7" ry="3" fill="#000"/>
<ellipse cx="821.9" cy="513.6" rx="2.7" ry="3" fill="#d0d0d0"/>
<ellipse cx="821.9" cy="512.1" rx="2.7" ry="3" fill="#a0a0a0"/>
<ellipse cx="821.9" cy="510.6" rx="2.7" ry="3" fill="#585858"/>
<ellipse cx="821.9" cy="509.1" rx="2.7" ry="3" fill="#000"/>
<ellipse cx="828.3" cy="513.6" rx="2.7" ry="3" fill="#d0d0d0"/>
<ellipse cx="828.3" cy="512.1" rx="2.7" ry="3" fill="#a0a0a0"/>
<ellipse cx="828.3" cy="510.6" rx="2.7" ry="3" fill="#585858"/>
<ellipse cx="828.3" cy="509.1" rx="2.7" ry="3" fill="#000"/>
<ellipse cx="834.8" cy="512.6" rx="2.7" ry="3" fill="#d0d0d0"/>
<ellipse cx="834.8" cy="511.1" rx="2.7" ry="3" fill="#a0a0a0"/>
<ellipse cx="834.8" cy="509.6" rx="2.7" ry="3" fill="#585858"/>
<ellipse cx="834.8" cy="508.1" rx="2.7" ry="3" fill="#000"/>
<ellipse cx="841.1" cy="475.4" rx="2.7" ry="3" fill="#000"/>
</g>
<circle cx="349.4" cy="443.8" r="2.7" fill="#b22222"/>
<circle cx="355.3" cy="443.8" r="2.7" fill="#b22222"/>
<circle cx="361.7" cy="443.8" r="2.7" fill="#b22222"/>
<circle cx="368.0" cy="443.8" r="2.7" fill="#b22222"/>
<circle cx="374.5" cy="496.2" r="2.7" fill="#b22222"/>
<circle cx="380.8" cy="496.2" r="2.7" fill="#b22222"/>
<circle cx="387.4" cy="496.2" r="2.7" fill="#b22222"/>
<circle cx="393.3" cy="447.2" r="2.7" fill="#b22222"/>
<circle cx="399.8" cy="447.2" r="2.7" fill="#b22222"/>
<circle cx="406.2" cy="448.7" r="2.7" fill="#b22222"/>
<circle cx="412.7" cy="448.7" r="2.7" fill="#b22222"/>
<circle cx="419.0" cy="447.2" r="2.7" fill="#b22222"/>
<circle cx="425.4" cy="447.2" r="2.7" fill="#b22222"/>
<circle cx="431.9" cy="448.7" r="2.7" fill="#b22222"/>
<circle cx="438.4" cy="448.7" r="2.7" fill="#b22222"/>
<circle cx="444.7" cy="447.2" r="2.7" fill="#b22222"/>
<circle cx="451.1" cy="448.7" r="2.7" fill="#b22222"/>
<circle cx="457.6" cy="454.1" r="2.7" fill="#b22222"/>
<circle cx="463.9" cy="464.6" r="2.7" fill="#b22222"/>
<circle cx="470.5" cy="447.2" r="2.7" fill="#b22222"/>
<circle cx="476.4" cy="445.4" r="2.7" fill="#b22222"/>
<circle cx="482.9" cy="445.4" r="2.7" fill="#b22222"/>
<circle cx="489.2" cy="445.4" r="2.7" fill="#b22222"/>
<circle cx="495.8" cy="445.4" r="2.7" fill="#b22222"/>
<circle cx="502.1" cy="445.4" r="2.7" fill="#b22222"/>
<circle cx="508.5" cy="445.4" r="2.7" fill="#b22222"/>
<circle cx="514.8" cy="445.4" r="2.7" fill="#b22222"/>
<circle cx="521.4" cy="445.4" r="2.7" fill="#b22222"/>
<circle cx="527.7" cy="445.4" r="2.7" fill="#b22222"/>
<circle cx="534.0" cy="445.4" r="2.7" fill="#b22222"/>
<circle cx="540.6" cy="445.4" r="2.7" fill="#b22222"/>
<circle cx="546.9" cy="445.4" r="2.7" fill="#b22222"/>
<circle cx="553.4" cy="445.4" r="2.7" fill="#b22222"/>
<circle cx="559.7" cy="445.4" r="2.7" fill="#b22222"/>
<circle cx="566.3" cy="445.4" r="2.7" fill="#b22222"/>
<circle cx="572.6" cy="445.4" r="2.7" fill="#b22222"/>
<circle cx="579.1" cy="445.4" r="2.7" fill="#b22222"/>
<circle cx="585.5" cy="447.2" r="2.7" fill="#b22222"/>
<circle cx="591.6" cy="447.2" r="2.7" fill="#b22222"/>
<circle cx="598.3" cy="448.7" r="2.7" fill="#b22222"/>
<circle cx="604.5" cy="448.7" r="2.7" fill="#b22222"/>
<circle cx="617.3" cy="450.7" r="2.7" fill="#b22222"/>
<circle cx="623.6" cy="450.7" r="2.7" fill="#b22222"/>
<circle cx="630.0" cy="452.1" r="2.7" fill="#b22222"/>
<circle cx="636.5" cy="452.1" r="2.7" fill="#b22222"/>
<circle cx="610.8" cy="467.5" r="2.7" fill="#b22222"/>
<circle cx="642.8" cy="489.7" r="2.7" fill="#b22222"/>
<circle cx="649.4" cy="490.3" r="2.7" fill="#b22222"/>
<circle cx="655.7" cy="491.3" r="2.7" fill="#b22222"/>
<circle cx="662.2" cy="492.3" r="2.7" fill="#b22222"/>
<circle cx="668.5" cy="491.3" r="2.7" fill="#b22222"/>
<circle cx="681.3" cy="492.7" r="2.7" fill="#b22222"/>
<circle cx="687.8" cy="492.3" r="2.7" fill="#b22222"/>
<circle cx="693.7" cy="476.0" r="2.7" fill="#b22222"/>
<circle cx="700.3" cy="474.5" r="2.7" fill="#b22222"/>
<circle cx="706.6" cy="451.7" r="2.7" fill="#b22222"/>
<circle cx="713.1" cy="454.1" r="2.7" fill="#b22222"/>
<circle cx="719.5" cy="475.4" r="2.7" fill="#b22222"/>
<circle cx="726.0" cy="470.9" r="2.7" fill="#b22222"/>
<circle cx="732.3" cy="476.0" r="2.7" fill="#b22222"/>
<circle cx="738.6" cy="447.2" r="2.7" fill="#b22222"/>
<circle cx="745.2" cy="445.4" r="2.7" fill="#b22222"/>
<circle cx="751.5" cy="445.4" r="2.7" fill="#b22222"/>
<circle cx="758.0" cy="445.4" r="2.7" fill="#b22222"/>
<circle cx="764.4" cy="445.4" r="2.7" fill="#b22222"/>
<circle cx="770.9" cy="445.4" r="2.7" fill="#b22222"/>
<circle cx="777.2" cy="445.4" r="2.7" fill="#b22222"/>
<circle cx="783.4" cy="443.8" r="2.7" fill="#b22222"/>
<circle cx="789.7" cy="445.4" r="2.7" fill="#b22222"/>
<circle cx="796.2" cy="447.2" r="2.7" fill="#b22222"/>
<circle cx="802.5" cy="443.8" r="2.7" fill="#b22222"/>
<circle cx="809.1" cy="443.8" r="2.7" fill="#b22222"/>
<circle cx="815.4" cy="443.8" r="2.7" fill="#b22222"/>
<circle cx="821.9" cy="443.8" r="2.7" fill="#b22222"/>
<circle cx="828.3" cy="443.8" r="2.7" fill="#b22222"/>
<circle cx="834.8" cy="443.8" r="2.7" fill="#b22222"/>
<circle cx="841.1" cy="472.1" r="2.7" fill="#b22222"/>
<path d="M348.0,470.9 L354.7,470.9 L361.7,482.4 L367.6,510.1 L374.5,507.1 L381.4,511.6 L387.4,511.6 L393.3,493.2 L400.2,493.8 L406.2,507.1 L412.7,512.0 L419.0,485.3 L425.9,485.9 L431.9,488.7 L438.4,490.3 L444.7,488.7 L451.1,509.1 L457.6,514.0 L529.7,514.0 L535.6,508.1 L540.6,482.4 L546.5,475.4 L553.4,471.9 L559.3,470.9 L566.3,472.1 L579.1,474.1 L591.0,476.0 L604.8,476.4 L610.8,480.4 L617.3,488.7 L623.6,487.3 L630.6,483.4 L638.5,480.4 L650.3,478.0 L656.3,478.4 L662.2,480.4 L668.2,489.3 L674.1,495.2 L681.3,490.3 L687.8,477.4 L693.7,476.8 L700.3,484.0 L706.6,477.4 L713.1,475.4 L719.5,478.4 L726.0,488.3 L732.3,481.4 L738.6,498.2 L745.2,514.0 L751.5,513.6 L758.0,502.5 L764.4,514.0 L776.8,514.0 L783.4,494.2 L789.7,493.8 L796.2,495.2 L802.5,499.8 L809.1,496.6 L815.4,511.6 L821.9,509.1 L828.3,500.2 L834.8,494.2 L841.0,486.3" fill="none" stroke="#ff9900" stroke-width="2.2" stroke-linejoin="round"/>
<line x1="348" y1="437.5" x2="842" y2="437.5" stroke="#333" stroke-width="1"/>
<line x1="348" y1="438.5" x2="842" y2="438.5" stroke="#666" stroke-width="1"/>
<line x1="348" y1="516.5" x2="842" y2="516.5" stroke="#111" stroke-width="1"/>
<defs><clipPath id="kclip"><rect x="348" y="525" width="494" height="78"/></clipPath></defs>
<g clip-path="url(#kclip)">
<rect x="348" y="525" width="494" height="78" fill="#7ec0ee"/>
<rect x="385.5" y="525" width="46.7" height="78" fill="#87cefa"/>
<rect x="539.1" y="525" width="46.7" height="78" fill="#87cefa"/>
<rect x="692.7" y="525" width="46.7" height="78" fill="#87cefa"/>
<polygon points="554.7,526.0 561.3,530.7 566.7,534.0 572.0,541.3 578.7,553.3 585.3,556.0 589.3,566.7 593.3,581.3 598.7,594.7 606.7,600.0 609.3,604.0 540.0,604.0 540.0,526.0" fill="#ffffff"/>
<polygon points="577.3,565.3 582.7,568.0 587.3,574.7 592.0,582.7 597.3,592.0 602.7,597.3 606.7,604.0 580.0,604.0 576.7,573.3" fill="#a0a0a0"/>
<polygon points="548.0,526.0 561.3,526.0 563.3,532.7 567.3,544.0 572.7,560.0 576.7,573.3 580.0,589.3 584.0,604.0 540.0,604.0" fill="#5a5a5a"/>
<polygon points="540.0,526.0 548.0,526.0 552.0,536.0 556.7,550.7 560.0,564.0 563.3,580.0 566.7,594.7 569.3,604.0 540.0,604.0" fill="#333333"/>
<polygon points="557.3,604.0 561.3,573.3 566.7,566.7 572.0,581.3 576.0,600.0 577.3,604.0" fill="#474747"/>
<rect x="348" y="525" width="193" height="78" fill="#333"/>
<polygon points="349.3,525.9 349.3,535.8 354.8,537.7 360.8,526.9" fill="#555"/>
<polygon points="604.0,608.0 605.9,602.0 608.9,574.3 610.5,538.7 611.3,526.9 611.9,522.9 846.3,522.9 846.3,608.0" fill="#333333"/>
<polygon points="610.9,524.6 706.6,524.6 706.6,527.3 700.0,529.9 689.4,539.2 681.5,535.2 674.3,529.3 668.3,535.2 660.4,543.1 649.9,549.0 639.3,547.7 630.1,541.8 623.5,532.6 616.9,529.9 616.9,548.4 615.6,561.6 610.9,561.6" fill="#555555"/>
<polygon points="720.0,524.7 736.5,524.7 736.5,528.2 728.2,537.1 720.0,538.5" fill="#555555"/>
<polygon points="736.5,524.7 829.9,524.7 829.9,527.5 802.4,528.6 783.2,528.2 761.2,527.8 736.5,528.2" fill="#4a4a4a"/>
<polygon points="829.9,524.7 842.3,524.7 842.3,544.0 835.4,533.0" fill="#8a8a8a"/>
<polygon points="726.9,525.8 736.5,525.8 732.4,528.6" fill="#87cefa"/>
<polygon points="829.9,525.8 838.1,525.8 834.0,528.9" fill="#87cefa"/>
<polygon points="702.6,525.7 715.8,525.7 710.5,527.3" fill="#87cefa"/>
<line x1="361.5" y1="525" x2="361.5" y2="603" stroke="#000" stroke-width="1" stroke-dasharray="2,2"/>
<line x1="380.5" y1="525" x2="380.5" y2="603" stroke="#000" stroke-width="1" stroke-dasharray="2,2"/>
<line x1="399.5" y1="525" x2="399.5" y2="603" stroke="#000" stroke-width="1" stroke-dasharray="2,2"/>
<line x1="419.5" y1="525" x2="419.5" y2="603" stroke="#000" stroke-width="1" stroke-dasharray="2,2"/>
<line x1="438.5" y1="525" x2="438.5" y2="603" stroke="#000" stroke-width="1" stroke-dasharray="2,2"/>
<line x1="457.5" y1="525" x2="457.5" y2="603" stroke="#000" stroke-width="1" stroke-dasharray="2,2"/>
<line x1="476.5" y1="525" x2="476.5" y2="603" stroke="#000" stroke-width="1" stroke-dasharray="2,2"/>
<line x1="495.5" y1="525" x2="495.5" y2="603" stroke="#000" stroke-width="1" stroke-dasharray="2,2"/>
<line x1="515.5" y1="525" x2="515.5" y2="603" stroke="#000" stroke-width="1" stroke-dasharray="2,2"/>
<line x1="534.5" y1="525" x2="534.5" y2="603" stroke="#000" stroke-width="1" stroke-dasharray="2,2"/>
<line x1="553.5" y1="525" x2="553.5" y2="603" stroke="#000" stroke-width="1" stroke-dasharray="2,2"/>
<line x1="572.5" y1="525" x2="572.5" y2="603" stroke="#000" stroke-width="1" stroke-dasharray="2,2"/>
<line x1="591.5" y1="525" x2="591.5" y2="603" stroke="#000" stroke-width="1" stroke-dasharray="2,2"/>
<line x1="611.5" y1="525" x2="611.5" y2="603" stroke="#000" stroke-width="1" stroke-dasharray="2,2"/>
<line x1="630.5" y1="525" x2="630.5" y2="603" stroke="#000" stroke-width="1" stroke-dasharray="2,2"/>
<line x1="649.5" y1="525" x2="649.5" y2="603" stroke="#000" stroke-width="1" stroke-dasharray="2,2"/>
<line x1="668.5" y1="525" x2="668.5" y2="603" stroke="#000" stroke-width="1" stroke-dasharray="2,2"/>
<line x1="687.5" y1="525" x2="687.5" y2="603" stroke="#000" stroke-width="1" stroke-dasharray="2,2"/>
<line x1="707.5" y1="525" x2="707.5" y2="603" stroke="#000" stroke-width="1" stroke-dasharray="2,2"/>
<line x1="726.5" y1="525" x2="726.5" y2="603" stroke="#000" stroke-width="1" stroke-dasharray="2,2"/>
<line x1="745.5" y1="525" x2="745.5" y2="603" stroke="#000" stroke-width="1" stroke-dasharray="2,2"/>
<line x1="764.5" y1="525" x2="764.5" y2="603" stroke="#000" stroke-width="1" stroke-dasharray="2,2"/>
<line x1="783.5" y1="525" x2="783.5" y2="603" stroke="#000" stroke-width="1" stroke-dasharray="2,2"/>
<line x1="803.5" y1="525" x2="803.5" y2="603" stroke="#000" stroke-width="1" stroke-dasharray="2,2"/>
<line x1="822.5" y1="525" x2="822.5" y2="603" stroke="#000" stroke-width="1" stroke-dasharray="2,2"/>
<line x1="348.5" y1="525" x2="348.5" y2="603" stroke="#000" stroke-width="1" stroke-dasharray="2,2"/>
<line x1="841.5" y1="525" x2="841.5" y2="603" stroke="#000" stroke-width="1" stroke-dasharray="2,2"/>
<line x1="348" y1="545.5" x2="842" y2="545.5" stroke="#000" stroke-width="1" stroke-dasharray="2,2"/>
<line x1="348" y1="564.5" x2="842" y2="564.5" stroke="#000" stroke-width="1" stroke-dasharray="2,2"/>
<line x1="348" y1="584.5" x2="842" y2="584.5" stroke="#000" stroke-width="1" stroke-dasharray="2,2"/>
<path d="M349.3,583.2 L353.8,583.2 L361.4,591.2 L367.7,596.1 L374.6,601.1 L380.6,603.0 L387.5,603.0 L393.4,598.1 L400.3,594.1 L406.7,568.4 L412.6,562.5 L419.5,549.6 L425.5,546.7 L431.6,545.7 L438.3,536.8 L444.8,546.7 L451.4,557.5 L457.3,578.3 L463.6,601.1 L470.2,598.1 L476.5,592.2 L483.0,582.3 L489.4,557.5 L495.7,549.6 L502.2,534.8 L508.5,529.2 L515.1,529.2 L520.0,528.5" fill="none" stroke="#eeeeee" stroke-width="1.2"/>
<path d="M510.0,528.5 L527.8,529.2 L533.7,525.9 L553.5,526.9" fill="none" stroke="#eeeeee" stroke-width="1.2"/>
<path d="M680.0,601.1 L687.9,602.0 L693.8,598.1 L700.4,529.8 L705.7,527.9 L712.6,532.8 L719.6,528.8 L726.5,527.9 L732.4,564.5 L738.8,600.1 L745.3,598.1 L752.2,594.1 L765.1,588.2 L776.9,592.2 L783.5,592.5 L789.8,594.1 L796.3,597.7 L802.7,596.1 L809.6,594.1 L815.5,593.1 L821.8,595.1 L828.4,596.1 L834.7,597.1 L841.2,600.1" fill="none" stroke="#c8c8c8" stroke-width="1.2"/>
<path d="M419.5,603.0 L425.5,551.6 L431.6,567.4 L438.3,570.4 L444.8,564.5 L451.4,566.4 L457.3,578.3 L463.6,583.2 L470.2,593.1 L476.5,602.0" fill="none" stroke="#888" stroke-width="1.2"/>
<path d="M537.7,602.0 L540.7,543.7 L546.6,584.2 L555.5,602.0 L560.4,568.4 L567.4,568.4 L573.3,590.2" fill="none" stroke="#999" stroke-width="1.2"/>
<path d="M775.0,602.0 L783.5,560.9 L789.8,562.5 L796.3,582.3 L802.7,602.0 L809.6,568.4 L815.5,580.3 L821.8,594.1 L828.4,590.2 L834.7,526.9 L841.2,532.8" fill="none" stroke="#999" stroke-width="1.2"/>
<line x1="349.3" y1="581.8" x2="349.3" y2="605" stroke="#ffb400" stroke-width="3.2" stroke-linecap="round"/>
<line x1="355.4" y1="580.2" x2="355.4" y2="605" stroke="#ffb400" stroke-width="3.2" stroke-linecap="round"/>
<line x1="361.4" y1="558.0" x2="361.4" y2="605" stroke="#ffb400" stroke-width="3.2" stroke-linecap="round"/>
<line x1="368.3" y1="548.2" x2="368.3" y2="605" stroke="#ffb400" stroke-width="3.2" stroke-linecap="round"/>
<line x1="374.6" y1="551.1" x2="374.6" y2="605" stroke="#ffb400" stroke-width="3.2" stroke-linecap="round"/>
<line x1="380.6" y1="546.2" x2="380.6" y2="605" stroke="#ffb400" stroke-width="3.2" stroke-linecap="round"/>
<line x1="387.5" y1="546.2" x2="387.5" y2="605" stroke="#ffb400" stroke-width="3.2" stroke-linecap="round"/>
<line x1="393.4" y1="553.1" x2="393.4" y2="605" stroke="#ffb400" stroke-width="3.2" stroke-linecap="round"/>
<line x1="400.3" y1="553.1" x2="400.3" y2="605" stroke="#ffb400" stroke-width="3.2" stroke-linecap="round"/>
<line x1="406.7" y1="551.1" x2="406.7" y2="605" stroke="#ffb400" stroke-width="3.2" stroke-linecap="round"/>
<line x1="412.6" y1="543.2" x2="412.6" y2="605" stroke="#ffb400" stroke-width="3.2" stroke-linecap="round"/>
<line x1="419.5" y1="561.0" x2="419.5" y2="605" stroke="#ffb400" stroke-width="3.2" stroke-linecap="round"/>
<line x1="425.5" y1="561.0" x2="425.5" y2="605" stroke="#ffb400" stroke-width="3.2" stroke-linecap="round"/>
<line x1="431.6" y1="557.1" x2="431.6" y2="605" stroke="#ffb400" stroke-width="3.2" stroke-linecap="round"/>
<line x1="438.3" y1="555.1" x2="438.3" y2="605" stroke="#ffb400" stroke-width="3.2" stroke-linecap="round"/>
<line x1="444.5" y1="558.0" x2="444.5" y2="605" stroke="#ffb400" stroke-width="3.2" stroke-linecap="round"/>
<line x1="451.4" y1="549.1" x2="451.4" y2="605" stroke="#ffb400" stroke-width="3.2" stroke-linecap="round"/>
<line x1="457.3" y1="540.2" x2="457.3" y2="605" stroke="#ffb400" stroke-width="3.2" stroke-linecap="round"/>
<line x1="463.6" y1="541.2" x2="463.6" y2="605" stroke="#ffb400" stroke-width="3.2" stroke-linecap="round"/>
<line x1="470.2" y1="541.2" x2="470.2" y2="605" stroke="#ffb400" stroke-width="3.2" stroke-linecap="round"/>
<line x1="476.5" y1="536.3" x2="476.5" y2="605" stroke="#ffb400" stroke-width="3.2" stroke-linecap="round"/>
<line x1="483.0" y1="535.3" x2="483.0" y2="605" stroke="#ffb400" stroke-width="3.2" stroke-linecap="round"/>
<line x1="489.4" y1="531.9" x2="489.4" y2="605" stroke="#ffb400" stroke-width="3.2" stroke-linecap="round"/>
<line x1="495.7" y1="531.9" x2="495.7" y2="605" stroke="#ffb400" stroke-width="3.2" stroke-linecap="round"/>
<line x1="502.2" y1="529.4" x2="502.2" y2="605" stroke="#ffb400" stroke-width="3.2" stroke-linecap="round"/>
<line x1="508.5" y1="533.3" x2="508.5" y2="605" stroke="#ffb400" stroke-width="3.2" stroke-linecap="round"/>
<line x1="514.9" y1="535.3" x2="514.9" y2="605" stroke="#ffb400" stroke-width="3.2" stroke-linecap="round"/>
<line x1="521.5" y1="534.7" x2="521.5" y2="605" stroke="#ffb400" stroke-width="3.2" stroke-linecap="round"/>
<line x1="527.4" y1="535.3" x2="527.4" y2="605" stroke="#ffb400" stroke-width="3.2" stroke-linecap="round"/>
<line x1="534.3" y1="546.2" x2="534.3" y2="605" stroke="#ffb400" stroke-width="3.2" stroke-linecap="round"/>
<line x1="540.7" y1="558.0" x2="540.7" y2="605" stroke="#ffb400" stroke-width="3.2" stroke-linecap="round"/>
<line x1="547.6" y1="574.9" x2="547.6" y2="605" stroke="#ffb400" stroke-width="3.2" stroke-linecap="round"/>
<line x1="553.5" y1="586.7" x2="553.5" y2="605" stroke="#ffb400" stroke-width="3.2" stroke-linecap="round"/>
<line x1="559.5" y1="602.6" x2="559.5" y2="605" stroke="#ffb400" stroke-width="3.2" stroke-linecap="round"/>
<line x1="585.2" y1="602.6" x2="585.2" y2="605" stroke="#ffb400" stroke-width="3.2" stroke-linecap="round"/>
<line x1="591.5" y1="602.6" x2="591.5" y2="605" stroke="#ffb400" stroke-width="3.2" stroke-linecap="round"/>
<line x1="604.6" y1="602.6" x2="604.6" y2="605" stroke="#ffb400" stroke-width="3.2" stroke-linecap="round"/>
<line x1="610.5" y1="599.6" x2="610.5" y2="605" stroke="#ffb400" stroke-width="3.2" stroke-linecap="round"/>
<line x1="617.4" y1="573.9" x2="617.4" y2="605" stroke="#ffb400" stroke-width="3.2" stroke-linecap="round"/>
<line x1="623.4" y1="574.9" x2="623.4" y2="605" stroke="#ffb400" stroke-width="3.2" stroke-linecap="round"/>
<line x1="630.3" y1="586.7" x2="630.3" y2="605" stroke="#ffb400" stroke-width="3.2" stroke-linecap="round"/>
<line x1="636.6" y1="596.6" x2="636.6" y2="605" stroke="#ffb400" stroke-width="3.2" stroke-linecap="round"/>
<line x1="642.5" y1="595.6" x2="642.5" y2="605" stroke="#ffb400" stroke-width="3.2" stroke-linecap="round"/>
<line x1="649.5" y1="595.6" x2="649.5" y2="605" stroke="#ffb400" stroke-width="3.2" stroke-linecap="round"/>
<line x1="655.4" y1="591.7" x2="655.4" y2="605" stroke="#ffb400" stroke-width="3.2" stroke-linecap="round"/>
<line x1="662.3" y1="582.8" x2="662.3" y2="605" stroke="#ffb400" stroke-width="3.2" stroke-linecap="round"/>
<line x1="668.3" y1="558.0" x2="668.3" y2="605" stroke="#ffb400" stroke-width="3.2" stroke-linecap="round"/>
<line x1="674.2" y1="553.1" x2="674.2" y2="605" stroke="#ffb400" stroke-width="3.2" stroke-linecap="round"/>
<line x1="681.1" y1="560.0" x2="681.1" y2="605" stroke="#ffb400" stroke-width="3.2" stroke-linecap="round"/>
<line x1="687.5" y1="584.7" x2="687.5" y2="605" stroke="#ffb400" stroke-width="3.2" stroke-linecap="round"/>
<line x1="694.2" y1="579.4" x2="694.2" y2="605" stroke="#ffb400" stroke-width="3.2" stroke-linecap="round"/>
<line x1="700.4" y1="567.5" x2="700.4" y2="605" stroke="#ffb400" stroke-width="3.2" stroke-linecap="round"/>
<line x1="706.3" y1="589.7" x2="706.3" y2="605" stroke="#ffb400" stroke-width="3.2" stroke-linecap="round"/>
<line x1="713.2" y1="595.6" x2="713.2" y2="605" stroke="#ffb400" stroke-width="3.2" stroke-linecap="round"/>
<line x1="719.6" y1="582.8" x2="719.6" y2="605" stroke="#ffb400" stroke-width="3.2" stroke-linecap="round"/>
<line x1="726.5" y1="578.8" x2="726.5" y2="605" stroke="#ffb400" stroke-width="3.2" stroke-linecap="round"/>
<line x1="732.4" y1="579.4" x2="732.4" y2="605" stroke="#ffb400" stroke-width="3.2" stroke-linecap="round"/>
<line x1="738.8" y1="553.1" x2="738.8" y2="605" stroke="#ffb400" stroke-width="3.2" stroke-linecap="round"/>
<line x1="745.3" y1="541.2" x2="745.3" y2="605" stroke="#ffb400" stroke-width="3.2" stroke-linecap="round"/>
<line x1="751.6" y1="541.2" x2="751.6" y2="605" stroke="#ffb400" stroke-width="3.2" stroke-linecap="round"/>
<line x1="758.1" y1="550.5" x2="758.1" y2="605" stroke="#ffb400" stroke-width="3.2" stroke-linecap="round"/>
<line x1="764.7" y1="534.7" x2="764.7" y2="605" stroke="#ffb400" stroke-width="3.2" stroke-linecap="round"/>
<line x1="770.6" y1="540.6" x2="770.6" y2="605" stroke="#ffb400" stroke-width="3.2" stroke-linecap="round"/>
<line x1="777.3" y1="540.6" x2="777.3" y2="605" stroke="#ffb400" stroke-width="3.2" stroke-linecap="round"/>
<line x1="783.5" y1="554.5" x2="783.5" y2="605" stroke="#ffb400" stroke-width="3.2" stroke-linecap="round"/>
<line x1="789.8" y1="556.5" x2="789.8" y2="605" stroke="#ffb400" stroke-width="3.2" stroke-linecap="round"/>
<line x1="796.3" y1="553.1" x2="796.3" y2="605" stroke="#ffb400" stroke-width="3.2" stroke-linecap="round"/>
<line x1="802.7" y1="550.5" x2="802.7" y2="605" stroke="#ffb400" stroke-width="3.2" stroke-linecap="round"/>
<line x1="809.6" y1="552.1" x2="809.6" y2="605" stroke="#ffb400" stroke-width="3.2" stroke-linecap="round"/>
<line x1="815.5" y1="546.6" x2="815.5" y2="605" stroke="#ffb400" stroke-width="3.2" stroke-linecap="round"/>
<line x1="821.8" y1="547.2" x2="821.8" y2="605" stroke="#ffb400" stroke-width="3.2" stroke-linecap="round"/>
<line x1="828.4" y1="550.5" x2="828.4" y2="605" stroke="#ffb400" stroke-width="3.2" stroke-linecap="round"/>
<line x1="834.7" y1="554.5" x2="834.7" y2="605" stroke="#ffb400" stroke-width="3.2" stroke-linecap="round"/>
<line x1="841.2" y1="579.8" x2="841.2" y2="605" stroke="#ffb400" stroke-width="3.2" stroke-linecap="round"/>
<line x1="361.5" y1="525" x2="361.5" y2="603" stroke="#000" stroke-width="1" stroke-dasharray="2,2"/>
<line x1="380.5" y1="525" x2="380.5" y2="603" stroke="#000" stroke-width="1" stroke-dasharray="2,2"/>
<line x1="399.5" y1="525" x2="399.5" y2="603" stroke="#000" stroke-width="1" stroke-dasharray="2,2"/>
<line x1="419.5" y1="525" x2="419.5" y2="603" stroke="#000" stroke-width="1" stroke-dasharray="2,2"/>
<line x1="438.5" y1="525" x2="438.5" y2="603" stroke="#000" stroke-width="1" stroke-dasharray="2,2"/>
<line x1="457.5" y1="525" x2="457.5" y2="603" stroke="#000" stroke-width="1" stroke-dasharray="2,2"/>
<line x1="476.5" y1="525" x2="476.5" y2="603" stroke="#000" stroke-width="1" stroke-dasharray="2,2"/>
<line x1="495.5" y1="525" x2="495.5" y2="603" stroke="#000" stroke-width="1" stroke-dasharray="2,2"/>
<line x1="515.5" y1="525" x2="515.5" y2="603" stroke="#000" stroke-width="1" stroke-dasharray="2,2"/>
<line x1="534.5" y1="525" x2="534.5" y2="603" stroke="#000" stroke-width="1" stroke-dasharray="2,2"/>
<line x1="553.5" y1="525" x2="553.5" y2="603" stroke="#000" stroke-width="1" stroke-dasharray="2,2"/>
<line x1="572.5" y1="525" x2="572.5" y2="603" stroke="#000" stroke-width="1" stroke-dasharray="2,2"/>
<line x1="591.5" y1="525" x2="591.5" y2="603" stroke="#000" stroke-width="1" stroke-dasharray="2,2"/>
<line x1="611.5" y1="525" x2="611.5" y2="603" stroke="#000" stroke-width="1" stroke-dasharray="2,2"/>
<line x1="630.5" y1="525" x2="630.5" y2="603" stroke="#000" stroke-width="1" stroke-dasharray="2,2"/>
<line x1="649.5" y1="525" x2="649.5" y2="603" stroke="#000" stroke-width="1" stroke-dasharray="2,2"/>
<line x1="668.5" y1="525" x2="668.5" y2="603" stroke="#000" stroke-width="1" stroke-dasharray="2,2"/>
<line x1="687.5" y1="525" x2="687.5" y2="603" stroke="#000" stroke-width="1" stroke-dasharray="2,2"/>
<line x1="707.5" y1="525" x2="707.5" y2="603" stroke="#000" stroke-width="1" stroke-dasharray="2,2"/>
<line x1="726.5" y1="525" x2="726.5" y2="603" stroke="#000" stroke-width="1" stroke-dasharray="2,2"/>
<line x1="745.5" y1="525" x2="745.5" y2="603" stroke="#000" stroke-width="1" stroke-dasharray="2,2"/>
<line x1="764.5" y1="525" x2="764.5" y2="603" stroke="#000" stroke-width="1" stroke-dasharray="2,2"/>
<line x1="783.5" y1="525" x2="783.5" y2="603" stroke="#000" stroke-width="1" stroke-dasharray="2,2"/>
<line x1="803.5" y1="525" x2="803.5" y2="603" stroke="#000" stroke-width="1" stroke-dasharray="2,2"/>
<line x1="822.5" y1="525" x2="822.5" y2="603" stroke="#000" stroke-width="1" stroke-dasharray="2,2"/>
</g>
<line x1="348" y1="525.5" x2="842" y2="525.5" stroke="#333" stroke-width="1"/>
<line x1="348" y1="526.5" x2="842" y2="526.5" stroke="#666" stroke-width="1"/>
<line x1="348" y1="603.5" x2="842" y2="603.5" stroke="#111" stroke-width="1"/>
<rect x="135" y="57" width="110" height="77" fill="#ffffff"/>
<rect x="170" y="57" width="61.5" height="77" fill="#eef3fb"/>
<polygon points="135.3,87.3 143.2,91.9 151.1,94.6 163.0,99.2 176.2,103.8 189.3,107.1 203.8,108.4 222.3,110.4 232.9,113.0 244.7,106.4 244.7,111.7 240.8,114.3 232.9,119.0 226.3,115.7 215.7,115.0 203.8,113.7 185.4,113.0 172.2,112.4 163.0,108.4 151.1,102.5 143.2,99.8 135.3,99.2" fill="#fde6dc"/>
<rect x="135" y="111.5" width="110" height="22.5" fill="#7ec0ee"/>
<rect x="135" y="111.5" width="35" height="22.5" fill="#87cefa"/>
<rect x="231.5" y="111.5" width="13.5" height="22.5" fill="#87cefa"/>
<polygon points="135.3,103.1 143.2,103.8 151.1,106.4 163.0,110.4 172.2,113.0 185.4,115.0 198.6,117.6 207.8,119.4 215.7,116.3 222.3,117.0 227.6,120.3 232.9,122.9 240.8,116.3 244.7,115.9 244.7,123.6 232.9,131.5 222.3,128.8 203.8,123.6 189.3,120.9 169.6,117.0 149.8,110.4 135.3,107.7" fill="#a8dcfa"/>
<line x1="142.5" y1="57" x2="142.5" y2="134" stroke="#000" stroke-width="1" stroke-dasharray="2,2"/>
<line x1="163.5" y1="57" x2="163.5" y2="134" stroke="#000" stroke-width="1" stroke-dasharray="2,2"/>
<line x1="184.5" y1="57" x2="184.5" y2="134" stroke="#000" stroke-width="1" stroke-dasharray="2,2"/>
<line x1="205.5" y1="57" x2="205.5" y2="134" stroke="#000" stroke-width="1" stroke-dasharray="2,2"/>
<line x1="226.5" y1="57" x2="226.5" y2="134" stroke="#000" stroke-width="1" stroke-dasharray="2,2"/>
<line x1="135" y1="59.5" x2="245" y2="59.5" stroke="#000" stroke-width="1" stroke-dasharray="2,2"/>
<line x1="135" y1="77.5" x2="245" y2="77.5" stroke="#000" stroke-width="1" stroke-dasharray="2,2"/>
<line x1="135" y1="94.5" x2="245" y2="94.5" stroke="#000" stroke-width="1" stroke-dasharray="2,2"/>
<line x1="135" y1="111.5" x2="245" y2="111.5" stroke="#000" stroke-width="1" stroke-dasharray="2,2"/>
<line x1="135" y1="129.5" x2="245" y2="129.5" stroke="#000" stroke-width="1" stroke-dasharray="2,2"/>
<line x1="142.5" y1="70.8" x2="142.5" y2="98.5" stroke="#a01010" stroke-width="1.1"/>
<line x1="149.5" y1="78.1" x2="149.5" y2="91.9" stroke="#a01010" stroke-width="1.1"/>
<line x1="156.4" y1="87.3" x2="156.4" y2="99.8" stroke="#a01010" stroke-width="1.1"/>
<line x1="163.6" y1="96.5" x2="163.6" y2="106.4" stroke="#a01010" stroke-width="1.1"/>
<line x1="170.2" y1="101.2" x2="170.2" y2="114.3" stroke="#a01010" stroke-width="1.1"/>
<line x1="177.5" y1="103.1" x2="177.5" y2="118.3" stroke="#a01010" stroke-width="1.1"/>
<line x1="184.5" y1="105.8" x2="184.5" y2="120.9" stroke="#a01010" stroke-width="1.1"/>
<line x1="191.3" y1="107.1" x2="191.3" y2="123.6" stroke="#a01010" stroke-width="1.1"/>
<line x1="198.6" y1="108.4" x2="198.6" y2="125.6" stroke="#a01010" stroke-width="1.1"/>
<line x1="205.2" y1="109.1" x2="205.2" y2="126.9" stroke="#a01010" stroke-width="1.1"/>
<line x1="212.4" y1="109.1" x2="212.4" y2="128.8" stroke="#a01010" stroke-width="1.1"/>
<line x1="219.4" y1="110.4" x2="219.4" y2="130.2" stroke="#a01010" stroke-width="1.1"/>
<line x1="226.3" y1="111.7" x2="226.3" y2="132.8" stroke="#a01010" stroke-width="1.1"/>
<line x1="233.5" y1="111.7" x2="233.5" y2="132.1" stroke="#a01010" stroke-width="1.1"/>
<line x1="240.5" y1="105.8" x2="240.5" y2="119.6" stroke="#a01010" stroke-width="1.1"/>
<path d="M135.3,99.2 L143.2,99.8 L151.1,102.5 L163.0,108.4 L172.2,112.4 L185.4,113.0 L203.8,113.7 L215.7,115.0 L226.3,115.7 L232.9,119.0 L240.8,114.3 L244.7,111.7" fill="none" stroke="#ff0000" stroke-width="2.4"/>
<path d="M135.3,103.1 L143.2,103.8 L151.1,106.4 L163.0,110.4 L172.2,113.0 L185.4,115.0 L198.6,117.6 L207.8,119.4 L215.7,116.3 L222.3,117.0 L227.6,120.3 L232.9,122.9 L240.8,116.3 L244.7,115.9" fill="none" stroke="#0000ff" stroke-width="2.4"/>
<rect x="140.2" y="112.5" width="2.6" height="2.6" fill="#6a5ae0"/>
<rect x="147.2" y="113.4" width="2.6" height="2.6" fill="#6a5ae0"/>
<rect x="154.2" y="114.3" width="2.6" height="2.6" fill="#6a5ae0"/>
<rect x="161.2" y="114.7" width="2.6" height="2.6" fill="#6a5ae0"/>
<rect x="168.2" y="115.1" width="2.6" height="2.6" fill="#6a5ae0"/>
<rect x="175.2" y="115.5" width="2.6" height="2.6" fill="#6a5ae0"/>
<rect x="182.2" y="115.9" width="2.6" height="2.6" fill="#6a5ae0"/>
<rect x="189.2" y="116.3" width="2.6" height="2.6" fill="#6a5ae0"/>
<rect x="196.2" y="116.8" width="2.6" height="2.6" fill="#6a5ae0"/>
<rect x="203.2" y="117.3" width="2.6" height="2.6" fill="#6a5ae0"/>
<rect x="210.2" y="117.8" width="2.6" height="2.6" fill="#6a5ae0"/>
<rect x="217.2" y="118.2" width="2.6" height="2.6" fill="#6a5ae0"/>
<rect x="224.2" y="118.1" width="2.6" height="2.6" fill="#6a5ae0"/>
<rect x="231.2" y="117.9" width="2.6" height="2.6" fill="#6a5ae0"/>
<rect x="238.2" y="117.7" width="2.6" height="2.6" fill="#6a5ae0"/>
<rect x="135.5" y="57.5" width="110" height="77" fill="none" stroke="#000" stroke-width="1"/>
<rect x="135" y="143" width="110" height="77" fill="#ffffff"/>
<rect x="170" y="143" width="61.5" height="77" fill="#eef3fb"/>
<rect x="135.4" y="186.7" width="8.6" height="33.3" fill="#00a000" shape-rendering="crispEdges"/>
<rect x="143.3" y="181.4" width="7.0" height="38.6" fill="#00a000" shape-rendering="crispEdges"/>
<rect x="149.7" y="179.5" width="8.0" height="40.5" fill="#00a000" shape-rendering="crispEdges"/>
<rect x="157.1" y="202.6" width="7.2" height="17.4" fill="#00a000" shape-rendering="crispEdges"/>
<rect x="163.7" y="207.1" width="6.7" height="12.9" fill="#00a000" shape-rendering="crispEdges"/>
<rect x="169.8" y="217.7" width="7.8" height="2.3" fill="#00a000" shape-rendering="crispEdges"/>
<rect x="157.1" y="182.2" width="6.6" height="20.4" fill="#1030d0"/>
<rect x="163.7" y="205.2" width="6.1" height="1.9" fill="#1030d0"/>
<line x1="143.5" y1="143" x2="143.5" y2="220" stroke="#000" stroke-width="1" stroke-dasharray="2,2"/>
<line x1="164.5" y1="143" x2="164.5" y2="220" stroke="#000" stroke-width="1" stroke-dasharray="2,2"/>
<line x1="184.5" y1="143" x2="184.5" y2="220" stroke="#000" stroke-width="1" stroke-dasharray="2,2"/>
<line x1="204.5" y1="143" x2="204.5" y2="220" stroke="#000" stroke-width="1" stroke-dasharray="2,2"/>
<line x1="225.5" y1="143" x2="225.5" y2="220" stroke="#000" stroke-width="1" stroke-dasharray="2,2"/>
<line x1="135" y1="150.5" x2="245" y2="150.5" stroke="#000" stroke-width="1" stroke-dasharray="2,2"/>
<line x1="135" y1="167.5" x2="245" y2="167.5" stroke="#000" stroke-width="1" stroke-dasharray="2,2"/>
<line x1="135" y1="184.5" x2="245" y2="184.5" stroke="#000" stroke-width="1" stroke-dasharray="2,2"/>
<line x1="135" y1="202.5" x2="245" y2="202.5" stroke="#000" stroke-width="1" stroke-dasharray="2,2"/>
<path d="M136.4,172.2 L139.7,169.6 L144.2,167.0 L150.6,158.0 L155.7,155.4 L163.5,152.9 L184.0,152.9 L190.5,149.0 L196.9,148.8 L204.8,154.1 L211.4,155.7 L218.1,153.0 L226.0,149.6 L234.0,151.4 L241.9,158.9 L245.4,163.6" fill="none" stroke="#e8501a" stroke-width="2"/>
<line x1="139.3" y1="165.1" x2="139.3" y2="187.0" stroke="#00b000" stroke-width="1.2"/>
<line x1="146.5" y1="147.1" x2="146.5" y2="181.2" stroke="#00b000" stroke-width="1.2"/>
<line x1="153.4" y1="147.1" x2="153.4" y2="179.3" stroke="#00b000" stroke-width="1.2"/>
<circle cx="139.3" cy="173.5" r="2.4" fill="#ffd800" stroke="#604000" stroke-width="0.7"/>
<circle cx="146.5" cy="173.5" r="2.4" fill="#ffa000" stroke="#604000" stroke-width="0.7"/>
<circle cx="153.4" cy="173.5" r="2.4" fill="#e00000" stroke="#604000" stroke-width="0.7"/>
<rect x="145.2" y="146.2" width="2.6" height="2.6" fill="#ff0000"/>
<rect x="152.1" y="146.2" width="2.6" height="2.6" fill="#ff0000"/>
<line x1="140" y1="219.5" x2="150" y2="219.5" stroke="#ff0000" stroke-width="1" stroke-dasharray="2,2"/>
<rect x="135.5" y="143.5" width="110" height="77" fill="none" stroke="#000" stroke-width="1"/>
<rect x="135" y="229" width="110" height="77" fill="#ffffff"/>
<rect x="170" y="229" width="61.5" height="77" fill="#eef3fb"/>
<polygon points="135.0,260.9 143.9,259.6 150.5,254.3 157.1,249.5 163.7,249.0 170.4,245.8 177.0,247.6 184.9,250.3 191.6,253.7 204.8,253.7 224.7,253.7 236.6,259.6 245.0,264.9 245.0,306.0 135.0,306.0" fill="#ffff00"/>
<defs><clipPath id="lprc"><polygon points="135.0,260.9 143.9,259.6 150.5,254.3 157.1,249.5 163.7,249.0 170.4,245.8 177.0,247.6 184.9,250.3 191.6,253.7 204.8,253.7 224.7,253.7 236.6,259.6 245.0,264.9 245.0,306.0 135.0,306.0"/></clipPath></defs>
<rect x="163.7" y="229" width="6.7" height="77" fill="#ffd000" clip-path="url(#lprc)"/>
<line x1="143.5" y1="229" x2="143.5" y2="306" stroke="#000" stroke-width="1" stroke-dasharray="2,2"/>
<line x1="164.5" y1="229" x2="164.5" y2="306" stroke="#000" stroke-width="1" stroke-dasharray="2,2"/>
<line x1="184.5" y1="229" x2="184.5" y2="306" stroke="#000" stroke-width="1" stroke-dasharray="2,2"/>
<line x1="204.5" y1="229" x2="204.5" y2="306" stroke="#000" stroke-width="1" stroke-dasharray="2,2"/>
<line x1="225.5" y1="229" x2="225.5" y2="306" stroke="#000" stroke-width="1" stroke-dasharray="2,2"/>
<line x1="135" y1="231.5" x2="245" y2="231.5" stroke="#000" stroke-width="1" stroke-dasharray="2,2"/>
<line x1="135" y1="254.5" x2="245" y2="254.5" stroke="#000" stroke-width="1" stroke-dasharray="2,2"/>
<line x1="135" y1="278.5" x2="245" y2="278.5" stroke="#000" stroke-width="1" stroke-dasharray="2,2"/>
<line x1="135" y1="301.5" x2="245" y2="301.5" stroke="#000" stroke-width="1" stroke-dasharray="2,2"/>
<path d="M135.0,260.9 L143.9,259.6 L150.5,254.3 L157.1,249.5 L163.7,249.0 L170.4,245.8 L177.0,247.6 L184.9,250.3 L191.6,253.7 L204.8,253.7 L224.7,253.7 L236.6,259.6 L245.0,264.9" fill="none" stroke="#000" stroke-width="2"/>
<rect x="135.5" y="229.5" width="110" height="77" fill="none" stroke="#000" stroke-width="1"/>
<rect x="135" y="315" width="110" height="77" fill="#ffffff"/>
<rect x="170" y="315" width="61.5" height="77" fill="#eef3fb"/>
<defs><clipPath id="lwc"><polygon points="135.0,364.3 141.4,367.4 151.6,370.5 169.0,373.5 184.3,375.0 197.0,372.5 210.9,372.5 225.2,372.5 238.9,370.0 245.0,369.4 245.0,392.0 135.0,392.0"/></clipPath></defs>
<g clip-path="url(#lwc)">
<rect x="135" y="315" width="13.5" height="77" fill="#00cc00" shape-rendering="crispEdges"/>
<rect x="148" y="315" width="21.5" height="77" fill="#007a00" shape-rendering="crispEdges"/>
<rect x="169" y="315" width="28.5" height="77" fill="#0b3f80" shape-rendering="crispEdges"/>
<rect x="197" y="315" width="14.5" height="77" fill="#007a00" shape-rendering="crispEdges"/>
<rect x="211" y="315" width="14.7" height="77" fill="#0b3f80" shape-rendering="crispEdges"/>
<rect x="225.2" y="315" width="14.3" height="77" fill="#007a00" shape-rendering="crispEdges"/>
<rect x="239" y="315" width="6.5" height="77" fill="#00cc00" shape-rendering="crispEdges"/>
</g>
<line x1="143.5" y1="315" x2="143.5" y2="392" stroke="#000" stroke-width="1" stroke-dasharray="2,2"/>
<line x1="164.5" y1="315" x2="164.5" y2="392" stroke="#000" stroke-width="1" stroke-dasharray="2,2"/>
<line x1="184.5" y1="315" x2="184.5" y2="392" stroke="#000" stroke-width="1" stroke-dasharray="2,2"/>
<line x1="204.5" y1="315" x2="204.5" y2="392" stroke="#000" stroke-width="1" stroke-dasharray="2,2"/>
<line x1="225.5" y1="315" x2="225.5" y2="392" stroke="#000" stroke-width="1" stroke-dasharray="2,2"/>
<line x1="135" y1="334.5" x2="245" y2="334.5" stroke="#000" stroke-width="1" stroke-dasharray="2,2"/>
<line x1="135" y1="354.5" x2="245" y2="354.5" stroke="#000" stroke-width="1" stroke-dasharray="2,2"/>
<line x1="135" y1="373.5" x2="245" y2="373.5" stroke="#000" stroke-width="1" stroke-dasharray="2,2"/>
<path d="M135.0,364.3 L141.4,367.4 L151.6,370.5 L169.0,373.5 L184.3,375.0 L197.0,372.5 L210.9,372.5 L225.2,372.5 L238.9,370.0 L245.0,369.4" fill="none" stroke="#000090" stroke-width="2"/>
<line x1="143.4" y1="340.4" x2="149.1" y2="340.4" stroke="#ff0000" stroke-width="1"/>
<line x1="147.9" y1="347.5" x2="161.4" y2="347.5" stroke="#ff0000" stroke-width="1"/>
<line x1="161.4" y1="351.6" x2="170.0" y2="351.6" stroke="#ff0000" stroke-width="1"/>
<line x1="170.0" y1="355.1" x2="176.1" y2="355.1" stroke="#ff0000" stroke-width="1"/>
<line x1="176.1" y1="358.6" x2="184.3" y2="358.6" stroke="#ff0000" stroke-width="1"/>
<line x1="184.3" y1="354.1" x2="190.0" y2="354.1" stroke="#ff0000" stroke-width="1"/>
<line x1="190.0" y1="351.6" x2="198.6" y2="351.6" stroke="#ff0000" stroke-width="1"/>
<line x1="198.6" y1="350.4" x2="210.9" y2="350.4" stroke="#ff0000" stroke-width="1"/>
<line x1="210.9" y1="351.6" x2="225.2" y2="351.6" stroke="#ff0000" stroke-width="1"/>
<line x1="225.2" y1="347.5" x2="232.4" y2="347.5" stroke="#ff0000" stroke-width="1"/>
<line x1="232.4" y1="342.8" x2="245.3" y2="342.8" stroke="#ff0000" stroke-width="1"/>
<line x1="130.1" y1="333.6" x2="138.3" y2="316.2" stroke="#ff0000" stroke-width="1"/>
<rect x="137.0" y="314.9" width="2.6" height="2.6" fill="#ff0000"/>
<rect x="135.5" y="315.5" width="110" height="77" fill="none" stroke="#000" stroke-width="1"/>
<rect x="135" y="398" width="110" height="32" fill="#ffffff"/>
<rect x="170" y="398" width="61.5" height="32" fill="#eef3fb"/>
<line x1="143.5" y1="398" x2="143.5" y2="430" stroke="#000" stroke-width="1" stroke-dasharray="2,2"/>
<line x1="164.5" y1="398" x2="164.5" y2="430" stroke="#000" stroke-width="1" stroke-dasharray="2,2"/>
<line x1="184.5" y1="398" x2="184.5" y2="430" stroke="#000" stroke-width="1" stroke-dasharray="2,2"/>
<line x1="204.5" y1="398" x2="204.5" y2="430" stroke="#000" stroke-width="1" stroke-dasharray="2,2"/>
<line x1="225.5" y1="398" x2="225.5" y2="430" stroke="#000" stroke-width="1" stroke-dasharray="2,2"/>
<line x1="141.1" y1="406.1" x2="145.2" y2="417.4" stroke="#000099" stroke-width="1.4"/>
<polygon points="147.3,423.1 142.2,418.5 148.2,416.3" fill="#000099"/>
<line x1="148.0" y1="406.1" x2="152.1" y2="417.4" stroke="#000099" stroke-width="1.4"/>
<polygon points="154.1,423.1 149.1,418.5 155.1,416.3" fill="#000099"/>
<line x1="154.8" y1="406.1" x2="158.9" y2="417.4" stroke="#000099" stroke-width="1.4"/>
<polygon points="161.0,423.1 155.9,418.5 161.9,416.3" fill="#000099"/>
<line x1="161.7" y1="406.1" x2="165.8" y2="417.4" stroke="#000099" stroke-width="1.4"/>
<polygon points="167.8,423.1 162.8,418.5 168.8,416.3" fill="#000099"/>
<line x1="168.5" y1="406.1" x2="172.6" y2="417.4" stroke="#000099" stroke-width="1.4"/>
<polygon points="174.7,423.1 169.6,418.5 175.6,416.3" fill="#000099"/>
<line x1="175.4" y1="406.1" x2="179.5" y2="417.4" stroke="#000099" stroke-width="1.4"/>
<polygon points="181.5,423.1 176.5,418.5 182.5,416.3" fill="#000099"/>
<line x1="182.2" y1="406.1" x2="186.3" y2="417.4" stroke="#000099" stroke-width="1.4"/>
<polygon points="188.4,423.1 183.3,418.5 189.3,416.3" fill="#000099"/>
<line x1="189.1" y1="406.1" x2="193.2" y2="417.4" stroke="#000099" stroke-width="1.4"/>
<polygon points="195.2,423.1 190.2,418.5 196.2,416.3" fill="#000099"/>
<line x1="195.9" y1="406.1" x2="200.0" y2="417.4" stroke="#000099" stroke-width="1.4"/>
<polygon points="202.1,423.1 197.0,418.5 203.0,416.3" fill="#000099"/>
<line x1="202.8" y1="406.1" x2="206.9" y2="417.4" stroke="#000099" stroke-width="1.4"/>
<polygon points="208.9,423.1 203.9,418.5 209.9,416.3" fill="#000099"/>
<line x1="209.6" y1="406.1" x2="213.7" y2="417.4" stroke="#000099" stroke-width="1.4"/>
<polygon points="215.8,423.1 210.7,418.5 216.7,416.3" fill="#000099"/>
<line x1="216.5" y1="406.1" x2="220.6" y2="417.4" stroke="#000099" stroke-width="1.4"/>
<polygon points="222.6,423.1 217.6,418.5 223.6,416.3" fill="#000099"/>
<line x1="223.3" y1="406.1" x2="227.4" y2="417.4" stroke="#000099" stroke-width="1.4"/>
<polygon points="229.5,423.1 224.4,418.5 230.4,416.3" fill="#000099"/>
<line x1="230.2" y1="406.1" x2="234.3" y2="417.4" stroke="#000099" stroke-width="1.4"/>
<polygon points="236.3,423.1 231.3,418.5 237.3,416.3" fill="#000099"/>
<line x1="237.0" y1="406.1" x2="241.1" y2="417.4" stroke="#000099" stroke-width="1.4"/>
<polygon points="243.2,423.1 238.1,418.5 244.1,416.3" fill="#000099"/>
<line x1="136.0" y1="419.0" x2="140.5" y2="419.0" stroke="#000099" stroke-width="1.4"/>
<polygon points="146.0,419.0 140.5,422.0 140.5,416.0" fill="#000099"/>
<line x1="138" y1="419" x2="142" y2="419" stroke="#000099" stroke-width="1.5"/>
<line x1="245.6" y1="418.8" x2="248.0" y2="419.2" stroke="#000099" stroke-width="1.4"/>
<polygon points="253.4,420.2 247.5,422.2 248.5,416.3" fill="#000099"/>
<rect x="135.5" y="398.5" width="110" height="32" fill="none" stroke="#000" stroke-width="1"/>
<rect x="135" y="436" width="110" height="78" fill="#87cefa"/>
<rect x="170" y="436" width="61.5" height="78" fill="#7ec0ee"/>
<line x1="143.5" y1="436" x2="143.5" y2="514" stroke="#000" stroke-width="1" stroke-dasharray="2,2"/>
<line x1="164.5" y1="436" x2="164.5" y2="514" stroke="#000" stroke-width="1" stroke-dasharray="2,2"/>
<line x1="184.5" y1="436" x2="184.5" y2="514" stroke="#000" stroke-width="1" stroke-dasharray="2,2"/>
<line x1="204.5" y1="436" x2="204.5" y2="514" stroke="#000" stroke-width="1" stroke-dasharray="2,2"/>
<line x1="225.5" y1="436" x2="225.5" y2="514" stroke="#000" stroke-width="1" stroke-dasharray="2,2"/>
<line x1="135" y1="436.5" x2="245" y2="436.5" stroke="#000" stroke-width="1" stroke-dasharray="2,2"/>
<line x1="135" y1="455.5" x2="245" y2="455.5" stroke="#000" stroke-width="1" stroke-dasharray="2,2"/>
<line x1="135" y1="475.5" x2="245" y2="475.5" stroke="#000" stroke-width="1" stroke-dasharray="2,2"/>
<line x1="135" y1="494.5" x2="245" y2="494.5" stroke="#000" stroke-width="1" stroke-dasharray="2,2"/>
<path d="M135.3,470.7 L143.3,470.7 L150.0,465.3 L163.3,463.3 L179.3,463.7 L186.0,467.3 L195.3,470.7 L204.7,471.3 L216.7,474.7 L226.0,474.7 L236.7,471.3 L244.9,470.0" fill="none" stroke="#ff9900" stroke-width="2"/>
<circle cx="143.5" cy="500.4" r="2.5" fill="#777"/>
<circle cx="150.1" cy="500.4" r="2.5" fill="#fff"/>
<circle cx="164.5" cy="499.5" r="2.5" fill="#fff"/>
<circle cx="170.8" cy="489.4" r="2.5" fill="#999"/>
<circle cx="177.4" cy="489.4" r="2.5" fill="#ccc"/>
<circle cx="184.4" cy="500.4" r="2.5" fill="#555"/>
<circle cx="184.4" cy="509.1" r="2.5" fill="#fff"/>
<circle cx="191.8" cy="500.4" r="2.5" fill="#fff"/>
<circle cx="198.6" cy="485.9" r="2.5" fill="#999"/>
<circle cx="198.6" cy="491.4" r="2.5" fill="#fff"/>
<circle cx="204.6" cy="491.4" r="2.5" fill="#fff"/>
<circle cx="211.7" cy="481.8" r="2.5" fill="#888"/>
<circle cx="211.7" cy="487.3" r="2.5" fill="#ccc"/>
<circle cx="219.1" cy="489.4" r="2.5" fill="#888"/>
<circle cx="219.1" cy="500.4" r="2.5" fill="#ccc"/>
<circle cx="219.1" cy="509.1" r="2.5" fill="#fff"/>
<circle cx="225.9" cy="494.1" r="2.5" fill="#555"/>
<circle cx="225.9" cy="509.1" r="2.5" fill="#fff"/>
<circle cx="232.7" cy="494.1" r="2.5" fill="#888"/>
<circle cx="232.7" cy="509.1" r="2.5" fill="#fff"/>
<circle cx="239.5" cy="494.1" r="2.5" fill="#bbb"/>
<circle cx="239.5" cy="500.4" r="2.5" fill="#fff"/>
<circle cx="239.5" cy="509.1" r="2.5" fill="#fff"/>
<circle cx="245.0" cy="500.4" r="2.5" fill="#999"/>
<circle cx="150.1" cy="492.2" r="2.5" fill="#555"/>
<circle cx="157.2" cy="492.2" r="2.5" fill="#555"/>
<circle cx="164.5" cy="492.2" r="2.5" fill="#555"/>
<circle cx="143.5" cy="480.4" r="2.5" fill="#000"/>
<circle cx="184.4" cy="489.4" r="2.5" fill="#000"/>
<circle cx="191.8" cy="455.9" r="2.5" fill="#000"/>
<circle cx="198.6" cy="464.1" r="2.5" fill="#000"/>
<circle cx="204.6" cy="467.6" r="2.5" fill="#000"/>
<circle cx="211.7" cy="470.4" r="2.5" fill="#000"/>
<circle cx="219.1" cy="480.4" r="2.5" fill="#000"/>
<circle cx="225.9" cy="485.4" r="2.5" fill="#000"/>
<circle cx="232.7" cy="488.6" r="2.5" fill="#000"/>
<circle cx="239.5" cy="480.4" r="2.5" fill="#000"/>
<circle cx="245.0" cy="476.4" r="2.5" fill="#000"/>
<circle cx="136.5" cy="475.0" r="2.5" fill="#b22222"/>
<circle cx="143.5" cy="475.0" r="2.5" fill="#b22222"/>
<circle cx="150.1" cy="458.1" r="2.5" fill="#b22222"/>
<circle cx="157.2" cy="458.1" r="2.5" fill="#b22222"/>
<circle cx="164.5" cy="460.0" r="2.5" fill="#b22222"/>
<circle cx="170.8" cy="451.0" r="2.5" fill="#b22222"/>
<circle cx="177.4" cy="449.1" r="2.5" fill="#b22222"/>
<circle cx="184.4" cy="449.1" r="2.5" fill="#b22222"/>
<circle cx="191.8" cy="449.1" r="2.5" fill="#b22222"/>
<circle cx="198.6" cy="451.0" r="2.5" fill="#b22222"/>
<circle cx="204.6" cy="449.1" r="2.5" fill="#b22222"/>
<circle cx="211.7" cy="449.1" r="2.5" fill="#b22222"/>
<circle cx="219.1" cy="449.1" r="2.5" fill="#b22222"/>
<circle cx="225.9" cy="449.1" r="2.5" fill="#b22222"/>
<circle cx="232.7" cy="449.1" r="2.5" fill="#b22222"/>
<circle cx="239.5" cy="449.1" r="2.5" fill="#b22222"/>
<circle cx="245.0" cy="449.1" r="2.5" fill="#b22222"/>
<rect x="135.5" y="436.5" width="110" height="78" fill="none" stroke="#000" stroke-width="1"/>
<defs><clipPath id="lkc"><rect x="135" y="523" width="110" height="78"/></clipPath></defs>
<g clip-path="url(#lkc)">
<rect x="135" y="523" width="110" height="78" fill="#87cefa"/>
<rect x="170" y="523" width="61.5" height="78" fill="#7ec0ee"/>
<polygon points="164.8,601.2 166.2,589.6 170.9,578.0 177.1,565.1 184.6,563.7 188.7,553.5 194.1,546.6 202.3,543.9 206.4,534.4 211.9,526.2 220.0,524.1 233.7,524.1 239.1,534.4 245.3,543.2 245.3,601.2" fill="#ffffff"/>
<polygon points="194.1,549.4 196.8,531.0 204.4,533.0 205.7,542.6 209.8,529.6 217.3,525.5 232.3,524.8 245.3,524.1 245.3,601.2 203.7,601.2 198.2,583.5 192.8,572.6" fill="#9a9a9a"/>
<polygon points="135.5,601.2 135.5,572.6 143.6,563.7 150.5,576.7 157.3,583.5 166.2,588.9 175.7,592.4 179.1,582.1 184.6,568.5 192.1,569.8 198.2,586.2 205.0,596.4 211.9,579.4 217.3,558.9 225.5,534.4 232.3,539.8 239.1,558.9 245.3,563.0 245.3,601.2" fill="#555555"/>
<polygon points="135.5,601.2 135.5,596.4 149.1,591.0 163.4,600.5 163.4,601.2" fill="#2e2e2e"/>
<path d="M211.9,526.2 L220.0,524.1 L233.7,524.1 L239.1,534.4 L245.3,543.2" stroke="#fff" stroke-width="1.3" fill="none"/>
<path d="M135.5,588.9 L150.5,601.2" stroke="#bbb" stroke-width="1" fill="none"/>
<path d="M184.6,601.2 L190.0,582.1 L193.4,572.6" stroke="#bbb" stroke-width="1" fill="none"/>
</g>
<line x1="143.5" y1="523" x2="143.5" y2="601" stroke="#000" stroke-width="1" stroke-dasharray="2,2"/>
<line x1="164.5" y1="523" x2="164.5" y2="601" stroke="#000" stroke-width="1" stroke-dasharray="2,2"/>
<line x1="184.5" y1="523" x2="184.5" y2="601" stroke="#000" stroke-width="1" stroke-dasharray="2,2"/>
<line x1="204.5" y1="523" x2="204.5" y2="601" stroke="#000" stroke-width="1" stroke-dasharray="2,2"/>
<line x1="225.5" y1="523" x2="225.5" y2="601" stroke="#000" stroke-width="1" stroke-dasharray="2,2"/>
<line x1="135" y1="542.5" x2="245" y2="542.5" stroke="#000" stroke-width="1" stroke-dasharray="2,2"/>
<line x1="135" y1="562.5" x2="245" y2="562.5" stroke="#000" stroke-width="1" stroke-dasharray="2,2"/>
<line x1="135" y1="581.5" x2="245" y2="581.5" stroke="#000" stroke-width="1" stroke-dasharray="2,2"/>
<line x1="219.1" y1="591" x2="219.1" y2="601" stroke="#ffb400" stroke-width="2.6"/>
<line x1="225.9" y1="591" x2="225.9" y2="601" stroke="#ffb400" stroke-width="2.6"/>
<line x1="232.7" y1="591" x2="232.7" y2="601" stroke="#ffb400" stroke-width="2.6"/>
<line x1="239.5" y1="591" x2="239.5" y2="601" stroke="#ffb400" stroke-width="2.6"/>
<rect x="135.5" y="523.5" width="110" height="78" fill="none" stroke="#000" stroke-width="1"/>
<text x="289.3" y="12.7" font-size="12.3" fill="#000099" stroke="#000099" stroke-width="0.15" textLength="147.6" lengthAdjust="spacingAndGlyphs">wschód słońca: 07:43 CET</text>
<text x="290.8" y="25.7" font-size="12.3" fill="#000099" stroke="#000099" stroke-width="0.15" textLength="145.1" lengthAdjust="spacingAndGlyphs">zachód słońca: 15:08 CET</text>
<text x="531.1" y="12.3" font-size="12.3" fill="#000099" stroke="#000099" stroke-width="0.15" textLength="129.3" lengthAdjust="spacingAndGlyphs">22°27'34"E, 53°58'46"N</text>
<text x="553.2" y="24.6" font-size="12.3" fill="#000099" stroke="#000099" stroke-width="0.15" textLength="83.5" lengthAdjust="spacingAndGlyphs">(x=273, y=355)</text>
<text x="738.6" y="12.9" font-size="12.3" fill="#000099" stroke="#000099" stroke-width="0.15" textLength="159.3" lengthAdjust="spacingAndGlyphs">wysokość (min, środek, max)</text>
<text x="769.9" y="25.5" font-size="12.3" fill="#000099" stroke="#000099" stroke-width="0.15" textLength="96.6" lengthAdjust="spacingAndGlyphs">136 - 166 - 185 m</text>
<text x="306.2" y="54.6" font-size="12.5" fill="#000" stroke="#000" stroke-width="0.15" textLength="25.2" lengthAdjust="spacingAndGlyphs">CET</text>
<text x="859.1" y="54.6" font-size="12.5" fill="#000" stroke="#000" stroke-width="0.15" textLength="25.0" lengthAdjust="spacingAndGlyphs">CET</text>
<text x="388.2" y="41.9" font-size="12.5" fill="#000" stroke="#000" stroke-width="0.15" textLength="61.0" lengthAdjust="spacingAndGlyphs">wto, 16.12</text>
<text x="544.0" y="42.1" font-size="12.5" fill="#000" stroke="#000" stroke-width="0.15" textLength="57.9" lengthAdjust="spacingAndGlyphs">śro, 17.12</text>
<text x="694.8" y="42.1" font-size="12.5" fill="#000" stroke="#000" stroke-width="0.15" textLength="63.1" lengthAdjust="spacingAndGlyphs">czw, 18.12</text>
<text x="353.8" y="54.7" font-size="12.5" fill="#000" stroke="#000" stroke-width="0.15" textLength="15.0" lengthAdjust="spacingAndGlyphs">04</text>
<text x="392.2" y="54.7" font-size="12.5" fill="#000" stroke="#000" stroke-width="0.15" textLength="15.0" lengthAdjust="spacingAndGlyphs">10</text>
<text x="430.6" y="54.7" font-size="12.5" fill="#000" stroke="#000" stroke-width="0.15" textLength="15.0" lengthAdjust="spacingAndGlyphs">16</text>
<text x="469.0" y="54.7" font-size="12.5" fill="#000" stroke="#000" stroke-width="0.15" textLength="15.0" lengthAdjust="spacingAndGlyphs">22</text>
<text x="507.4" y="54.7" font-size="12.5" fill="#000" stroke="#000" stroke-width="0.15" textLength="15.0" lengthAdjust="spacingAndGlyphs">04</text>
<text x="545.8" y="54.7" font-size="12.5" fill="#000" stroke="#000" stroke-width="0.15" textLength="15.0" lengthAdjust="spacingAndGlyphs">10</text>
<text x="584.2" y="54.7" font-size="12.5" fill="#000" stroke="#000" stroke-width="0.15" textLength="15.0" lengthAdjust="spacingAndGlyphs">16</text>
<text x="622.6" y="54.7" font-size="12.5" fill="#000" stroke="#000" stroke-width="0.15" textLength="15.0" lengthAdjust="spacingAndGlyphs">22</text>
<text x="661.0" y="54.7" font-size="12.5" fill="#000" stroke="#000" stroke-width="0.15" textLength="15.0" lengthAdjust="spacingAndGlyphs">04</text>
<text x="699.4" y="54.7" font-size="12.5" fill="#000" stroke="#000" stroke-width="0.15" textLength="15.0" lengthAdjust="spacingAndGlyphs">10</text>
<text x="737.8" y="54.7" font-size="12.5" fill="#000" stroke="#000" stroke-width="0.15" textLength="15.0" lengthAdjust="spacingAndGlyphs">16</text>
<text x="776.2" y="54.7" font-size="12.5" fill="#000" stroke="#000" stroke-width="0.15" textLength="15.0" lengthAdjust="spacingAndGlyphs">22</text>
<text x="814.6" y="54.7" font-size="12.5" fill="#000" stroke="#000" stroke-width="0.15" textLength="15.0" lengthAdjust="spacingAndGlyphs">04</text>
<text x="353.7" y="616.6" font-size="12.5" fill="#000" stroke="#000" stroke-width="0.15" textLength="15.2" lengthAdjust="spacingAndGlyphs">03</text>
<text x="392.1" y="616.6" font-size="12.5" fill="#000" stroke="#000" stroke-width="0.15" textLength="15.2" lengthAdjust="spacingAndGlyphs">09</text>
<text x="430.5" y="616.6" font-size="12.5" fill="#000" stroke="#000" stroke-width="0.15" textLength="15.2" lengthAdjust="spacingAndGlyphs">15</text>
<text x="468.9" y="616.6" font-size="12.5" fill="#000" stroke="#000" stroke-width="0.15" textLength="15.2" lengthAdjust="spacingAndGlyphs">21</text>
<text x="507.3" y="616.6" font-size="12.5" fill="#000" stroke="#000" stroke-width="0.15" textLength="15.2" lengthAdjust="spacingAndGlyphs">03</text>
<text x="545.7" y="616.6" font-size="12.5" fill="#000" stroke="#000" stroke-width="0.15" textLength="15.2" lengthAdjust="spacingAndGlyphs">09</text>
<text x="584.1" y="616.6" font-size="12.5" fill="#000" stroke="#000" stroke-width="0.15" textLength="15.2" lengthAdjust="spacingAndGlyphs">15</text>
<text x="622.5" y="616.6" font-size="12.5" fill="#000" stroke="#000" stroke-width="0.15" textLength="15.2" lengthAdjust="spacingAndGlyphs">21</text>
<text x="660.9" y="616.6" font-size="12.5" fill="#000" stroke="#000" stroke-width="0.15" textLength="15.2" lengthAdjust="spacingAndGlyphs">03</text>
<text x="699.3" y="616.6" font-size="12.5" fill="#000" stroke="#000" stroke-width="0.15" textLength="15.2" lengthAdjust="spacingAndGlyphs">09</text>
<text x="737.7" y="616.6" font-size="12.5" fill="#000" stroke="#000" stroke-width="0.15" textLength="15.2" lengthAdjust="spacingAndGlyphs">15</text>
<text x="776.1" y="616.6" font-size="12.5" fill="#000" stroke="#000" stroke-width="0.15" textLength="15.2" lengthAdjust="spacingAndGlyphs">21</text>
<text x="814.5" y="616.6" font-size="12.5" fill="#000" stroke="#000" stroke-width="0.15" textLength="15.2" lengthAdjust="spacingAndGlyphs">03</text>
<text x="401.7" y="629.4" font-size="12.5" fill="#000" stroke="#000" stroke-width="0.15" textLength="33.0" lengthAdjust="spacingAndGlyphs">16.12</text>
<text x="557.1" y="629.4" font-size="12.5" fill="#000" stroke="#000" stroke-width="0.15" textLength="31.9" lengthAdjust="spacingAndGlyphs">17.12</text>
<text x="709.1" y="629.4" font-size="12.5" fill="#000" stroke="#000" stroke-width="0.15" textLength="32.7" lengthAdjust="spacingAndGlyphs">18.12</text>
<text x="306.2" y="615.6" font-size="12.5" fill="#000" stroke="#000" stroke-width="0.15" textLength="24.2" lengthAdjust="spacingAndGlyphs">UTC</text>
<text x="859.1" y="615.8" font-size="12.5" fill="#000" stroke="#000" stroke-width="0.15" textLength="24.3" lengthAdjust="spacingAndGlyphs">UTC</text>
<text x="309.1" y="652.8" font-size="12.8" fill="#000099" stroke="#000099" stroke-width="0.15" textLength="108.7" lengthAdjust="spacingAndGlyphs">meteo@icm.edu.pl</text>
<text x="622.6" y="652.4" font-size="12.8" fill="#000099" stroke="#000099" stroke-width="0.15" textLength="253.1" lengthAdjust="spacingAndGlyphs">© 2007-2025 ICM, Uniwersytet Warszawski</text>
<text transform="translate(291.3,96.7) rotate(-90)" font-size="11.5" fill="#000099" stroke="#000099" stroke-width="0.15" text-anchor="middle" textLength="67.0" lengthAdjust="spacingAndGlyphs">temperatura</text>
<text transform="translate(305.3,97.0) rotate(-90)" font-size="11.5" fill="#000099" stroke="#000099" stroke-width="0.15" text-anchor="middle" textLength="21.5" lengthAdjust="spacingAndGlyphs">(°C)</text>
<text transform="translate(293.2,185.0) rotate(-90)" font-size="11.5" fill="#000099" stroke="#000099" stroke-width="0.15" text-anchor="middle" textLength="28.0" lengthAdjust="spacingAndGlyphs">opad</text>
<text transform="translate(305.8,185.0) rotate(-90)" font-size="11.5" fill="#000099" stroke="#000099" stroke-width="0.15" text-anchor="middle" textLength="86.4" lengthAdjust="spacingAndGlyphs">(mm/h, kg/m²/h)</text>
<text transform="translate(293.5,272.5) rotate(-90)" font-size="11.5" fill="#000099" stroke="#000099" stroke-width="0.15" text-anchor="middle" textLength="49.3" lengthAdjust="spacingAndGlyphs">ciśnienie</text>
<text transform="translate(305.3,272.5) rotate(-90)" font-size="11.5" fill="#000099" stroke="#000099" stroke-width="0.15" text-anchor="middle" textLength="28.7" lengthAdjust="spacingAndGlyphs">(hPa)</text>
<text transform="translate(294.1,360.9) rotate(-90)" font-size="11.5" fill="#000099" stroke="#000099" stroke-width="0.15" text-anchor="middle" textLength="27.0" lengthAdjust="spacingAndGlyphs">wiatr</text>
<text transform="translate(305.3,361.0) rotate(-90)" font-size="11.5" fill="#000099" stroke="#000099" stroke-width="0.15" text-anchor="middle" textLength="28.0" lengthAdjust="spacingAndGlyphs">(m/s)</text>
<text transform="translate(292.5,473.0) rotate(-90)" font-size="11.5" fill="#000099" stroke="#000099" stroke-width="0.15" text-anchor="middle" textLength="106.8" lengthAdjust="spacingAndGlyphs">pion. rozciągł. chm.</text>
<text transform="translate(305.5,473.8) rotate(-90)" font-size="11.5" fill="#000099" stroke="#000099" stroke-width="0.15" text-anchor="middle" textLength="23.6" lengthAdjust="spacingAndGlyphs">(km)</text>
<text transform="translate(294.7,572.2) rotate(-90)" font-size="11.5" fill="#000099" stroke="#000099" stroke-width="0.15" text-anchor="middle" textLength="75.2" lengthAdjust="spacingAndGlyphs">zachmurzenie</text>
<text transform="translate(305.5,562.5) rotate(-90)" font-size="11.5" fill="#000099" stroke="#000099" stroke-width="0.15" text-anchor="middle" textLength="46.3" lengthAdjust="spacingAndGlyphs">(oktanty)</text>
<text transform="translate(892.8,96.7) rotate(-90)" font-size="11.5" fill="#000099" stroke="#000099" stroke-width="0.15" text-anchor="middle" textLength="21.5" lengthAdjust="spacingAndGlyphs">(°C)</text>
<text transform="translate(904.4,96.7) rotate(-90)" font-size="11.5" fill="#000099" stroke="#000099" stroke-width="0.15" text-anchor="middle" textLength="67.5" lengthAdjust="spacingAndGlyphs">temperatura</text>
<text transform="translate(891.0,185.5) rotate(-90)" font-size="11.5" fill="#000099" stroke="#000099" stroke-width="0.15" text-anchor="middle" textLength="17.1" lengthAdjust="spacingAndGlyphs">(%)</text>
<text transform="translate(904.5,184.8) rotate(-90)" font-size="11.5" fill="#000099" stroke="#000099" stroke-width="0.15" text-anchor="middle" textLength="89.3" lengthAdjust="spacingAndGlyphs">wilgotność wzgl.</text>
<text transform="translate(892.7,272.7) rotate(-90)" font-size="11.5" fill="#000099" stroke="#000099" stroke-width="0.15" text-anchor="middle" textLength="47.2" lengthAdjust="spacingAndGlyphs">(mm Hg)</text>
<text transform="translate(907.0,272.8) rotate(-90)" font-size="11.5" fill="#000099" stroke="#000099" stroke-width="0.15" text-anchor="middle" textLength="49.8" lengthAdjust="spacingAndGlyphs">ciśnienie</text>
<text transform="translate(891.0,361.5) rotate(-90)" font-size="11.5" fill="#000099" stroke="#000099" stroke-width="0.15" text-anchor="middle" textLength="33.8" lengthAdjust="spacingAndGlyphs">(km/h)</text>
<text transform="translate(906.6,361.2) rotate(-90)" font-size="11.5" fill="#000099" stroke="#000099" stroke-width="0.15" text-anchor="middle" textLength="26.4" lengthAdjust="spacingAndGlyphs">wiatr</text>
<text transform="translate(892.2,474.3) rotate(-90)" font-size="11.5" fill="#000099" stroke="#000099" stroke-width="0.15" text-anchor="middle" textLength="23.5" lengthAdjust="spacingAndGlyphs">(km)</text>
<text transform="translate(906.7,475.0) rotate(-90)" font-size="11.5" fill="#000099" stroke="#000099" stroke-width="0.15" text-anchor="middle" textLength="64.4" lengthAdjust="spacingAndGlyphs">widzialność</text>
<text transform="translate(892.7,562.9) rotate(-90)" font-size="11.5" fill="#000099" stroke="#000099" stroke-width="0.15" text-anchor="middle" textLength="43.1" lengthAdjust="spacingAndGlyphs">(frakcja)</text>
<text transform="translate(904.8,559.9) rotate(-90)" font-size="11.5" fill="#000099" stroke="#000099" stroke-width="0.15" text-anchor="middle" textLength="22.1" lengthAdjust="spacingAndGlyphs">mgła</text>
<text x="294.1" y="411.4" font-size="11" fill="#000099" stroke="#000099" stroke-width="0.15" textLength="8.0" lengthAdjust="spacingAndGlyphs">N</text>
<text x="283.3" y="419.3" font-size="11" fill="#000099" stroke="#000099" stroke-width="0.15" textLength="12.2" lengthAdjust="spacingAndGlyphs">W</text>
<text x="300.4" y="419.3" font-size="11" fill="#000099" stroke="#000099" stroke-width="0.15" textLength="8.0" lengthAdjust="spacingAndGlyphs">E</text>
<text x="293.7" y="427.2" font-size="11" fill="#000099" stroke="#000099" stroke-width="0.15" textLength="7.8" lengthAdjust="spacingAndGlyphs">S</text>
<text x="893.0" y="411.4" font-size="11" fill="#000099" stroke="#000099" stroke-width="0.15" textLength="8.0" lengthAdjust="spacingAndGlyphs">N</text>
<text x="882.4" y="419.3" font-size="11" fill="#000099" stroke="#000099" stroke-width="0.15" textLength="12.2" lengthAdjust="spacingAndGlyphs">W</text>
<text x="899.4" y="419.3" font-size="11" fill="#000099" stroke="#000099" stroke-width="0.15" textLength="8.0" lengthAdjust="spacingAndGlyphs">E</text>
<text x="892.6" y="427.2" font-size="11" fill="#000099" stroke="#000099" stroke-width="0.15" textLength="7.8" lengthAdjust="spacingAndGlyphs">S</text>
<text x="344.3" y="96.4" font-size="11.2" fill="#000" stroke="#000" stroke-width="0.15" text-anchor="end" textLength="5.9" lengthAdjust="spacingAndGlyphs">0</text>
<text x="344.3" y="130.5" font-size="11.2" fill="#000" stroke="#000" stroke-width="0.15" text-anchor="end" textLength="9.4" lengthAdjust="spacingAndGlyphs">-5</text>
<text x="344.3" y="151.1" font-size="11.2" fill="#000" stroke="#000" stroke-width="0.15" text-anchor="end" textLength="5.9" lengthAdjust="spacingAndGlyphs">5</text>
<text x="344.3" y="166.1" font-size="11.2" fill="#000" stroke="#000" stroke-width="0.15" text-anchor="end" textLength="5.9" lengthAdjust="spacingAndGlyphs">4</text>
<text x="344.3" y="181.1" font-size="11.2" fill="#000" stroke="#000" stroke-width="0.15" text-anchor="end" textLength="5.9" lengthAdjust="spacingAndGlyphs">3</text>
<text x="344.3" y="196.1" font-size="11.2" fill="#000" stroke="#000" stroke-width="0.15" text-anchor="end" textLength="5.9" lengthAdjust="spacingAndGlyphs">2</text>
<text x="344.3" y="211.1" font-size="11.2" fill="#000" stroke="#000" stroke-width="0.15" text-anchor="end" textLength="5.9" lengthAdjust="spacingAndGlyphs">1</text>
<text x="344.3" y="226.1" font-size="11.2" fill="#000" stroke="#000" stroke-width="0.15" text-anchor="end" textLength="5.9" lengthAdjust="spacingAndGlyphs">0</text>
<text x="344.8" y="247.7" font-size="11.2" fill="#000" stroke="#000" stroke-width="0.15" text-anchor="end" textLength="23.4" lengthAdjust="spacingAndGlyphs">1025</text>
<text x="344.8" y="268.3" font-size="11.2" fill="#000" stroke="#000" stroke-width="0.15" text-anchor="end" textLength="23.4" lengthAdjust="spacingAndGlyphs">1020</text>
<text x="344.8" y="288.2" font-size="11.2" fill="#000" stroke="#000" stroke-width="0.15" text-anchor="end" textLength="23.4" lengthAdjust="spacingAndGlyphs">1015</text>
<text x="344.8" y="308.4" font-size="11.2" fill="#000" stroke="#000" stroke-width="0.15" text-anchor="end" textLength="23.4" lengthAdjust="spacingAndGlyphs">1010</text>
<text x="344.3" y="322.9" font-size="11.2" fill="#000" stroke="#000" stroke-width="0.15" text-anchor="end" textLength="11.7" lengthAdjust="spacingAndGlyphs">10</text>
<text x="344.3" y="338.1" font-size="11.2" fill="#000" stroke="#000" stroke-width="0.15" text-anchor="end" textLength="5.9" lengthAdjust="spacingAndGlyphs">8</text>
<text x="344.3" y="353.3" font-size="11.2" fill="#000" stroke="#000" stroke-width="0.15" text-anchor="end" textLength="5.9" lengthAdjust="spacingAndGlyphs">6</text>
<text x="344.3" y="368.5" font-size="11.2" fill="#000" stroke="#000" stroke-width="0.15" text-anchor="end" textLength="5.9" lengthAdjust="spacingAndGlyphs">4</text>
<text x="344.3" y="383.7" font-size="11.2" fill="#000" stroke="#000" stroke-width="0.15" text-anchor="end" textLength="5.9" lengthAdjust="spacingAndGlyphs">2</text>
<text x="344.3" y="398.9" font-size="11.2" fill="#000" stroke="#000" stroke-width="0.15" text-anchor="end" textLength="5.9" lengthAdjust="spacingAndGlyphs">0</text>
<text x="344.8" y="442.5" font-size="11.2" fill="#000" stroke="#000" stroke-width="0.15" text-anchor="end" textLength="20.5" lengthAdjust="spacingAndGlyphs">15.0</text>
<text x="344.8" y="462.2" font-size="11.2" fill="#000" stroke="#000" stroke-width="0.15" text-anchor="end" textLength="14.6" lengthAdjust="spacingAndGlyphs">7.0</text>
<text x="344.8" y="481.3" font-size="11.2" fill="#000" stroke="#000" stroke-width="0.15" text-anchor="end" textLength="14.6" lengthAdjust="spacingAndGlyphs">2.0</text>
<text x="344.8" y="501.0" font-size="11.2" fill="#000" stroke="#000" stroke-width="0.15" text-anchor="end" textLength="14.6" lengthAdjust="spacingAndGlyphs">0.5</text>
<text x="344.8" y="520.7" font-size="11.2" fill="#000" stroke="#000" stroke-width="0.15" text-anchor="end" textLength="14.6" lengthAdjust="spacingAndGlyphs">0.0</text>
<text x="344.3" y="530.0" font-size="11.2" fill="#000" stroke="#000" stroke-width="0.15" text-anchor="end" textLength="5.9" lengthAdjust="spacingAndGlyphs">8</text>
<text x="344.3" y="549.7" font-size="11.2" fill="#000" stroke="#000" stroke-width="0.15" text-anchor="end" textLength="5.9" lengthAdjust="spacingAndGlyphs">6</text>
<text x="344.3" y="568.9" font-size="11.2" fill="#000" stroke="#000" stroke-width="0.15" text-anchor="end" textLength="5.9" lengthAdjust="spacingAndGlyphs">4</text>
<text x="344.3" y="588.3" font-size="11.2" fill="#000" stroke="#000" stroke-width="0.15" text-anchor="end" textLength="5.9" lengthAdjust="spacingAndGlyphs">2</text>
<text x="344.3" y="607.2" font-size="11.2" fill="#000" stroke="#000" stroke-width="0.15" text-anchor="end" textLength="5.9" lengthAdjust="spacingAndGlyphs">0</text>
<text x="857.3" y="96.5" font-size="11.2" fill="#000" stroke="#000" stroke-width="0.15" text-anchor="end" textLength="5.9" lengthAdjust="spacingAndGlyphs">0</text>
<text x="857.3" y="130.4" font-size="11.2" fill="#000" stroke="#000" stroke-width="0.15" text-anchor="end" textLength="9.4" lengthAdjust="spacingAndGlyphs">-5</text>
<text x="862.7" y="151.5" font-size="11.2" fill="#e8561e" stroke="#e8561e" stroke-width="0.15" text-anchor="end" textLength="17.6" lengthAdjust="spacingAndGlyphs">100</text>
<text x="862.7" y="166.5" font-size="11.2" fill="#e8561e" stroke="#e8561e" stroke-width="0.15" text-anchor="end" textLength="11.7" lengthAdjust="spacingAndGlyphs">95</text>
<text x="862.7" y="181.5" font-size="11.2" fill="#e8561e" stroke="#e8561e" stroke-width="0.15" text-anchor="end" textLength="11.7" lengthAdjust="spacingAndGlyphs">90</text>
<text x="862.7" y="196.5" font-size="11.2" fill="#e8561e" stroke="#e8561e" stroke-width="0.15" text-anchor="end" textLength="11.7" lengthAdjust="spacingAndGlyphs">85</text>
<text x="862.7" y="211.5" font-size="11.2" fill="#e8561e" stroke="#e8561e" stroke-width="0.15" text-anchor="end" textLength="11.7" lengthAdjust="spacingAndGlyphs">80</text>
<text x="862.7" y="226.5" font-size="11.2" fill="#e8561e" stroke="#e8561e" stroke-width="0.15" text-anchor="end" textLength="11.7" lengthAdjust="spacingAndGlyphs">75</text>
<text x="843.5" y="247.5" font-size="11.2" fill="#000" stroke="#000" stroke-width="0.15" textLength="17.6" lengthAdjust="spacingAndGlyphs">769</text>
<text x="843.5" y="268.0" font-size="11.2" fill="#000" stroke="#000" stroke-width="0.15" textLength="17.6" lengthAdjust="spacingAndGlyphs">765</text>
<text x="843.5" y="288.4" font-size="11.2" fill="#000" stroke="#000" stroke-width="0.15" textLength="17.6" lengthAdjust="spacingAndGlyphs">761</text>
<text x="843.5" y="308.9" font-size="11.2" fill="#000" stroke="#000" stroke-width="0.15" textLength="17.6" lengthAdjust="spacingAndGlyphs">758</text>
<text x="856.5" y="322.9" font-size="11.2" fill="#000" stroke="#000" stroke-width="0.15" text-anchor="end" textLength="11.7" lengthAdjust="spacingAndGlyphs">36</text>
<text x="856.5" y="338.1" font-size="11.2" fill="#000" stroke="#000" stroke-width="0.15" text-anchor="end" textLength="11.7" lengthAdjust="spacingAndGlyphs">29</text>
<text x="856.5" y="353.3" font-size="11.2" fill="#000" stroke="#000" stroke-width="0.15" text-anchor="end" textLength="11.7" lengthAdjust="spacingAndGlyphs">22</text>
<text x="856.5" y="368.5" font-size="11.2" fill="#000" stroke="#000" stroke-width="0.15" text-anchor="end" textLength="11.7" lengthAdjust="spacingAndGlyphs">14</text>
<text x="856.5" y="383.7" font-size="11.2" fill="#000" stroke="#000" stroke-width="0.15" text-anchor="end" textLength="5.9" lengthAdjust="spacingAndGlyphs">7</text>
<text x="856.5" y="398.9" font-size="11.2" fill="#000" stroke="#000" stroke-width="0.15" text-anchor="end" textLength="5.9" lengthAdjust="spacingAndGlyphs">0</text>
<text x="844.0" y="442.4" font-size="11.2" fill="#ff8c00" stroke="#ff8c00" stroke-width="0.15" textLength="17.6" lengthAdjust="spacingAndGlyphs">100</text>
<text x="844.0" y="462.1" font-size="11.2" fill="#ff8c00" stroke="#ff8c00" stroke-width="0.15" textLength="11.7" lengthAdjust="spacingAndGlyphs">20</text>
<text x="844.0" y="481.7" font-size="11.2" fill="#ff8c00" stroke="#ff8c00" stroke-width="0.15" textLength="5.9" lengthAdjust="spacingAndGlyphs">5</text>
<text x="844.0" y="500.9" font-size="11.2" fill="#ff8c00" stroke="#ff8c00" stroke-width="0.15" textLength="5.9" lengthAdjust="spacingAndGlyphs">1</text>
<text x="844.0" y="520.2" font-size="11.2" fill="#ff8c00" stroke="#ff8c00" stroke-width="0.15" textLength="5.9" lengthAdjust="spacingAndGlyphs">0</text>
<text x="844.0" y="530.2" font-size="11.2" fill="#ff8c00" stroke="#ff8c00" stroke-width="0.15" textLength="5.9" lengthAdjust="spacingAndGlyphs">1</text>
<text x="844.0" y="549.3" font-size="11.2" fill="#ff8c00" stroke="#ff8c00" stroke-width="0.15" textLength="20.5" lengthAdjust="spacingAndGlyphs">0.75</text>
<text x="844.0" y="568.1" font-size="11.2" fill="#ff8c00" stroke="#ff8c00" stroke-width="0.15" textLength="14.6" lengthAdjust="spacingAndGlyphs">0.5</text>
<text x="844.0" y="587.8" font-size="11.2" fill="#ff8c00" stroke="#ff8c00" stroke-width="0.15" textLength="20.5" lengthAdjust="spacingAndGlyphs">0.25</text>
<text x="844.0" y="607.5" font-size="11.2" fill="#ff8c00" stroke="#ff8c00" stroke-width="0.15" textLength="5.9" lengthAdjust="spacingAndGlyphs">0</text>
<text x="128.3" y="63.0" font-size="11.2" fill="#000" stroke="#000" stroke-width="0.15" text-anchor="end" textLength="11.7" lengthAdjust="spacingAndGlyphs">30</text>
<text x="128.3" y="80.5" font-size="11.2" fill="#000" stroke="#000" stroke-width="0.15" text-anchor="end" textLength="11.7" lengthAdjust="spacingAndGlyphs">20</text>
<text x="128.3" y="98.1" font-size="11.2" fill="#000" stroke="#000" stroke-width="0.15" text-anchor="end" textLength="11.7" lengthAdjust="spacingAndGlyphs">10</text>
<text x="128.3" y="115.3" font-size="11.2" fill="#000" stroke="#000" stroke-width="0.15" text-anchor="end" textLength="5.9" lengthAdjust="spacingAndGlyphs">0</text>
<text x="128.3" y="132.6" font-size="11.2" fill="#000" stroke="#000" stroke-width="0.15" text-anchor="end" textLength="15.2" lengthAdjust="spacingAndGlyphs">-10</text>
<text x="128.3" y="154.7" font-size="11.2" fill="#000" stroke="#000" stroke-width="0.15" text-anchor="end" textLength="14.6" lengthAdjust="spacingAndGlyphs">2.0</text>
<text x="128.3" y="171.9" font-size="11.2" fill="#000" stroke="#000" stroke-width="0.15" text-anchor="end" textLength="14.6" lengthAdjust="spacingAndGlyphs">1.5</text>
<text x="128.3" y="188.7" font-size="11.2" fill="#000" stroke="#000" stroke-width="0.15" text-anchor="end" textLength="14.6" lengthAdjust="spacingAndGlyphs">1.0</text>
<text x="128.3" y="206.9" font-size="11.2" fill="#000" stroke="#000" stroke-width="0.15" text-anchor="end" textLength="14.6" lengthAdjust="spacingAndGlyphs">0.5</text>
<text x="128.3" y="223.7" font-size="11.2" fill="#000" stroke="#000" stroke-width="0.15" text-anchor="end" textLength="14.6" lengthAdjust="spacingAndGlyphs">0.0</text>
<text x="128.3" y="235.0" font-size="11.2" fill="#000" stroke="#000" stroke-width="0.15" text-anchor="end" textLength="23.4" lengthAdjust="spacingAndGlyphs">1018</text>
<text x="128.3" y="258.1" font-size="11.2" fill="#000" stroke="#000" stroke-width="0.15" text-anchor="end" textLength="23.4" lengthAdjust="spacingAndGlyphs">1016</text>
<text x="128.3" y="282.2" font-size="11.2" fill="#000" stroke="#000" stroke-width="0.15" text-anchor="end" textLength="23.4" lengthAdjust="spacingAndGlyphs">1014</text>
<text x="128.3" y="305.3" font-size="11.2" fill="#000" stroke="#000" stroke-width="0.15" text-anchor="end" textLength="23.4" lengthAdjust="spacingAndGlyphs">1012</text>
<text x="128.3" y="319.5" font-size="11.2" fill="#000" stroke="#000" stroke-width="0.15" text-anchor="end" textLength="11.7" lengthAdjust="spacingAndGlyphs">20</text>
<text x="128.3" y="338.7" font-size="11.2" fill="#000" stroke="#000" stroke-width="0.15" text-anchor="end" textLength="11.7" lengthAdjust="spacingAndGlyphs">15</text>
<text x="128.3" y="357.7" font-size="11.2" fill="#000" stroke="#000" stroke-width="0.15" text-anchor="end" textLength="11.7" lengthAdjust="spacingAndGlyphs">10</text>
<text x="128.3" y="376.7" font-size="11.2" fill="#000" stroke="#000" stroke-width="0.15" text-anchor="end" textLength="5.9" lengthAdjust="spacingAndGlyphs">5</text>
<text x="128.3" y="395.7" font-size="11.2" fill="#000" stroke="#000" stroke-width="0.15" text-anchor="end" textLength="5.9" lengthAdjust="spacingAndGlyphs">0</text>
<text x="128.3" y="440.2" font-size="11.2" fill="#000" stroke="#000" stroke-width="0.15" text-anchor="end" textLength="20.5" lengthAdjust="spacingAndGlyphs">15.0</text>
<text x="128.3" y="459.9" font-size="11.2" fill="#000" stroke="#000" stroke-width="0.15" text-anchor="end" textLength="14.6" lengthAdjust="spacingAndGlyphs">7.0</text>
<text x="128.3" y="479.2" font-size="11.2" fill="#000" stroke="#000" stroke-width="0.15" text-anchor="end" textLength="14.6" lengthAdjust="spacingAndGlyphs">2.0</text>
<text x="128.3" y="498.4" font-size="11.2" fill="#000" stroke="#000" stroke-width="0.15" text-anchor="end" textLength="14.6" lengthAdjust="spacingAndGlyphs">0.5</text>
<text x="128.3" y="518.0" font-size="11.2" fill="#000" stroke="#000" stroke-width="0.15" text-anchor="end" textLength="14.6" lengthAdjust="spacingAndGlyphs">0.0</text>
<text x="128.3" y="526.9" font-size="11.2" fill="#000" stroke="#000" stroke-width="0.15" text-anchor="end" textLength="5.9" lengthAdjust="spacingAndGlyphs">8</text>
<text x="128.3" y="546.9" font-size="11.2" fill="#000" stroke="#000" stroke-width="0.15" text-anchor="end" textLength="5.9" lengthAdjust="spacingAndGlyphs">6</text>
<text x="128.3" y="566.0" font-size="11.2" fill="#000" stroke="#000" stroke-width="0.15" text-anchor="end" textLength="5.9" lengthAdjust="spacingAndGlyphs">4</text>
<text x="128.3" y="585.4" font-size="11.2" fill="#000" stroke="#000" stroke-width="0.15" text-anchor="end" textLength="5.9" lengthAdjust="spacingAndGlyphs">2</text>
<text x="128.3" y="604.9" font-size="11.2" fill="#000" stroke="#000" stroke-width="0.15" text-anchor="end" textLength="5.9" lengthAdjust="spacingAndGlyphs">0</text>
<text x="266.3" y="63.0" font-size="11.2" fill="#000" stroke="#000" stroke-width="0.15" text-anchor="end" textLength="11.7" lengthAdjust="spacingAndGlyphs">30</text>
<text x="266.3" y="80.7" font-size="11.2" fill="#000" stroke="#000" stroke-width="0.15" text-anchor="end" textLength="11.7" lengthAdjust="spacingAndGlyphs">20</text>
<text x="266.3" y="97.6" font-size="11.2" fill="#000" stroke="#000" stroke-width="0.15" text-anchor="end" textLength="11.7" lengthAdjust="spacingAndGlyphs">10</text>
<text x="266.3" y="114.7" font-size="11.2" fill="#000" stroke="#000" stroke-width="0.15" text-anchor="end" textLength="5.9" lengthAdjust="spacingAndGlyphs">0</text>
<text x="266.3" y="132.5" font-size="11.2" fill="#000" stroke="#000" stroke-width="0.15" text-anchor="end" textLength="15.2" lengthAdjust="spacingAndGlyphs">-10</text>
<text x="253.7" y="154.3" font-size="11.2" fill="#e8561e" stroke="#e8561e" stroke-width="0.15" textLength="11.7" lengthAdjust="spacingAndGlyphs">96</text>
<text x="253.7" y="172.1" font-size="11.2" fill="#e8561e" stroke="#e8561e" stroke-width="0.15" textLength="11.7" lengthAdjust="spacingAndGlyphs">84</text>
<text x="253.7" y="189.7" font-size="11.2" fill="#e8561e" stroke="#e8561e" stroke-width="0.15" textLength="11.7" lengthAdjust="spacingAndGlyphs">73</text>
<text x="253.7" y="207.5" font-size="11.2" fill="#e8561e" stroke="#e8561e" stroke-width="0.15" textLength="11.7" lengthAdjust="spacingAndGlyphs">61</text>
<text x="253.7" y="224.7" font-size="11.2" fill="#e8561e" stroke="#e8561e" stroke-width="0.15" textLength="11.7" lengthAdjust="spacingAndGlyphs">50</text>
<text x="250.4" y="235.2" font-size="11.2" fill="#000" stroke="#000" stroke-width="0.15" textLength="23.4" lengthAdjust="spacingAndGlyphs">1018</text>
<text x="250.4" y="257.9" font-size="11.2" fill="#000" stroke="#000" stroke-width="0.15" textLength="23.4" lengthAdjust="spacingAndGlyphs">1016</text>
<text x="250.4" y="281.6" font-size="11.2" fill="#000" stroke="#000" stroke-width="0.15" textLength="23.4" lengthAdjust="spacingAndGlyphs">1014</text>
<text x="250.4" y="304.7" font-size="11.2" fill="#000" stroke="#000" stroke-width="0.15" textLength="23.4" lengthAdjust="spacingAndGlyphs">1012</text>
<text x="250.4" y="319.7" font-size="11.2" fill="#000" stroke="#000" stroke-width="0.15" textLength="11.7" lengthAdjust="spacingAndGlyphs">72</text>
<text x="250.4" y="338.9" font-size="11.2" fill="#000" stroke="#000" stroke-width="0.15" textLength="11.7" lengthAdjust="spacingAndGlyphs">54</text>
<text x="250.4" y="358.0" font-size="11.2" fill="#000" stroke="#000" stroke-width="0.15" textLength="11.7" lengthAdjust="spacingAndGlyphs">36</text>
<text x="250.4" y="377.1" font-size="11.2" fill="#000" stroke="#000" stroke-width="0.15" textLength="11.7" lengthAdjust="spacingAndGlyphs">18</text>
<text x="253.7" y="394.7" font-size="11.2" fill="#000" stroke="#000" stroke-width="0.15" textLength="5.9" lengthAdjust="spacingAndGlyphs">0</text>
<text x="251.0" y="440.2" font-size="11.2" fill="#ff8c00" stroke="#ff8c00" stroke-width="0.15" textLength="17.6" lengthAdjust="spacingAndGlyphs">100</text>
<text x="251.0" y="459.7" font-size="11.2" fill="#ff8c00" stroke="#ff8c00" stroke-width="0.15" textLength="11.7" lengthAdjust="spacingAndGlyphs">20</text>
<text x="251.0" y="478.7" font-size="11.2" fill="#ff8c00" stroke="#ff8c00" stroke-width="0.15" textLength="5.9" lengthAdjust="spacingAndGlyphs">5</text>
<text x="251.0" y="498.4" font-size="11.2" fill="#ff8c00" stroke="#ff8c00" stroke-width="0.15" textLength="5.9" lengthAdjust="spacingAndGlyphs">1</text>
<text x="251.0" y="517.2" font-size="11.2" fill="#ff8c00" stroke="#ff8c00" stroke-width="0.15" textLength="5.9" lengthAdjust="spacingAndGlyphs">0</text>
<text x="251.0" y="526.3" font-size="11.2" fill="#ff8c00" stroke="#ff8c00" stroke-width="0.15" textLength="5.9" lengthAdjust="spacingAndGlyphs">1</text>
<text x="251.0" y="545.4" font-size="11.2" fill="#ff8c00" stroke="#ff8c00" stroke-width="0.15" textLength="20.5" lengthAdjust="spacingAndGlyphs">0.75</text>
<text x="251.0" y="565.1" font-size="11.2" fill="#ff8c00" stroke="#ff8c00" stroke-width="0.15" textLength="14.6" lengthAdjust="spacingAndGlyphs">0.5</text>
<text x="251.0" y="584.7" font-size="11.2" fill="#ff8c00" stroke="#ff8c00" stroke-width="0.15" textLength="20.5" lengthAdjust="spacingAndGlyphs">0.25</text>
<text x="251.0" y="603.9" font-size="11.2" fill="#ff8c00" stroke="#ff8c00" stroke-width="0.15" textLength="5.9" lengthAdjust="spacingAndGlyphs">0</text>
<text x="156.8" y="51.7" font-size="12" fill="#000" stroke="#000" stroke-width="0.15" textLength="13.6" lengthAdjust="spacingAndGlyphs">20</text>
<text x="196.8" y="51.7" font-size="12" fill="#000" stroke="#000" stroke-width="0.15" textLength="13.6" lengthAdjust="spacingAndGlyphs">02</text>
<text x="237.4" y="51.7" font-size="12" fill="#000" stroke="#000" stroke-width="0.15" textLength="13.6" lengthAdjust="spacingAndGlyphs">08</text>
<text x="156.9" y="614.6" font-size="12" fill="#000" stroke="#000" stroke-width="0.15" textLength="14.2" lengthAdjust="spacingAndGlyphs">18</text>
<text x="197.1" y="614.6" font-size="12" fill="#000" stroke="#000" stroke-width="0.15" textLength="14.2" lengthAdjust="spacingAndGlyphs">00</text>
<text x="237.9" y="614.6" font-size="12" fill="#000" stroke="#000" stroke-width="0.15" textLength="14.2" lengthAdjust="spacingAndGlyphs">06</text>
<rect x="11" y="505" width="44" height="11.5" fill="#87cefa"/>
<rect x="10" y="551.2" width="40.8" height="11.5" fill="#87cefa"/>
<text x="5.6" y="17.7" font-size="11" fill="#000" stroke="#000" stroke-width="0.15" textLength="59.8" lengthAdjust="spacingAndGlyphs">Czas lokalny</text>
<text x="5.2" y="29.2" font-size="11" fill="#000" stroke="#000" stroke-width="0.15" textLength="55.5" lengthAdjust="spacingAndGlyphs">(CET/CEST)</text>
<text x="5.6" y="45.7" font-size="11" fill="#b22222" stroke="#b22222" stroke-width="0.15" textLength="94.0" lengthAdjust="spacingAndGlyphs">Temperatura gruntu</text>
<text x="27.1" y="55.4" font-size="11" fill="#b22222" stroke="#b22222" stroke-width="0.15" textLength="39.5" lengthAdjust="spacingAndGlyphs">max/min</text>
<text x="4.8" y="67.2" font-size="11" fill="#000" stroke="#000" stroke-width="0.15" textLength="63.3" lengthAdjust="spacingAndGlyphs">Temperatura:</text>
<text x="12.0" y="79.7" font-size="11" fill="#ff0000" stroke="#ff0000" stroke-width="0.15" textLength="78.4" lengthAdjust="spacingAndGlyphs">punkt środkowy</text>
<text x="27.1" y="89.5" font-size="11" fill="#ffd0c0" stroke="#ffd0c0" stroke-width="0.15" textLength="39.3" lengthAdjust="spacingAndGlyphs">max/min</text>
<text x="9.4" y="101.5" font-size="11" fill="#0000ff" stroke="#0000ff" stroke-width="0.15" textLength="58.2" lengthAdjust="spacingAndGlyphs">odczuwana</text>
<text x="27.1" y="111.8" font-size="11" fill="#b0dcf8" stroke="#b0dcf8" stroke-width="0.15" textLength="39.3" lengthAdjust="spacingAndGlyphs">max/min</text>
<text x="5.9" y="123.0" font-size="11" fill="#6a5acd" stroke="#6a5acd" stroke-width="0.15" textLength="87.5" lengthAdjust="spacingAndGlyphs">Temp. punktu rosy</text>
<text x="5.6" y="140.8" font-size="11" fill="#ff0000" stroke="#ff0000" stroke-width="0.15" textLength="95.1" lengthAdjust="spacingAndGlyphs">Opad powyżej skali</text>
<text x="5.6" y="154.2" font-size="11" fill="#e0501a" stroke="#e0501a" stroke-width="0.15" textLength="97.6" lengthAdjust="spacingAndGlyphs">Wilgotność względna</text>
<text x="5.6" y="168.5" font-size="11" fill="#000" stroke="#000" stroke-width="0.15" textLength="85.6" lengthAdjust="spacingAndGlyphs">Wystąpienie burzy</text>
<text x="5.6" y="182.2" font-size="11" fill="#00b000" stroke="#00b000" stroke-width="0.15" textLength="63.8" lengthAdjust="spacingAndGlyphs">Deszcz: max</text>
<text x="48.4" y="192.7" font-size="11" fill="#00b000" stroke="#00b000" stroke-width="0.15" textLength="30.0" lengthAdjust="spacingAndGlyphs">średni</text>
<text x="5.2" y="204.9" font-size="11" fill="#2040e0" stroke="#2040e0" stroke-width="0.15" textLength="30.9" lengthAdjust="spacingAndGlyphs">Śnieg:</text>
<text x="48.4" y="204.9" font-size="11" fill="#2040e0" stroke="#2040e0" stroke-width="0.15" textLength="19.7" lengthAdjust="spacingAndGlyphs">max</text>
<text x="48.4" y="214.9" font-size="11" fill="#2040e0" stroke="#2040e0" stroke-width="0.15" textLength="30.0" lengthAdjust="spacingAndGlyphs">średni</text>
<text x="5.2" y="227.4" font-size="11" fill="#ff0000" stroke="#ff0000" stroke-width="0.15" textLength="89.0" lengthAdjust="spacingAndGlyphs">Wystąpienie opadu</text>
<text x="5.2" y="240.0" font-size="11" fill="#ff0000" stroke="#ff0000" stroke-width="0.15" textLength="72.2" lengthAdjust="spacingAndGlyphs">konwekcyjnego</text>
<text x="4.3" y="266.2" font-size="11" fill="#000" stroke="#000" stroke-width="0.15" textLength="43.1" lengthAdjust="spacingAndGlyphs">Ciśnienie</text>
<text x="4.3" y="279.2" font-size="11" fill="#000" stroke="#000" stroke-width="0.15" textLength="67.1" lengthAdjust="spacingAndGlyphs">zredukowane</text>
<text x="4.3" y="292.3" font-size="11" fill="#000" stroke="#000" stroke-width="0.15" textLength="88.1" lengthAdjust="spacingAndGlyphs">do poziomu morza</text>
<text x="4.8" y="321.5" font-size="11" fill="#000" stroke="#000" stroke-width="0.15" textLength="67.1" lengthAdjust="spacingAndGlyphs">Wiatr na 10m:</text>
<text x="9.4" y="338.2" font-size="11" fill="#ff0000" stroke="#ff0000" stroke-width="0.15" textLength="101.5" lengthAdjust="spacingAndGlyphs">poryw powyżej skali</text>
<text x="9.4" y="351.5" font-size="11" fill="#ff0000" stroke="#ff0000" stroke-width="0.15" textLength="95.3" lengthAdjust="spacingAndGlyphs">max porywy wiatru</text>
<text x="9.4" y="371.2" font-size="11" fill="#000099" stroke="#000099" stroke-width="0.15" textLength="79.0" lengthAdjust="spacingAndGlyphs">prędkość wiatru</text>
<text x="9.4" y="384.6" font-size="11" fill="#000099" stroke="#000099" stroke-width="0.15" textLength="89.0" lengthAdjust="spacingAndGlyphs">w środku obszaru</text>
<text x="9.4" y="412.3" font-size="11" fill="#000099" stroke="#000099" stroke-width="0.15" textLength="74.0" lengthAdjust="spacingAndGlyphs">kierunek wiatru</text>
<text x="5.6" y="432.3" font-size="11" fill="#b22222" stroke="#b22222" stroke-width="0.15" textLength="91.4" lengthAdjust="spacingAndGlyphs">Wierzchołek chmur</text>
<text x="5.2" y="447.7" font-size="11" fill="#000" stroke="#000" stroke-width="0.15" textLength="86.0" lengthAdjust="spacingAndGlyphs">Podstawa chmur*</text>
<text x="5.2" y="458.5" font-size="11" fill="#000" stroke="#000" stroke-width="0.15" textLength="48.2" lengthAdjust="spacingAndGlyphs">o pokryciu</text>
<text x="10.2" y="471.5" font-size="11" fill="#000" stroke="#000" stroke-width="0.15" textLength="44.8" lengthAdjust="spacingAndGlyphs">&gt; 7.9 okt.</text>
<text x="10.2" y="482.3" font-size="11" fill="#555" stroke="#555" stroke-width="0.15" textLength="44.8" lengthAdjust="spacingAndGlyphs">&gt; 6.5 okt.</text>
<text x="10.2" y="493.0" font-size="11" fill="#aaa" stroke="#aaa" stroke-width="0.15" textLength="44.8" lengthAdjust="spacingAndGlyphs">&gt; 4.5 okt.</text>
<text x="10.2" y="503.5" font-size="11" fill="#ddd" stroke="#ddd" stroke-width="0.15" textLength="44.8" lengthAdjust="spacingAndGlyphs">&gt; 2.5 okt.</text>
<text x="5.2" y="529.6" font-size="11" fill="#ff8000" stroke="#ff8000" stroke-width="0.15" textLength="58.2" lengthAdjust="spacingAndGlyphs">Widzialność</text>
<text x="5.2" y="546.5" font-size="11" fill="#000" stroke="#000" stroke-width="0.15" textLength="39.8" lengthAdjust="spacingAndGlyphs">Chmury:</text>
<text x="9.4" y="572.7" font-size="11" fill="#999" stroke="#999" stroke-width="0.15" textLength="36.0" lengthAdjust="spacingAndGlyphs">średnie</text>
<text x="9.4" y="584.7" font-size="11" fill="#444" stroke="#444" stroke-width="0.15" textLength="27.0" lengthAdjust="spacingAndGlyphs">niskie</text>
<text x="9.4" y="596.2" font-size="11" fill="#333" stroke="#333" stroke-width="0.15" textLength="62.0" lengthAdjust="spacingAndGlyphs">bardzo niskie</text>
<text x="5.2" y="608.4" font-size="11" fill="#ffb000" stroke="#ffb000" stroke-width="0.15" textLength="21.0" lengthAdjust="spacingAndGlyphs">Mgła</text>
<text x="4.9" y="625.4" font-size="11" fill="#000" stroke="#000" stroke-width="0.15" textLength="132.5" lengthAdjust="spacingAndGlyphs">Czas uniwersalny (UTC)</text>
<text x="11.4" y="514.2" font-size="11" fill="#fff" stroke="#fff" stroke-width="0.15" textLength="43.6" lengthAdjust="spacingAndGlyphs">&gt; 0.1 okt.</text>
<text x="10.4" y="559.6" font-size="11" fill="#fff" stroke="#fff" stroke-width="0.15" textLength="40.0" lengthAdjust="spacingAndGlyphs">wysokie</text>
<text x="4.0" y="651" font-size="9.8" fill="#000" stroke="#000" stroke-width="0.35" textLength="104.5" lengthAdjust="spacingAndGlyphs">* powyżej poziomu morza</text>
<path d="M68.0,16.5 L133.0,16.5 L156.0,43.3" fill="none" stroke="#000" stroke-width="1"/>
<path d="M101.7,44.0 L120.0,44.0 L149.8,83.3" fill="none" stroke="#b22222" stroke-width="1"/>
<path d="M92.0,76.5 L115.0,76.5" fill="none" stroke="#ff0000" stroke-width="1"/>
<path d="M130.0,76.5 L135.0,77.0 L157.0,100.0" fill="none" stroke="#ff0000" stroke-width="1"/>
<path d="M70.0,100.0 L133.0,100.0 L138.0,103.0" fill="none" stroke="#0000ff" stroke-width="1"/>
<path d="M95.0,120.5 L133.0,120.5 L142.0,113.0" fill="none" stroke="#6a5acd" stroke-width="1"/>
<path d="M103.0,137.0 L140.0,137.0 L146.0,146.7" fill="none" stroke="#ff0000" stroke-width="1"/>
<path d="M106.0,151.0 L111.5,151.0" fill="none" stroke="#e0501a" stroke-width="1"/>
<path d="M129.3,150.5 L145.0,160.0" fill="none" stroke="#e0501a" stroke-width="1"/>
<path d="M95.0,166.5 L112.0,166.5" fill="none" stroke="#000" stroke-width="1"/>
<path d="M130.0,166.0 L138.0,172.0" fill="none" stroke="#000" stroke-width="1"/>
<path d="M71.0,179.5 L140.0,179.5" fill="none" stroke="#00b000" stroke-width="1"/>
<path d="M80.0,190.5 L140.0,190.5" fill="none" stroke="#00b000" stroke-width="1"/>
<path d="M70.0,202.0 L112.0,202.0" fill="none" stroke="#2040e0" stroke-width="1"/>
<path d="M130.0,202.0 L135.0,200.0 L160.2,171.5" fill="none" stroke="#2040e0" stroke-width="1"/>
<path d="M81.0,213.5 L128.0,213.5 L156.4,187.6" fill="none" stroke="#2040e0" stroke-width="1"/>
<path d="M97.0,225.5 L140.0,225.5 L147.0,220.0" fill="none" stroke="#ff0000" stroke-width="1"/>
<path d="M52.0,264.5 L132.0,264.5 L137.0,261.0" fill="none" stroke="#000" stroke-width="1"/>
<path d="M112.0,334.5 L117.0,334.5" fill="none" stroke="#ff0000" stroke-width="1"/>
<path d="M130.1,333.6 L138.3,316.2" fill="none" stroke="#ff0000" stroke-width="1"/>
<path d="M107.0,348.5 L132.0,348.5 L143.4,340.4" fill="none" stroke="#ff0000" stroke-width="1"/>
<path d="M92.0,368.0 L135.0,368.0" fill="none" stroke="#000099" stroke-width="1"/>
<path d="M86.0,410.5 L140.0,410.5" fill="none" stroke="#000099" stroke-width="1"/>
<path d="M100.0,429.5 L131.0,429.5 L170.0,449.0" fill="none" stroke="#b22222" stroke-width="1"/>
<path d="M57.0,468.5 L135.0,468.5 L191.8,455.9" fill="none" stroke="#000" stroke-width="1"/>
<path d="M57.0,480.5 L135.0,480.5 L143.0,481.0" fill="none" stroke="#555" stroke-width="1"/>
<path d="M57.0,490.5 L132.0,490.5 L143.0,497.0" fill="none" stroke="#aaa" stroke-width="1"/>
<path d="M57.0,500.5 L132.0,500.5 L143.0,505.0" fill="none" stroke="#ccc" stroke-width="1"/>
<path d="M57.0,509.5 L140.0,509.5" fill="none" stroke="#87cefa" stroke-width="1"/>
<path d="M57.0,511.5 L140.0,511.5" fill="none" stroke="#87cefa" stroke-width="1"/>
<path d="M67.0,527.0 L130.0,527.0 L133.2,516.7 L174.0,464.0" fill="none" stroke="#ff8000" stroke-width="1"/>
<path d="M54.0,556.5 L135.0,556.5" fill="none" stroke="#87cefa" stroke-width="1"/>
<path d="M54.0,558.5 L135.0,558.5" fill="none" stroke="#87cefa" stroke-width="1"/>
<path d="M49.0,571.5 L135.0,571.5" fill="none" stroke="#999" stroke-width="1"/>
<path d="M40.0,582.5 L122.0,582.5" fill="none" stroke="#444" stroke-width="1"/>
<path d="M130.0,582.5 L135.0,582.5" fill="none" stroke="#444" stroke-width="1"/>
<path d="M74.0,594.5 L135.0,594.5" fill="none" stroke="#333" stroke-width="1"/>
<path d="M30.8,605.0 L217.0,605.0 L219.0,600.8" fill="none" stroke="#ffb000" stroke-width="1"/>
<path d="M138.5,623.0 L147.7,623.0 L157.0,608.0" fill="none" stroke="#000" stroke-width="1"/>
</svg></body></html>
